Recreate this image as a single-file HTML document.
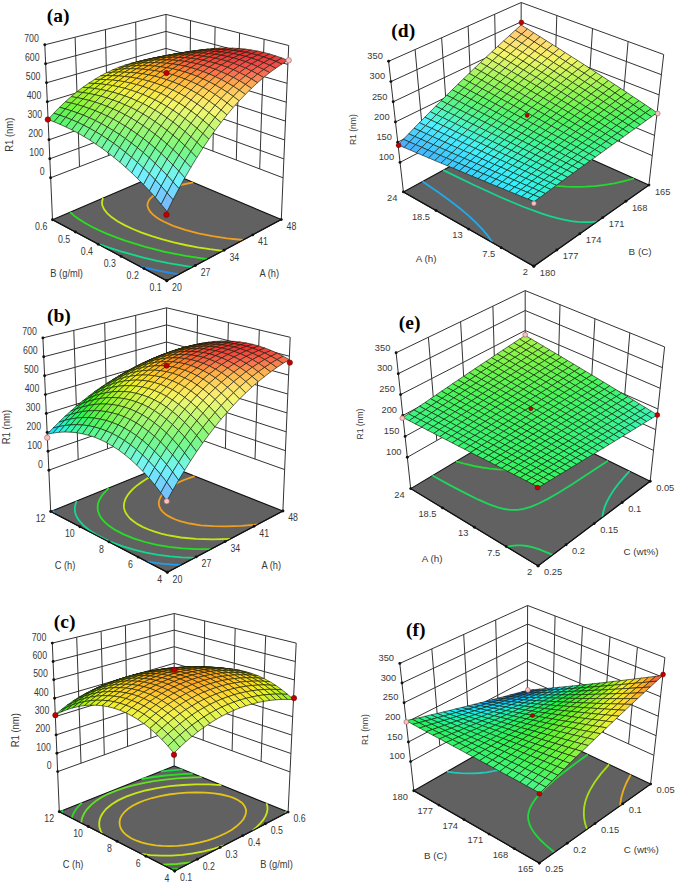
<!DOCTYPE html>
<html><head><meta charset="utf-8"><style>html,body{margin:0;padding:0;background:#fff;}svg{display:block;}</style></head><body>
<svg width="676" height="883" viewBox="0 0 676 883" font-family="&quot;Liberation Sans&quot;, sans-serif">
<rect width="676" height="883" fill="#fff"/>
<polygon points="52.5,219.8 166.2,171 166,14.4 44.8,44.8" fill="#fff"/>
<polygon points="166.2,171 281.3,219.6 288.7,45.5 166,14.4" fill="#fff"/>
<path d="M50.6,177.8L166.2,133.4L283.1,177.8M49.8,158.8L166.1,116.4L283.9,158.9M49,139.8L166.1,99.4L284.7,140M48.1,120.8L166.1,82.4L285.5,121.1M47.3,101.8L166.1,65.4L286.3,102.2M46.5,82.8L166,48.4L287.1,83.3M45.6,63.8L166,31.4L287.9,64.4M44.8,44.8L166,14.4L288.7,45.5M79.5,166.7L75.1,37.2M108.4,155.6L105.4,29.6M137.3,144.5L135.7,22M259.7,168.9L264.1,39.3M236.3,160L239.6,33M212.9,151.2L215.1,26.8M189.5,142.3L190.5,20.6M52.5,219.8L44.8,44.8M166.2,171L166,14.4M281.3,219.6L288.7,45.5" stroke="#333" stroke-width="1" fill="none"/>
<polygon points="166.8,280.8 52.5,219.8 166.2,171 281.3,219.6" fill="#616161" stroke="#111" stroke-width="1.1" stroke-linejoin="round"/>
<polyline points="140.2,266.6 159.4,270.8 178.9,274.4" fill="none" stroke="#2090f0" stroke-width="1.8"/>
<polyline points="97.3,243.7 109,247.7 120.7,251.4 144.2,257.8 156.1,260.6 168.4,263.2 192.3,267.2" fill="none" stroke="#10dc8c" stroke-width="1.8"/>
<polyline points="70.2,212.2 74.3,215.9 79,219.3 84.7,222.8 91.3,226.5 99,230.2 107.1,233.8 115.6,237.2 125.1,240.6 144.5,246.6 164.8,251.8 185.6,255.9 207.3,259.2" fill="none" stroke="#29e020" stroke-width="1.8"/>
<polyline points="103.1,198.1 102.4,199.9 102.1,201.8 102.1,203.8 102.4,205.6 104.1,209.3 107.3,213.3 111.8,217.3 117.5,221.2 124.5,225.1 132.8,229 141.6,232.6 151.8,236.2 162.5,239.4 173.7,242.4 185.4,245 197.7,247.3 209.8,249.2 223,250.8" fill="none" stroke="#cae717" stroke-width="1.8"/>
<polyline points="169.3,172.3 159.1,174" fill="none" stroke="#cae717" stroke-width="1.8"/>
<polyline points="193.2,182.4 180.5,185 169.9,187.9 160.7,191.5 157,193.4 154.1,195.2 151.7,197.1 149.6,199.3 148.4,201.3 147.6,203.6 147.5,205.8 148.1,208 149.1,210.1 150.8,212.4 153,214.7 156,217 159.4,219.2 163.6,221.5 173.1,225.8 185.2,229.9 198.3,233.3 212.5,236.2 227,238.3 243.1,240" fill="none" stroke="#f09f20" stroke-width="1.8"/>
<polyline points="52.5,219.8 166.8,280.8 281.3,219.6" fill="none" stroke="#111" stroke-width="1.1"/>
<circle cx="166.8" cy="280.8" r="1.45" fill="#111"/>
<circle cx="144" cy="268.6" r="1.45" fill="#111"/>
<circle cx="121.1" cy="256.4" r="1.45" fill="#111"/>
<circle cx="98.2" cy="244.2" r="1.45" fill="#111"/>
<circle cx="75.4" cy="232" r="1.45" fill="#111"/>
<circle cx="52.5" cy="219.8" r="1.45" fill="#111"/>
<circle cx="166.8" cy="280.8" r="1.45" fill="#111"/>
<circle cx="195.4" cy="265.5" r="1.45" fill="#111"/>
<circle cx="224.1" cy="250.2" r="1.45" fill="#111"/>
<circle cx="252.7" cy="234.9" r="1.45" fill="#111"/>
<circle cx="281.3" cy="219.6" r="1.45" fill="#111"/>
<circle cx="50.6" cy="177.8" r="1.45" fill="#111"/>
<circle cx="49.8" cy="158.8" r="1.45" fill="#111"/>
<circle cx="49" cy="139.8" r="1.45" fill="#111"/>
<circle cx="48.1" cy="120.8" r="1.45" fill="#111"/>
<circle cx="47.3" cy="101.8" r="1.45" fill="#111"/>
<circle cx="46.5" cy="82.8" r="1.45" fill="#111"/>
<circle cx="45.6" cy="63.8" r="1.45" fill="#111"/>
<circle cx="44.8" cy="44.8" r="1.45" fill="#111"/>
<g stroke="#141c0a" stroke-opacity=".88" stroke-width=".72" stroke-linejoin="round">
<path d="M166.1,56.9L160.1,58.7L166.1,58.6L172.1,56.7Z" fill="#dcf110"/>
<path d="M160.1,57.4L154.1,59.1L160.1,58.7L166.1,56.9Z" fill="#eaf10f"/>
<path d="M172.2,55.2L166.1,56.9L172.1,56.7L178.1,54.9Z" fill="#f1e70f"/>
<path d="M154.2,58.1L148.2,59.8L154.1,59.1L160.1,57.4Z" fill="#efec0e"/>
<path d="M166.2,55.8L160.1,57.4L166.1,56.9L172.2,55.2Z" fill="#f5e00e"/>
<path d="M178.2,53.7L172.2,55.2L178.1,54.9L184.2,53.3Z" fill="#f9d50e"/>
<path d="M148.2,59.2L142.2,60.7L148.2,59.8L154.2,58.1Z" fill="#f1e70d"/>
<path d="M160.2,56.7L154.2,58.1L160.1,57.4L166.2,55.8Z" fill="#f7da0d"/>
<path d="M172.2,54.5L166.2,55.8L172.2,55.2L178.2,53.7Z" fill="#fdd00d"/>
<path d="M184.3,52.5L178.2,53.7L184.2,53.3L190.3,51.9Z" fill="#ffc30d"/>
<path d="M142.2,60.6L136.2,62L142.2,60.7L148.2,59.2Z" fill="#f3e40d"/>
<path d="M154.2,57.9L148.2,59.2L154.2,58.1L160.2,56.7Z" fill="#f9d60d"/>
<path d="M166.3,55.5L160.2,56.7L166.2,55.8L172.2,54.5Z" fill="#ffca0d"/>
<path d="M178.3,53.3L172.2,54.5L178.2,53.7L184.3,52.5Z" fill="#ffbb0d"/>
<path d="M190.4,51.4L184.3,52.5L190.3,51.9L196.4,50.7Z" fill="#ffac0d"/>
<path d="M136.2,62.3L130.2,63.5L136.2,62L142.2,60.6Z" fill="#f3e30d"/>
<path d="M148.2,59.5L142.2,60.6L148.2,59.2L154.2,57.9Z" fill="#fad40d"/>
<path d="M160.3,56.9L154.2,57.9L160.2,56.7L166.3,55.5Z" fill="#ffc50d"/>
<path d="M172.3,54.5L166.3,55.5L172.2,54.5L178.3,53.3Z" fill="#ffb40d"/>
<path d="M184.4,52.4L178.3,53.3L184.3,52.5L190.4,51.4Z" fill="#ffa50d"/>
<path d="M196.5,50.6L190.4,51.4L196.4,50.7L202.5,49.7Z" fill="#ff980d"/>
<path d="M130.3,64.3L124.3,65.4L130.2,63.5L136.2,62.3Z" fill="#f3e30d"/>
<path d="M142.3,61.4L136.2,62.3L142.2,60.6L148.2,59.5Z" fill="#fad30d"/>
<path d="M154.3,58.6L148.2,59.5L154.2,57.9L160.3,56.9Z" fill="#ffc30d"/>
<path d="M166.3,56.1L160.3,56.9L166.3,55.5L172.3,54.5Z" fill="#ffb00d"/>
<path d="M178.4,53.8L172.3,54.5L178.3,53.3L184.4,52.4Z" fill="#ffa00d"/>
<path d="M190.5,51.8L184.4,52.4L190.4,51.4L196.5,50.6Z" fill="#ff920d"/>
<path d="M202.6,50L196.5,50.6L202.5,49.7L208.6,49Z" fill="#fd7c14"/>
<path d="M124.3,66.7L118.3,67.5L124.3,65.4L130.3,64.3Z" fill="#f2e50e"/>
<path d="M136.3,63.6L130.3,64.3L136.2,62.3L142.3,61.4Z" fill="#fad50e"/>
<path d="M148.3,60.6L142.3,61.4L148.2,59.5L154.3,58.6Z" fill="#ffc30e"/>
<path d="M160.3,57.9L154.3,58.6L160.3,56.9L166.3,56.1Z" fill="#ffb00e"/>
<path d="M172.4,55.5L166.3,56.1L172.3,54.5L178.4,53.8Z" fill="#ff9e0e"/>
<path d="M184.5,53.3L178.4,53.8L184.4,52.4L190.5,51.8Z" fill="#fe8a10"/>
<path d="M196.6,51.3L190.5,51.8L196.5,50.6L202.6,50Z" fill="#fc7219"/>
<path d="M118.3,69.4L112.4,70L118.3,67.5L124.3,66.7Z" fill="#f1e810"/>
<path d="M208.7,49.6L202.6,50L208.6,49L214.7,48.4Z" fill="#f95d20"/>
<path d="M130.3,66.1L124.3,66.7L130.3,64.3L136.3,63.6Z" fill="#f9d810"/>
<path d="M142.3,63L136.3,63.6L142.3,61.4L148.3,60.6Z" fill="#ffc70f"/>
<path d="M154.3,60.1L148.3,60.6L154.3,58.6L160.3,57.9Z" fill="#ffb10f"/>
<path d="M166.4,57.5L160.3,57.9L166.3,56.1L172.4,55.5Z" fill="#ff9e0f"/>
<path d="M178.5,55.1L172.4,55.5L178.4,53.8L184.5,53.3Z" fill="#fe8812"/>
<path d="M112.4,72.3L106.4,72.8L112.4,70L118.3,69.4Z" fill="#eeec12"/>
<path d="M190.6,53L184.5,53.3L190.5,51.8L196.6,51.3Z" fill="#fb6d1b"/>
<path d="M202.7,51.1L196.6,51.3L202.6,50L208.7,49.6Z" fill="#f85524"/>
<path d="M124.3,68.9L118.3,69.4L124.3,66.7L130.3,66.1Z" fill="#f8dc12"/>
<path d="M214.8,49.4L208.7,49.6L214.7,48.4L220.8,48.1Z" fill="#f64926"/>
<path d="M136.3,65.7L130.3,66.1L136.3,63.6L142.3,63Z" fill="#ffcc11"/>
<path d="M148.3,62.7L142.3,63L148.3,60.6L154.3,60.1Z" fill="#ffb511"/>
<path d="M160.4,59.9L154.3,60.1L160.3,57.9L166.4,57.5Z" fill="#ffa111"/>
<path d="M106.5,75.7L100.5,75.9L106.4,72.8L112.4,72.3Z" fill="#e9f115"/>
<path d="M172.5,57.3L166.4,57.5L172.4,55.5L178.5,55.1Z" fill="#fe8b13"/>
<path d="M184.6,55L178.5,55.1L184.5,53.3L190.6,53Z" fill="#fb6d1e"/>
<path d="M118.4,72.1L112.4,72.3L118.3,69.4L124.3,68.9Z" fill="#f5e214"/>
<path d="M196.7,52.9L190.6,53L196.6,51.3L202.7,51.1Z" fill="#f85227"/>
<path d="M208.8,51.1L202.7,51.1L208.7,49.6L214.8,49.4Z" fill="#f64728"/>
<path d="M220.9,49.5L214.8,49.4L220.8,48.1L226.9,48Z" fill="#f33e28"/>
<path d="M130.4,68.8L124.3,68.9L130.3,66.1L136.3,65.7Z" fill="#fdd114"/>
<path d="M142.4,65.6L136.3,65.7L142.3,63L148.3,62.7Z" fill="#ffbc13"/>
<path d="M154.4,62.6L148.3,62.7L154.3,60.1L160.4,59.9Z" fill="#ffa613"/>
<path d="M100.5,79.4L94.6,79.4L100.5,75.9L106.5,75.7Z" fill="#dcf118"/>
<path d="M166.5,59.9L160.4,59.9L166.4,57.5L172.5,57.3Z" fill="#ff9113"/>
<path d="M112.5,75.7L106.5,75.7L112.4,72.3L118.4,72.1Z" fill="#f1e817"/>
<path d="M178.5,57.4L172.5,57.3L178.5,55.1L184.6,55Z" fill="#fb721e"/>
<path d="M190.7,55.1L184.6,55L190.6,53L196.7,52.9Z" fill="#f85428"/>
<path d="M124.4,72.2L118.4,72.1L124.3,68.9L130.4,68.8Z" fill="#fad817"/>
<path d="M202.8,53.1L196.7,52.9L202.7,51.1L208.8,51.1Z" fill="#f54829"/>
<path d="M214.9,51.4L208.8,51.1L214.8,49.4L220.9,49.5Z" fill="#f23d2b"/>
<path d="M227,49.8L220.9,49.5L226.9,48L233.1,48.2Z" fill="#ef352b"/>
<path d="M136.4,68.8L130.4,68.8L136.3,65.7L142.4,65.6Z" fill="#ffc516"/>
<path d="M94.6,83.4L88.7,83.2L94.6,79.4L100.5,79.4Z" fill="#cbf21c"/>
<path d="M148.4,65.7L142.4,65.6L148.3,62.7L154.4,62.6Z" fill="#ffae16"/>
<path d="M160.5,62.8L154.4,62.6L160.4,59.9L166.5,59.9Z" fill="#ff9a15"/>
<path d="M106.5,79.6L100.5,79.4L106.5,75.7L112.5,75.7Z" fill="#edf21b"/>
<path d="M172.5,60.1L166.5,59.9L172.5,57.3L178.5,57.4Z" fill="#fc7b1e"/>
<path d="M118.5,75.9L112.5,75.7L118.4,72.1L124.4,72.2Z" fill="#f6e01a"/>
<path d="M184.6,57.7L178.5,57.4L184.6,55L190.7,55.1Z" fill="#f95c28"/>
<path d="M196.8,55.5L190.7,55.1L196.7,52.9L202.8,53.1Z" fill="#f64b2b"/>
<path d="M130.4,72.5L124.4,72.2L130.4,68.8L136.4,68.8Z" fill="#fecf1a"/>
<path d="M208.9,53.6L202.8,53.1L208.8,51.1L214.9,51.4Z" fill="#f2402d"/>
<path d="M221,51.9L214.9,51.4L220.9,49.5L227,49.8Z" fill="#ef362d"/>
<path d="M88.8,87.8L82.8,87.3L88.7,83.2L94.6,83.4Z" fill="#b9f220"/>
<path d="M233.2,50.4L227,49.8L233.1,48.2L239.2,48.5Z" fill="#ec2e2e"/>
<path d="M142.4,69.2L136.4,68.8L142.4,65.6L148.4,65.7Z" fill="#ffb919"/>
<path d="M100.6,83.9L94.6,83.4L100.5,79.4L106.5,79.6Z" fill="#dcf21f"/>
<path d="M154.5,66.1L148.4,65.7L154.4,62.6L160.5,62.8Z" fill="#ffa418"/>
<path d="M166.5,63.3L160.5,62.8L166.5,59.9L172.5,60.1Z" fill="#fe8a1c"/>
<path d="M112.5,80.1L106.5,79.6L112.5,75.7L118.5,75.9Z" fill="#f2e91f"/>
<path d="M178.6,60.6L172.5,60.1L178.5,57.4L184.6,57.7Z" fill="#fa6927"/>
<path d="M190.7,58.3L184.6,57.7L190.7,55.1L196.8,55.5Z" fill="#f7512e"/>
<path d="M124.5,76.5L118.5,75.9L124.4,72.2L130.4,72.5Z" fill="#fad81e"/>
<path d="M82.9,92.5L76.9,91.8L82.8,87.3L88.8,87.8Z" fill="#a6f225"/>
<path d="M202.9,56.2L196.8,55.5L202.8,53.1L208.9,53.6Z" fill="#f3442e"/>
<path d="M215,54.3L208.9,53.6L214.9,51.4L221,51.9Z" fill="#ef3a2f"/>
<path d="M136.5,73L130.4,72.5L136.4,68.8L142.4,69.2Z" fill="#ffc51d"/>
<path d="M227.1,52.6L221,51.9L227,49.8L233.2,50.4Z" fill="#ed3130"/>
<path d="M239.3,51.2L233.2,50.4L239.2,48.5L245.3,49.1Z" fill="#eb2d2e"/>
<path d="M94.7,88.5L88.8,87.8L94.6,83.4L100.6,83.9Z" fill="#c9f224"/>
<path d="M148.5,69.8L142.4,69.2L148.4,65.7L154.5,66.1Z" fill="#ffaf1c"/>
<path d="M106.6,84.6L100.6,83.9L106.5,79.6L112.5,80.1Z" fill="#eaf223"/>
<path d="M160.5,66.8L154.5,66.1L160.5,62.8L166.5,63.3Z" fill="#ff9a1b"/>
<path d="M172.6,64L166.5,63.3L172.5,60.1L178.6,60.6Z" fill="#fc7925"/>
<path d="M118.5,80.8L112.5,80.1L118.5,75.9L124.5,76.5Z" fill="#f5e222"/>
<path d="M77.1,97.6L71.1,96.6L76.9,91.8L82.9,92.5Z" fill="#92f32b"/>
<path d="M184.7,61.4L178.6,60.6L184.6,57.7L190.7,58.3Z" fill="#f95a2f"/>
<path d="M196.8,59.1L190.7,58.3L196.8,55.5L202.9,56.2Z" fill="#f54b31"/>
<path d="M130.5,77.2L124.5,76.5L130.4,72.5L136.5,73Z" fill="#fdd321"/>
<path d="M88.9,93.5L82.9,92.5L88.8,87.8L94.7,88.5Z" fill="#b4f22a"/>
<path d="M209,57.1L202.9,56.2L208.9,53.6L215,54.3Z" fill="#f14032"/>
<path d="M221.1,55.2L215,54.3L221,51.9L227.1,52.6Z" fill="#ee3633"/>
<path d="M142.5,73.8L136.5,73L142.4,69.2L148.5,69.8Z" fill="#ffbd21"/>
<path d="M233.3,53.6L227.1,52.6L233.2,50.4L239.3,51.2Z" fill="#ec3131"/>
<path d="M245.4,52.3L239.3,51.2L245.3,49.1L251.4,50Z" fill="#ea2f30"/>
<path d="M100.7,89.5L94.7,88.5L100.6,83.9L106.6,84.6Z" fill="#d5f229"/>
<path d="M154.5,70.6L148.5,69.8L154.5,66.1L160.5,66.8Z" fill="#ffa720"/>
<path d="M71.3,103.1L65.3,101.8L71.1,96.6L77.1,97.6Z" fill="#7ff331"/>
<path d="M112.6,85.6L106.6,84.6L112.5,80.1L118.5,80.8Z" fill="#f0ee28"/>
<path d="M166.6,67.7L160.5,66.8L166.5,63.3L172.6,64Z" fill="#fe8e22"/>
<path d="M178.7,64.9L172.6,64L178.6,60.6L184.7,61.4Z" fill="#fb6d2e"/>
<path d="M124.6,81.8L118.5,80.8L124.5,76.5L130.5,77.2Z" fill="#f8de27"/>
<path d="M83,98.9L77.1,97.6L82.9,92.5L88.9,93.5Z" fill="#9ef330"/>
<path d="M190.8,62.5L184.7,61.4L190.7,58.3L196.8,59.1Z" fill="#f75634"/>
<path d="M202.9,60.2L196.8,59.1L202.9,56.2L209,57.1Z" fill="#f34934"/>
<path d="M136.5,78.3L130.5,77.2L136.5,73L142.5,73.8Z" fill="#ffcd26"/>
<path d="M215.1,58.2L209,57.1L215,54.3L221.1,55.2Z" fill="#f03e35"/>
<path d="M94.9,94.7L88.9,93.5L94.7,88.5L100.7,89.5Z" fill="#bff32f"/>
<path d="M227.2,56.5L221.1,55.2L227.1,52.6L233.3,53.6Z" fill="#ed3535"/>
<path d="M239.4,54.9L233.3,53.6L239.3,51.2L245.4,52.3Z" fill="#ea3234"/>
<path d="M148.6,74.9L142.5,73.8L148.5,69.8L154.5,70.6Z" fill="#ffb725"/>
<path d="M251.5,53.6L245.4,52.3L251.4,50L257.6,51.1Z" fill="#e82f32"/>
<path d="M65.5,108.9L59.5,107.3L65.3,101.8L71.3,103.1Z" fill="#6bf33b"/>
<path d="M106.7,90.7L100.7,89.5L106.6,84.6L112.6,85.6Z" fill="#e0f32e"/>
<path d="M160.6,71.7L154.5,70.6L160.5,66.8L166.6,67.7Z" fill="#ffa224"/>
<path d="M77.2,104.6L71.3,103.1L77.1,97.6L83,98.9Z" fill="#8af337"/>
<path d="M172.7,68.8L166.6,67.7L172.6,64L178.7,64.9Z" fill="#fc852a"/>
<path d="M118.6,86.8L112.6,85.6L118.5,80.8L124.6,81.8Z" fill="#f3ea2d"/>
<path d="M184.8,66.2L178.7,64.9L184.7,61.4L190.8,62.5Z" fill="#fa6635"/>
<path d="M89,100.4L83,98.9L88.9,93.5L94.9,94.7Z" fill="#a7f336"/>
<path d="M130.6,83.1L124.6,81.8L130.5,77.2L136.5,78.3Z" fill="#fbda2b"/>
<path d="M196.9,63.8L190.8,62.5L196.8,59.1L202.9,60.2Z" fill="#f55437"/>
<path d="M59.7,115.2L53.8,113.2L59.5,107.3L65.5,108.9Z" fill="#5cf450"/>
<path d="M209,61.6L202.9,60.2L209,57.1L215.1,58.2Z" fill="#f24838"/>
<path d="M142.6,79.5L136.5,78.3L142.5,73.8L148.6,74.9Z" fill="#ffc82a"/>
<path d="M221.2,59.6L215.1,58.2L221.1,55.2L227.2,56.5Z" fill="#ef3d38"/>
<path d="M100.9,96.2L94.9,94.7L100.7,89.5L106.7,90.7Z" fill="#c8f334"/>
<path d="M233.3,57.9L227.2,56.5L233.3,53.6L239.4,54.9Z" fill="#ec3737"/>
<path d="M245.5,56.4L239.4,54.9L245.4,52.3L251.5,53.6Z" fill="#eb3536"/>
<path d="M257.6,55.1L251.5,53.6L257.6,51.1L263.7,52.4Z" fill="#e93234"/>
<path d="M154.6,76.2L148.6,74.9L154.5,70.6L160.6,71.7Z" fill="#ffb329"/>
<path d="M71.4,110.8L65.5,108.9L71.3,103.1L77.2,104.6Z" fill="#74f43f"/>
<path d="M112.7,92.2L106.7,90.7L112.6,85.6L118.6,86.8Z" fill="#e7f333"/>
<path d="M166.7,73.1L160.6,71.7L166.6,67.7L172.7,68.8Z" fill="#ffa028"/>
<path d="M83.2,106.4L77.2,104.6L83,98.9L89,100.4Z" fill="#92f43d"/>
<path d="M178.8,70.3L172.7,68.8L178.7,64.9L184.8,66.2Z" fill="#fc8032"/>
<path d="M124.7,88.3L118.6,86.8L124.6,81.8L130.6,83.1Z" fill="#f5e732"/>
<path d="M54,121.8L48.1,119.5L53.8,113.2L59.7,115.2Z" fill="#50f467"/>
<path d="M190.9,67.7L184.8,66.2L190.8,62.5L196.9,63.8Z" fill="#f9623b"/>
<path d="M95,102.1L89,100.4L94.9,94.7L100.9,96.2Z" fill="#aff43c"/>
<path d="M136.6,84.6L130.6,83.1L136.5,78.3L142.6,79.5Z" fill="#fdd830"/>
<path d="M203,65.3L196.9,63.8L202.9,60.2L209,61.6Z" fill="#f5553c"/>
<path d="M215.1,63.2L209,61.6L215.1,58.2L221.2,59.6Z" fill="#f1493c"/>
<path d="M65.7,117.3L59.7,115.2L65.5,108.9L71.4,110.8Z" fill="#64f454"/>
<path d="M227.3,61.3L221.2,59.6L227.2,56.5L233.3,57.9Z" fill="#ef3f3c"/>
<path d="M148.6,81.1L142.6,79.5L148.6,74.9L154.6,76.2Z" fill="#ffc52f"/>
<path d="M239.4,59.7L233.3,57.9L239.4,54.9L245.5,56.4Z" fill="#ec3a3b"/>
<path d="M106.9,98L100.9,96.2L106.7,90.7L112.7,92.2Z" fill="#cef33a"/>
<path d="M251.6,58.2L245.5,56.4L251.5,53.6L257.6,55.1Z" fill="#ea3739"/>
<path d="M263.7,57L257.6,55.1L263.7,52.4L269.8,54Z" fill="#e93537"/>
<path d="M160.7,77.8L154.6,76.2L160.6,71.7L166.7,73.1Z" fill="#ffb12e"/>
<path d="M77.4,112.9L71.4,110.8L77.2,104.6L83.2,106.4Z" fill="#7df446"/>
<path d="M118.8,93.9L112.7,92.2L118.6,86.8L124.7,88.3Z" fill="#edf339"/>
<path d="M172.7,74.8L166.7,73.1L172.7,68.8L178.8,70.3Z" fill="#ff9d2d"/>
<path d="M89.2,108.5L83.2,106.4L89,100.4L95,102.1Z" fill="#99f444"/>
<path d="M184.8,72L178.8,70.3L184.8,66.2L190.9,67.7Z" fill="#fc7e38"/>
<path d="M130.7,90.1L124.7,88.3L130.6,83.1L136.6,84.6Z" fill="#f6e537"/>
<path d="M60,124.3L54,121.8L59.7,115.2L65.7,117.3Z" fill="#57f56c"/>
<path d="M196.9,69.5L190.9,67.7L196.9,63.8L203,65.3Z" fill="#f8633f"/>
<path d="M209.1,67.2L203,65.3L209,61.6L215.1,63.2Z" fill="#f55740"/>
<path d="M101,104.1L95,102.1L100.9,96.2L106.9,98Z" fill="#b6f442"/>
<path d="M142.7,86.4L136.6,84.6L142.6,79.5L148.6,81.1Z" fill="#fdd736"/>
<path d="M221.2,65.1L215.1,63.2L221.2,59.6L227.3,61.3Z" fill="#f14c3f"/>
<path d="M71.7,119.7L65.7,117.3L71.4,110.8L77.4,112.9Z" fill="#6cf55a"/>
<path d="M233.3,63.3L227.3,61.3L233.3,57.9L239.4,59.7Z" fill="#ef4340"/>
<path d="M154.7,82.9L148.6,81.1L154.6,76.2L160.7,77.8Z" fill="#ffc434"/>
<path d="M245.5,61.7L239.4,59.7L245.5,56.4L251.6,58.2Z" fill="#ec3e3e"/>
<path d="M257.7,60.3L251.6,58.2L257.6,55.1L263.7,57Z" fill="#eb3c3d"/>
<path d="M112.9,100L106.9,98L112.7,92.2L118.8,93.9Z" fill="#d4f441"/>
<path d="M269.8,59.1L263.7,57L269.8,54L275.9,55.9Z" fill="#e9393c"/>
<path d="M166.7,79.7L160.7,77.8L166.7,73.1L172.7,74.8Z" fill="#ffb133"/>
<path d="M83.4,115.2L77.4,112.9L83.2,106.4L89.2,108.5Z" fill="#84f54d"/>
<path d="M124.8,95.9L118.8,93.9L124.7,88.3L130.7,90.1Z" fill="#f0f43f"/>
<path d="M178.8,76.8L172.7,74.8L178.8,70.3L184.8,72Z" fill="#fe9d34"/>
<path d="M95.2,110.7L89.2,108.5L95,102.1L101,104.1Z" fill="#9ff44b"/>
<path d="M190.9,74L184.8,72L190.9,67.7L196.9,69.5Z" fill="#fc7f3c"/>
<path d="M136.7,92.1L130.7,90.1L136.6,84.6L142.7,86.4Z" fill="#f7e53d"/>
<path d="M65.9,127L60,124.3L65.7,117.3L71.7,119.7Z" fill="#5ff572"/>
<path d="M203,71.6L196.9,69.5L203,65.3L209.1,67.2Z" fill="#f86643"/>
<path d="M215.1,69.3L209.1,67.2L215.1,63.2L221.2,65.1Z" fill="#f55b44"/>
<path d="M107,106.4L101,104.1L106.9,98L112.9,100Z" fill="#baf449"/>
<path d="M148.7,88.5L142.7,86.4L148.6,81.1L154.7,82.9Z" fill="#fed73c"/>
<path d="M227.3,67.3L221.2,65.1L227.3,61.3L233.3,63.3Z" fill="#f35144"/>
<path d="M77.6,122.3L71.7,119.7L77.4,112.9L83.4,115.2Z" fill="#73f561"/>
<path d="M239.4,65.6L233.3,63.3L239.4,59.7L245.5,61.7Z" fill="#f04843"/>
<path d="M251.6,64L245.5,61.7L251.6,58.2L257.7,60.3Z" fill="#ed4243"/>
<path d="M160.8,85.1L154.7,82.9L160.7,77.8L166.7,79.7Z" fill="#ffc53a"/>
<path d="M263.7,62.7L257.7,60.3L263.7,57L269.8,59.1Z" fill="#ec4042"/>
<path d="M275.9,61.4L269.8,59.1L275.9,55.9L282,58Z" fill="#eb3e40"/>
<path d="M118.9,102.2L112.9,100L118.8,93.9L124.8,95.9Z" fill="#d7f447"/>
<path d="M172.8,81.9L166.7,79.7L172.7,74.8L178.8,76.8Z" fill="#ffb339"/>
<path d="M89.4,117.8L83.4,115.2L89.2,108.5L95.2,110.7Z" fill="#89f554"/>
<path d="M130.8,98.2L124.8,95.9L130.7,90.1L136.7,92.1Z" fill="#f0f345"/>
<path d="M184.9,79L178.8,76.8L184.8,72L190.9,74Z" fill="#fea039"/>
<path d="M101.2,113.3L95.2,110.7L101,104.1L107,106.4Z" fill="#a3f552"/>
<path d="M197,76.3L190.9,74L196.9,69.5L203,71.6Z" fill="#fc8541"/>
<path d="M71.9,129.9L65.9,127L71.7,119.7L77.6,122.3Z" fill="#66f67a"/>
<path d="M142.8,94.4L136.7,92.1L142.7,86.4L148.7,88.5Z" fill="#f8e543"/>
<path d="M209.1,73.9L203,71.6L209.1,67.2L215.1,69.3Z" fill="#f96c48"/>
<path d="M221.2,71.8L215.1,69.3L221.2,65.1L227.3,67.3Z" fill="#f66149"/>
<path d="M113,108.9L107,106.4L112.9,100L118.9,102.2Z" fill="#bdf550"/>
<path d="M154.8,90.8L148.7,88.5L154.7,82.9L160.8,85.1Z" fill="#fed842"/>
<path d="M233.4,69.8L227.3,67.3L233.3,63.3L239.4,65.6Z" fill="#f45848"/>
<path d="M83.6,125.2L77.6,122.3L83.4,115.2L89.4,117.8Z" fill="#79f669"/>
<path d="M245.5,68.1L239.4,65.6L245.5,61.7L251.6,64Z" fill="#f14f48"/>
<path d="M257.6,66.6L251.6,64L257.7,60.3L263.7,62.7Z" fill="#ef4948"/>
<path d="M269.8,65.3L263.7,62.7L269.8,59.1L275.9,61.4Z" fill="#ee4646"/>
<path d="M281.9,64.1L275.9,61.4L282,58L288,60.4Z" fill="#ec4345"/>
<path d="M166.8,87.5L160.8,85.1L166.7,79.7L172.8,81.9Z" fill="#ffc740"/>
<path d="M124.9,104.8L118.9,102.2L124.8,95.9L130.8,98.2Z" fill="#d7f54e"/>
<path d="M178.9,84.4L172.8,81.9L178.8,76.8L184.9,79Z" fill="#ffb73f"/>
<path d="M95.4,120.6L89.4,117.8L95.2,110.7L101.2,113.3Z" fill="#8ef55c"/>
<path d="M136.9,100.8L130.8,98.2L136.7,92.1L142.8,94.4Z" fill="#f1f44c"/>
<path d="M190.9,81.5L184.9,79L190.9,74L197,76.3Z" fill="#ffa63e"/>
<path d="M203,78.9L197,76.3L203,71.6L209.1,73.9Z" fill="#fd8c45"/>
<path d="M107.2,116.1L101.2,113.3L107,106.4L113,108.9Z" fill="#a5f55a"/>
<path d="M77.9,133.1L71.9,129.9L77.6,122.3L83.6,125.2Z" fill="#6ef683"/>
<path d="M148.8,97L142.8,94.4L148.7,88.5L154.8,90.8Z" fill="#f7e74a"/>
<path d="M215.2,76.6L209.1,73.9L215.1,69.3L221.2,71.8Z" fill="#fa764c"/>
<path d="M227.3,74.5L221.2,71.8L227.3,67.3L233.4,69.8Z" fill="#f7694d"/>
<path d="M160.8,93.4L154.8,90.8L160.8,85.1L166.8,87.5Z" fill="#fedb48"/>
<path d="M119.1,111.7L113,108.9L118.9,102.2L124.9,104.8Z" fill="#bef557"/>
<path d="M239.4,72.6L233.4,69.8L239.4,65.6L245.5,68.1Z" fill="#f5604d"/>
<path d="M251.6,70.9L245.5,68.1L251.6,64L257.6,66.6Z" fill="#f2594c"/>
<path d="M89.6,128.3L83.6,125.2L89.4,117.8L95.4,120.6Z" fill="#7ef671"/>
<path d="M263.7,69.5L257.6,66.6L263.7,62.7L269.8,65.3Z" fill="#f1524c"/>
<path d="M275.8,68.2L269.8,65.3L275.9,61.4L281.9,64.1Z" fill="#f04d4c"/>
<path d="M172.9,90.1L166.8,87.5L172.8,81.9L178.9,84.4Z" fill="#ffcb47"/>
<path d="M131,107.6L124.9,104.8L130.8,98.2L136.9,100.8Z" fill="#d7f555"/>
<path d="M184.9,87.1L178.9,84.4L184.9,79L190.9,81.5Z" fill="#ffbb45"/>
<path d="M101.4,123.7L95.4,120.6L101.2,113.3L107.2,116.1Z" fill="#91f664"/>
<path d="M142.9,103.6L136.9,100.8L142.8,94.4L148.8,97Z" fill="#eff553"/>
<path d="M197,84.3L190.9,81.5L197,76.3L203,78.9Z" fill="#ffad43"/>
<path d="M209.1,81.8L203,78.9L209.1,73.9L215.2,76.6Z" fill="#fe9748"/>
<path d="M113.2,119.1L107.2,116.1L113,108.9L119.1,111.7Z" fill="#a7f661"/>
<path d="M83.9,136.5L77.9,133.1L83.6,125.2L89.6,128.3Z" fill="#75f78d"/>
<path d="M154.9,99.9L148.8,97L154.8,90.8L160.8,93.4Z" fill="#f7ea51"/>
<path d="M221.2,79.5L215.2,76.6L221.2,71.8L227.3,74.5Z" fill="#fb824e"/>
<path d="M233.3,77.5L227.3,74.5L233.4,69.8L239.4,72.6Z" fill="#f97252"/>
<path d="M245.5,75.7L239.4,72.6L245.5,68.1L251.6,70.9Z" fill="#f76951"/>
<path d="M166.9,96.4L160.8,93.4L166.8,87.5L172.9,90.1Z" fill="#fcde4f"/>
<path d="M125.1,114.8L119.1,111.7L124.9,104.8L131,107.6Z" fill="#bef65f"/>
<path d="M257.6,74.1L251.6,70.9L257.6,66.6L263.7,69.5Z" fill="#f56351"/>
<path d="M269.7,72.6L263.7,69.5L269.8,65.3L275.8,68.2Z" fill="#f35e50"/>
<path d="M95.6,131.7L89.6,128.3L95.4,120.6L101.4,123.7Z" fill="#82f77b"/>
<path d="M178.9,93.1L172.9,90.1L178.9,84.4L184.9,87.1Z" fill="#ffd04d"/>
<path d="M137,110.6L131,107.6L136.9,100.8L142.9,103.6Z" fill="#d6f55d"/>
<path d="M191,90.1L184.9,87.1L190.9,81.5L197,84.3Z" fill="#ffc24c"/>
<path d="M107.4,127L101.4,123.7L107.2,116.1L113.2,119.1Z" fill="#94f66d"/>
<path d="M203.1,87.4L197,84.3L203,78.9L209.1,81.8Z" fill="#ffb44a"/>
<path d="M148.9,106.7L142.9,103.6L148.8,97L154.9,99.9Z" fill="#ecf55a"/>
<path d="M215.2,85L209.1,81.8L215.2,76.6L221.2,79.5Z" fill="#fea54b"/>
<path d="M119.2,122.5L113.2,119.1L119.1,111.7L125.1,114.8Z" fill="#a8f669"/>
<path d="M89.9,140.1L83.9,136.5L89.6,128.3L95.6,131.7Z" fill="#76f793"/>
<path d="M227.3,82.8L221.2,79.5L227.3,74.5L233.3,77.5Z" fill="#fc9150"/>
<path d="M160.9,103L154.9,99.9L160.8,93.4L166.9,96.4Z" fill="#f6ed58"/>
<path d="M239.4,80.8L233.3,77.5L239.4,72.6L245.5,75.7Z" fill="#fb8055"/>
<path d="M251.5,79L245.5,75.7L251.6,70.9L257.6,74.1Z" fill="#f97556"/>
<path d="M263.6,77.5L257.6,74.1L263.7,69.5L269.7,72.6Z" fill="#f86f56"/>
<path d="M172.9,99.6L166.9,96.4L172.9,90.1L178.9,93.1Z" fill="#fbe256"/>
<path d="M131.1,118.1L125.1,114.8L131,107.6L137,110.6Z" fill="#bdf667"/>
<path d="M101.6,135.3L95.6,131.7L101.4,123.7L107.4,127Z" fill="#82f780"/>
<path d="M185,96.4L178.9,93.1L184.9,87.1L191,90.1Z" fill="#ffd754"/>
<path d="M143,114L137,110.6L142.9,103.6L148.9,106.7Z" fill="#d3f664"/>
<path d="M197,93.5L191,90.1L197,84.3L203.1,87.4Z" fill="#ffca53"/>
<path d="M113.4,130.6L107.4,127L113.2,119.1L119.2,122.5Z" fill="#95f776"/>
<path d="M209.1,90.8L203.1,87.4L209.1,81.8L215.2,85Z" fill="#ffbd51"/>
<path d="M154.9,110.1L148.9,106.7L154.9,99.9L160.9,103Z" fill="#e8f662"/>
<path d="M221.2,88.5L215.2,85L221.2,79.5L227.3,82.8Z" fill="#ffb24f"/>
<path d="M125.2,126.1L119.2,122.5L125.1,114.8L131.1,118.1Z" fill="#a9f772"/>
<path d="M95.8,144.1L89.9,140.1L95.6,131.7L101.6,135.3Z" fill="#75f798"/>
<path d="M233.3,86.3L227.3,82.8L233.3,77.5L239.4,80.8Z" fill="#fea352"/>
<path d="M166.9,106.5L160.9,103L166.9,96.4L172.9,99.6Z" fill="#f5f160"/>
<path d="M245.4,84.4L239.4,80.8L245.5,75.7L251.5,79Z" fill="#fc9356"/>
<path d="M257.5,82.7L251.5,79L257.6,74.1L263.6,77.5Z" fill="#fb8659"/>
<path d="M178.9,103.1L172.9,99.6L178.9,93.1L185,96.4Z" fill="#f9e75e"/>
<path d="M137.1,121.7L131.1,118.1L137,110.6L143,114Z" fill="#bbf76f"/>
<path d="M107.6,139.2L101.6,135.3L107.4,127L113.4,130.6Z" fill="#7df783"/>
<path d="M191,100L185,96.4L191,90.1L197,93.5Z" fill="#fede5c"/>
<path d="M149,117.6L143,114L148.9,106.7L154.9,110.1Z" fill="#cff66d"/>
<path d="M203,97.1L197,93.5L203.1,87.4L209.1,90.8Z" fill="#ffd25a"/>
<path d="M119.4,134.4L113.4,130.6L119.2,122.5L125.2,126.1Z" fill="#90f778"/>
<path d="M215.1,94.6L209.1,90.8L215.2,85L221.2,88.5Z" fill="#ffc758"/>
<path d="M161,113.8L154.9,110.1L160.9,103L166.9,106.5Z" fill="#e2f66a"/>
<path d="M227.2,92.2L221.2,88.5L227.3,82.8L233.3,86.3Z" fill="#ffbd57"/>
<path d="M239.3,90.2L233.3,86.3L239.4,80.8L245.4,84.4Z" fill="#ffb455"/>
<path d="M131.2,129.9L125.2,126.1L131.1,118.1L137.1,121.7Z" fill="#a3f773"/>
<path d="M101.8,148.2L95.8,144.1L101.6,135.3L107.6,139.2Z" fill="#74f89e"/>
<path d="M173,110.2L166.9,106.5L172.9,99.6L178.9,103.1Z" fill="#f4f668"/>
<path d="M251.4,88.3L245.4,84.4L251.5,79L257.5,82.7Z" fill="#fea857"/>
<path d="M185,106.9L178.9,103.1L185,96.4L191,100Z" fill="#f8ec66"/>
<path d="M143.1,125.6L137.1,121.7L143,114L149,117.6Z" fill="#b7f773"/>
<path d="M113.6,143.3L107.6,139.2L113.4,130.6L119.4,134.4Z" fill="#78f787"/>
<path d="M197,103.9L191,100L197,93.5L203,97.1Z" fill="#fce464"/>
<path d="M155,121.6L149,117.6L154.9,110.1L161,113.8Z" fill="#caf773"/>
<path d="M209.1,101.1L203,97.1L209.1,90.8L215.1,94.6Z" fill="#ffdc62"/>
<path d="M125.4,138.6L119.4,134.4L125.2,126.1L131.2,129.9Z" fill="#8af77c"/>
<path d="M221.1,98.6L215.1,94.6L221.2,88.5L227.2,92.2Z" fill="#ffd260"/>
<path d="M167,117.8L161,113.8L166.9,106.5L173,110.2Z" fill="#dcf772"/>
<path d="M233.2,96.4L227.2,92.2L233.3,86.3L239.3,90.2Z" fill="#ffc85e"/>
<path d="M245.3,94.4L239.3,90.2L245.4,84.4L251.4,88.3Z" fill="#ffc15d"/>
<path d="M137.2,134.1L131.2,129.9L137.1,121.7L143.1,125.6Z" fill="#9df773"/>
<path d="M107.8,152.6L101.8,148.2L107.6,139.2L113.6,143.3Z" fill="#73f8a6"/>
<path d="M179,114.3L173,110.2L178.9,103.1L185,106.9Z" fill="#edf770"/>
<path d="M191,111L185,106.9L191,100L197,103.9Z" fill="#f6f26e"/>
<path d="M149.1,129.8L143.1,125.6L149,117.6L155,121.6Z" fill="#b0f773"/>
<path d="M119.6,147.7L113.6,143.3L119.4,134.4L125.4,138.6Z" fill="#77f78e"/>
<path d="M203,108.1L197,103.9L203,97.1L209.1,101.1Z" fill="#f9ea6c"/>
<path d="M161,125.8L155,121.6L161,113.8L167,117.8Z" fill="#c2f773"/>
<path d="M215.1,105.4L209.1,101.1L215.1,94.6L221.1,98.6Z" fill="#fde46a"/>
<path d="M131.4,143L125.4,138.6L131.2,129.9L137.2,134.1Z" fill="#84f77f"/>
<path d="M227.1,102.9L221.1,98.6L227.2,92.2L233.2,96.4Z" fill="#ffdd68"/>
<path d="M173,122.1L167,117.8L173,110.2L179,114.3Z" fill="#d4f773"/>
<path d="M239.2,100.8L233.2,96.4L239.3,90.2L245.3,94.4Z" fill="#ffd567"/>
<path d="M113.8,157.3L107.8,152.6L113.6,143.3L119.6,147.7Z" fill="#73f8b3"/>
<path d="M143.2,138.5L137.2,134.1L143.1,125.6L149.1,129.8Z" fill="#95f775"/>
<path d="M185,118.6L179,114.3L185,106.9L191,111Z" fill="#e4f773"/>
<path d="M197,115.4L191,111L197,103.9L203,108.1Z" fill="#f2f773"/>
<path d="M155.1,134.3L149.1,129.8L155,121.6L161,125.8Z" fill="#a7f773"/>
<path d="M125.5,152.4L119.6,147.7L125.4,138.6L131.4,143Z" fill="#75f797"/>
<path d="M209,112.6L203,108.1L209.1,101.1L215.1,105.4Z" fill="#f7f173"/>
<path d="M167,130.3L161,125.8L167,117.8L173,122.1Z" fill="#b9f773"/>
<path d="M221.1,110L215.1,105.4L221.1,98.6L227.1,102.9Z" fill="#faeb73"/>
<path d="M137.4,147.7L131.4,143L137.2,134.1L143.2,138.5Z" fill="#7cf784"/>
<path d="M233.1,107.6L227.1,102.9L233.2,96.4L239.2,100.8Z" fill="#fde571"/>
<path d="M179,126.7L173,122.1L179,114.3L185,118.6Z" fill="#c9f773"/>
<path d="M119.8,162.2L113.8,157.3L119.6,147.7L125.5,152.4Z" fill="#73f8c2"/>
<path d="M149.2,143.2L143.2,138.5L149.1,129.8L155.1,134.3Z" fill="#8df77a"/>
<path d="M191,123.3L185,118.6L191,111L197,115.4Z" fill="#d9f773"/>
<path d="M203,120.2L197,115.4L203,108.1L209,112.6Z" fill="#e7f773"/>
<path d="M161.1,139L155.1,134.3L161,125.8L167,130.3Z" fill="#9ef773"/>
<path d="M131.5,157.3L125.5,152.4L131.4,143L137.4,147.7Z" fill="#73f8a2"/>
<path d="M215,117.4L209,112.6L215.1,105.4L221.1,110Z" fill="#f3f773"/>
<path d="M227,114.9L221.1,110L227.1,102.9L233.1,107.6Z" fill="#f7f173"/>
<path d="M173,135.2L167,130.3L173,122.1L179,126.7Z" fill="#aff773"/>
<path d="M143.3,152.6L137.4,147.7L143.2,138.5L149.2,143.2Z" fill="#77f78c"/>
<path d="M185,131.6L179,126.7L185,118.6L191,123.3Z" fill="#bef773"/>
<path d="M125.7,167.4L119.8,162.2L125.5,152.4L131.5,157.3Z" fill="#73f8d2"/>
<path d="M155.2,148.2L149.2,143.2L155.1,134.3L161.1,139Z" fill="#84f77f"/>
<path d="M197,128.3L191,123.3L197,115.4L203,120.2Z" fill="#cdf773"/>
<path d="M209,125.3L203,120.2L209,112.6L215,117.4Z" fill="#daf773"/>
<path d="M167.1,144.1L161.1,139L167,130.3L173,135.2Z" fill="#94f776"/>
<path d="M137.5,162.5L131.5,157.3L137.4,147.7L143.3,152.6Z" fill="#73f8b0"/>
<path d="M221,122.5L215,117.4L221.1,110L227,114.9Z" fill="#e6f773"/>
<path d="M179,140.3L173,135.2L179,126.7L185,131.6Z" fill="#a3f773"/>
<path d="M149.3,157.9L143.3,152.6L149.2,143.2L155.2,148.2Z" fill="#75f798"/>
<path d="M190.9,136.8L185,131.6L191,123.3L197,128.3Z" fill="#b2f773"/>
<path d="M202.9,133.6L197,128.3L203,120.2L209,125.3Z" fill="#bff773"/>
<path d="M131.7,172.9L125.7,167.4L131.5,157.3L137.5,162.5Z" fill="#73f6e5"/>
<path d="M161.1,153.5L155.2,148.2L161.1,139L167.1,144.1Z" fill="#7af785"/>
<path d="M214.9,130.6L209,125.3L215,117.4L221,122.5Z" fill="#ccf773"/>
<path d="M173,149.5L167.1,144.1L173,135.2L179,140.3Z" fill="#89f77c"/>
<path d="M143.4,168L137.5,162.5L143.3,152.6L149.3,157.9Z" fill="#73f8c2"/>
<path d="M184.9,145.7L179,140.3L185,131.6L190.9,136.8Z" fill="#97f774"/>
<path d="M155.2,163.4L149.3,157.9L155.2,148.2L161.1,153.5Z" fill="#73f8a4"/>
<path d="M196.9,142.3L190.9,136.8L197,128.3L202.9,133.6Z" fill="#a5f773"/>
<path d="M208.9,139.2L202.9,133.6L209,125.3L214.9,130.6Z" fill="#b1f773"/>
<path d="M167.1,159.1L161.1,153.5L167.1,144.1L173,149.5Z" fill="#76f791"/>
<path d="M137.6,178.6L131.7,172.9L137.5,162.5L143.4,168Z" fill="#73f5f9"/>
<path d="M179,155.2L173,149.5L179,140.3L184.9,145.7Z" fill="#7ef783"/>
<path d="M149.4,173.8L143.4,168L149.3,157.9L155.2,163.4Z" fill="#73f7d7"/>
<path d="M190.9,151.5L184.9,145.7L190.9,136.8L196.9,142.3Z" fill="#8bf77b"/>
<path d="M161.2,169.3L155.2,163.4L161.1,153.5L167.1,159.1Z" fill="#73f8b9"/>
<path d="M202.8,148.1L196.9,142.3L202.9,133.6L208.9,139.2Z" fill="#96f774"/>
<path d="M173,165L167.1,159.1L173,149.5L179,155.2Z" fill="#74f89f"/>
<path d="M143.5,184.6L137.6,178.6L143.4,168L149.4,173.8Z" fill="#73edff"/>
<path d="M184.9,161.1L179,155.2L184.9,145.7L190.9,151.5Z" fill="#77f78e"/>
<path d="M155.3,179.9L149.4,173.8L155.2,163.4L161.2,169.3Z" fill="#73f6ee"/>
<path d="M196.8,157.6L190.9,151.5L196.9,142.3L202.8,148.1Z" fill="#7ef783"/>
<path d="M167.1,175.4L161.2,169.3L167.1,159.1L173,165Z" fill="#73f8cf"/>
<path d="M178.9,171.2L173,165L179,155.2L184.9,161.1Z" fill="#73f8b5"/>
<path d="M149.5,190.9L143.5,184.6L149.4,173.8L155.3,179.9Z" fill="#73e2ff"/>
<path d="M190.8,167.4L184.9,161.1L190.9,151.5L196.8,157.6Z" fill="#74f89f"/>
<path d="M161.2,186.2L155.3,179.9L161.2,169.3L167.1,175.4Z" fill="#73f1ff"/>
<path d="M173,181.8L167.1,175.4L173,165L178.9,171.2Z" fill="#73f6e8"/>
<path d="M184.8,177.8L178.9,171.2L184.9,161.1L190.8,167.4Z" fill="#73f8ce"/>
<path d="M155.4,197.5L149.5,190.9L155.3,179.9L161.2,186.2Z" fill="#73d7ff"/>
<path d="M167.1,192.9L161.2,186.2L167.1,175.4L173,181.8Z" fill="#73e5ff"/>
<path d="M178.9,188.6L173,181.8L178.9,171.2L184.8,177.8Z" fill="#73f2ff"/>
<path d="M161.2,204.4L155.4,197.5L161.2,186.2L167.1,192.9Z" fill="#73cbff"/>
<path d="M173,199.8L167.1,192.9L173,181.8L178.9,188.6Z" fill="#73d8ff"/>
<path d="M167.1,211.6L161.2,204.4L167.1,192.9L173,199.8Z" fill="#78beff"/>
</g>
<circle cx="47.8" cy="119.5" r="2.7" fill="#c00000" stroke="#700" stroke-width="0.6"/>
<circle cx="288.7" cy="60.3" r="2.7" fill="#f4c4c4" stroke="#a55" stroke-width="0.6"/>
<circle cx="166.5" cy="73" r="2.7" fill="#c00000" stroke="#700" stroke-width="0.6"/>
<circle cx="166.5" cy="214.7" r="2.7" fill="#c00000" stroke="#700" stroke-width="0.6"/>
<text font-size="10.0" text-anchor="end" fill="#383838" transform="translate(161.6,291.4) scale(0.88,1)">0.1</text>
<text font-size="10.0" text-anchor="end" fill="#383838" transform="translate(138.8,279.2) scale(0.88,1)">0.2</text>
<text font-size="10.0" text-anchor="end" fill="#383838" transform="translate(115.9,267) scale(0.88,1)">0.3</text>
<text font-size="10.0" text-anchor="end" fill="#383838" transform="translate(93,254.8) scale(0.88,1)">0.4</text>
<text font-size="10.0" text-anchor="end" fill="#383838" transform="translate(70.2,242.6) scale(0.88,1)">0.5</text>
<text font-size="10.0" text-anchor="end" fill="#383838" transform="translate(47.3,230.4) scale(0.88,1)">0.6</text>
<text font-size="10.0" text-anchor="start" fill="#383838" transform="translate(172.1,291.1) scale(0.88,1)">20</text>
<text font-size="10.0" text-anchor="start" fill="#383838" transform="translate(200.7,275.8) scale(0.88,1)">27</text>
<text font-size="10.0" text-anchor="start" fill="#383838" transform="translate(229.4,260.5) scale(0.88,1)">34</text>
<text font-size="10.0" text-anchor="start" fill="#383838" transform="translate(258,245.2) scale(0.88,1)">41</text>
<text font-size="10.0" text-anchor="start" fill="#383838" transform="translate(286.6,229.9) scale(0.88,1)">48</text>
<text font-size="10.0" text-anchor="end" fill="#383838" transform="translate(44.6,175.2) scale(0.88,1)">0</text>
<text font-size="10.0" text-anchor="end" fill="#383838" transform="translate(43.8,156.2) scale(0.88,1)">100</text>
<text font-size="10.0" text-anchor="end" fill="#383838" transform="translate(43,137.2) scale(0.88,1)">200</text>
<text font-size="10.0" text-anchor="end" fill="#383838" transform="translate(42.1,118.2) scale(0.88,1)">300</text>
<text font-size="10.0" text-anchor="end" fill="#383838" transform="translate(41.3,99.2) scale(0.88,1)">400</text>
<text font-size="10.0" text-anchor="end" fill="#383838" transform="translate(40.5,80.2) scale(0.88,1)">500</text>
<text font-size="10.0" text-anchor="end" fill="#383838" transform="translate(39.6,61.2) scale(0.88,1)">600</text>
<text font-size="10.0" text-anchor="end" fill="#383838" transform="translate(38.8,42.2) scale(0.88,1)">700</text>
<text font-size="10.0" text-anchor="middle" fill="#383838" transform="translate(66.6,277.2) scale(0.93,1)">B (g/ml)</text>
<text font-size="10.0" text-anchor="middle" fill="#383838" transform="translate(269.3,277.3) scale(0.93,1)">A (h)</text>
<text font-size="10.0" text-anchor="middle" fill="#383838" transform="translate(12.7,134.7) rotate(-90) scale(0.95,1)">R1 (nm)</text>
<text x="46.7" y="22.2" font-family="Liberation Serif" font-weight="bold" font-size="19.5" fill="#000">(a)</text>
<polygon points="50.7,511.5 166,464.8 166.6,307.8 42.9,337.9" fill="#fff"/>
<polygon points="166,464.8 282.9,511 290.2,337.3 166.6,307.8" fill="#fff"/>
<path d="M48.9,470.2L166.1,427.4L284.7,469.6M48,451.3L166.2,410.3L285.5,450.7M47.1,432.4L166.3,393.2L286.2,431.8M46.3,413.5L166.3,376.2L287,412.9M45.4,394.6L166.4,359.1L287.8,394M44.6,375.7L166.5,342L288.6,375.1M43.7,356.8L166.5,324.9L289.4,356.2M42.9,337.9L166.6,307.8L290.2,337.3M78.2,459.5L73.8,330.4M107.5,448.8L104.7,322.8M136.8,438.1L135.7,315.3M255,459.1L259.3,329.9M225.4,448.5L228.4,322.5M195.8,438L197.5,315.2M50.7,511.5L42.9,337.9M166,464.8L166.6,307.8M282.9,511L290.2,337.3" stroke="#333" stroke-width="1" fill="none"/>
<polygon points="167.3,572.3 50.7,511.5 166,464.8 282.9,511" fill="#616161" stroke="#111" stroke-width="1.1" stroke-linejoin="round"/>
<polyline points="146.2,561.3 155.2,562.8 163.7,563.8 180.7,565.1" fill="none" stroke="#209fec" stroke-width="1.8"/>
<polyline points="53.5,510.4 53.9,513.1" fill="none" stroke="#209fec" stroke-width="1.8"/>
<polyline points="76.7,501 75.7,503.5 75.1,505.8 74.8,508.4 74.9,510.7 75.4,513.2 76.2,515.6 77.3,517.8 79,520.4 83.3,525.2 89,529.9 96.2,534.6 104.3,538.9 113.2,542.8 123.6,546.6 134.7,549.9 146,552.6 158,554.8 170,556.3 181.9,557.3 194.6,557.8" fill="none" stroke="#12d98f" stroke-width="1.8"/>
<polyline points="108.7,488 103.3,493.8 101.2,496.7 99.7,499.3 98.6,501.9 97.9,504.6 97.6,507.1 97.8,509.8 98.5,512.6 99.6,515.4 101.2,517.9 103.1,520.4 105.3,522.7 108.3,525.2 115.1,529.9 123.7,534.4 134.1,538.6 144.9,542 156.8,544.9 168.9,546.9 182.4,548.4 196.3,549.2 210.7,549.2" fill="none" stroke="#26de25" stroke-width="1.8"/>
<polyline points="170.8,466.7 157.7,472.7 151.6,475.9 146,479.2 141.1,482.5 136.5,485.9 132.8,489.2 129.8,492.4 127.4,495.5 125.6,498.6 124.5,501.7 123.9,504.8 124,507.9 124.8,510.8 126.1,513.5 128.1,516.3 130.6,519 134.1,521.8 138,524.4 143,527.1 148.6,529.5 154.6,531.7 161.1,533.6 167.3,535.1 180.9,537.5 196,538.9 212.8,539.4 230.3,538.8" fill="none" stroke="#c5e615" stroke-width="1.8"/>
<polyline points="194.6,476.1 183.9,480 178.8,482.3 174.7,484.5 170.9,486.9 167.5,489.4 164.4,492.1 162.2,494.6 160.5,497.1 159.4,499.7 158.8,502 158.9,504.6 159.5,507 160.8,509.6 162.8,511.9 165.2,514 168,515.9 171.8,517.9 175.4,519.5 180,521.1 189.7,523.5 200.8,525.3 213.3,526.2 226.2,526.4 241.2,525.8 257.7,524.4" fill="none" stroke="#f09f20" stroke-width="1.8"/>
<polyline points="50.7,511.5 167.3,572.3 282.9,511" fill="none" stroke="#111" stroke-width="1.1"/>
<circle cx="167.3" cy="572.3" r="1.45" fill="#111"/>
<circle cx="138.1" cy="557.1" r="1.45" fill="#111"/>
<circle cx="109" cy="541.9" r="1.45" fill="#111"/>
<circle cx="79.9" cy="526.7" r="1.45" fill="#111"/>
<circle cx="50.7" cy="511.5" r="1.45" fill="#111"/>
<circle cx="167.3" cy="572.3" r="1.45" fill="#111"/>
<circle cx="196.2" cy="556.9" r="1.45" fill="#111"/>
<circle cx="225.1" cy="541.6" r="1.45" fill="#111"/>
<circle cx="254" cy="526.3" r="1.45" fill="#111"/>
<circle cx="282.9" cy="511" r="1.45" fill="#111"/>
<circle cx="48.9" cy="470.2" r="1.45" fill="#111"/>
<circle cx="48" cy="451.3" r="1.45" fill="#111"/>
<circle cx="47.1" cy="432.4" r="1.45" fill="#111"/>
<circle cx="46.3" cy="413.5" r="1.45" fill="#111"/>
<circle cx="45.4" cy="394.6" r="1.45" fill="#111"/>
<circle cx="44.6" cy="375.7" r="1.45" fill="#111"/>
<circle cx="43.7" cy="356.8" r="1.45" fill="#111"/>
<circle cx="42.9" cy="337.9" r="1.45" fill="#111"/>
<g stroke="#141c0a" stroke-opacity=".88" stroke-width=".72" stroke-linejoin="round">
<path d="M166.5,354.1L160.4,357L166.4,355L172.5,352.3Z" fill="#bdf10e"/>
<path d="M160.4,356.1L154.3,359.1L160.4,357L166.5,354.1Z" fill="#baf10d"/>
<path d="M172.6,351.5L166.5,354.1L172.5,352.3L178.6,349.8Z" fill="#e6f10d"/>
<path d="M154.3,358.4L148.2,361.5L154.3,359.1L160.4,356.1Z" fill="#b6f10d"/>
<path d="M166.5,353.4L160.4,356.1L166.5,354.1L172.6,351.5Z" fill="#e5f10d"/>
<path d="M178.7,349.2L172.6,351.5L178.6,349.8L184.8,347.7Z" fill="#f5e00d"/>
<path d="M148.2,360.8L142.2,364.1L148.2,361.5L154.3,358.4Z" fill="#aff10d"/>
<path d="M160.4,355.6L154.3,358.4L160.4,356.1L166.5,353.4Z" fill="#e3f10d"/>
<path d="M172.6,351.1L166.5,353.4L172.6,351.5L178.7,349.2Z" fill="#f5e00d"/>
<path d="M142.2,363.5L136.2,366.8L142.2,364.1L148.2,360.8Z" fill="#a8f10d"/>
<path d="M184.8,347.3L178.7,349.2L184.8,347.7L190.9,345.9Z" fill="#fecd0d"/>
<path d="M154.3,357.9L148.2,360.8L154.3,358.4L160.4,355.6Z" fill="#ddf10d"/>
<path d="M166.5,353.1L160.4,355.6L166.5,353.4L172.6,351.1Z" fill="#f5e10d"/>
<path d="M136.1,366.4L130.1,369.8L136.2,366.8L142.2,363.5Z" fill="#9df10d"/>
<path d="M178.7,349L172.6,351.1L178.7,349.2L184.8,347.3Z" fill="#fecc0d"/>
<path d="M191,345.7L184.8,347.3L190.9,345.9L197.1,344.3Z" fill="#ffb40d"/>
<path d="M148.2,360.6L142.2,363.5L148.2,360.8L154.3,357.9Z" fill="#d6f10d"/>
<path d="M160.4,355.4L154.3,357.9L160.4,355.6L166.5,353.1Z" fill="#f3e30d"/>
<path d="M130.1,369.6L124.1,373L130.1,369.8L136.1,366.4Z" fill="#92f10d"/>
<path d="M172.6,351L166.5,353.1L172.6,351.1L178.7,349Z" fill="#fecd0d"/>
<path d="M142.2,363.5L136.1,366.4L142.2,363.5L148.2,360.6Z" fill="#cdf10d"/>
<path d="M184.9,347.3L178.7,349L184.8,347.3L191,345.7Z" fill="#ffb30d"/>
<path d="M197.1,344.4L191,345.7L197.1,344.3L203.3,343Z" fill="#ff9d0d"/>
<path d="M154.3,358L148.2,360.6L154.3,357.9L160.4,355.4Z" fill="#f2e60d"/>
<path d="M124,373L118.1,376.4L124.1,373L130.1,369.6Z" fill="#84f10d"/>
<path d="M166.5,353.3L160.4,355.4L166.5,353.1L172.6,351Z" fill="#fdcf0d"/>
<path d="M136.1,366.6L130.1,369.6L136.1,366.4L142.2,363.5Z" fill="#c1f10d"/>
<path d="M178.7,349.3L172.6,351L178.7,349L184.9,347.3Z" fill="#ffb30d"/>
<path d="M191,346L184.9,347.3L191,345.7L197.1,344.4Z" fill="#ff9b0d"/>
<path d="M148.2,360.9L142.2,363.5L148.2,360.6L154.3,358Z" fill="#efeb0d"/>
<path d="M118,376.6L112.1,380L118.1,376.4L124,373Z" fill="#76f10d"/>
<path d="M203.3,343.4L197.1,344.4L203.3,343L209.4,342.1Z" fill="#fd8213"/>
<path d="M160.4,355.9L154.3,358L160.4,355.4L166.5,353.3Z" fill="#fbd20d"/>
<path d="M130,370L124,373L130.1,369.6L136.1,366.6Z" fill="#b3f10d"/>
<path d="M172.6,351.6L166.5,353.3L172.6,351L178.7,349.3Z" fill="#ffb60d"/>
<path d="M112,380.5L106.1,383.8L112.1,380L118,376.6Z" fill="#66f10d"/>
<path d="M142.1,364L136.1,366.6L142.2,363.5L148.2,360.9Z" fill="#ecf10d"/>
<path d="M184.9,348L178.7,349.3L184.9,347.3L191,346Z" fill="#ff9b0d"/>
<path d="M197.2,345L191,346L197.1,344.4L203.3,343.4Z" fill="#fd7e15"/>
<path d="M154.3,358.8L148.2,360.9L154.3,358L160.4,355.9Z" fill="#f9d60d"/>
<path d="M209.5,342.8L203.3,343.4L209.4,342.1L215.6,341.4Z" fill="#fa611e"/>
<path d="M124,373.7L118,376.6L124,373L130,370Z" fill="#a3f10d"/>
<path d="M166.5,354.1L160.4,355.9L166.5,353.3L172.6,351.6Z" fill="#ffbb0d"/>
<path d="M106,384.6L100.1,387.8L106.1,383.8L112,380.5Z" fill="#54f10d"/>
<path d="M136.1,367.5L130,370L136.1,366.6L142.1,364Z" fill="#def10d"/>
<path d="M178.8,350.2L172.6,351.6L178.7,349.3L184.9,348Z" fill="#ff9e0e"/>
<path d="M191,347L184.9,348L191,346L197.2,345Z" fill="#fd7e15"/>
<path d="M148.2,361.9L142.1,364L148.2,360.9L154.3,358.8Z" fill="#f6dd0e"/>
<path d="M118,377.6L112,380.5L118,376.6L124,373.7Z" fill="#92f10e"/>
<path d="M203.3,344.4L197.2,345L203.3,343.4L209.5,342.8Z" fill="#f95d21"/>
<path d="M215.6,342.5L209.5,342.8L215.6,341.4L221.8,341.1Z" fill="#f64a26"/>
<path d="M160.4,357L154.3,358.8L160.4,355.9L166.5,354.1Z" fill="#ffc20e"/>
<path d="M100,388.9L94.1,392L100.1,387.8L106,384.6Z" fill="#43f115"/>
<path d="M130,371.2L124,373.7L130,370L136.1,367.5Z" fill="#cff10e"/>
<path d="M172.6,352.8L166.5,354.1L172.6,351.6L178.8,350.2Z" fill="#ffa30e"/>
<path d="M112,381.8L106,384.6L112,380.5L118,377.6Z" fill="#80f10e"/>
<path d="M142.1,365.4L136.1,367.5L142.1,364L148.2,361.9Z" fill="#f3e40e"/>
<path d="M184.9,349.3L178.8,350.2L184.9,348L191,347Z" fill="#fd8214"/>
<path d="M197.2,346.4L191,347L197.2,345L203.3,344.4Z" fill="#f95e21"/>
<path d="M94.1,393.5L88.2,396.5L94.1,392L100,388.9Z" fill="#31f121"/>
<path d="M154.3,360.2L148.2,361.9L154.3,358.8L160.4,357Z" fill="#ffca0f"/>
<path d="M209.5,344.2L203.3,344.4L209.5,342.8L215.6,342.5Z" fill="#f74927"/>
<path d="M124,375.2L118,377.6L124,373.7L130,371.2Z" fill="#bcf10f"/>
<path d="M221.8,342.5L215.6,342.5L221.8,341.1L228,341.1Z" fill="#f34128"/>
<path d="M166.5,355.7L160.4,357L166.5,354.1L172.6,352.8Z" fill="#ffaa0f"/>
<path d="M106,386.3L100,388.9L106,384.6L112,381.8Z" fill="#6bf10f"/>
<path d="M136.1,369.2L130,371.2L136.1,367.5L142.1,365.4Z" fill="#eeec0f"/>
<path d="M178.8,351.9L172.6,352.8L178.8,350.2L184.9,349.3Z" fill="#fe8b12"/>
<path d="M88.1,398.4L82.3,401.2L88.2,396.5L94.1,393.5Z" fill="#1ff12e"/>
<path d="M191,348.7L184.9,349.3L191,347L197.2,346.4Z" fill="#fa6221"/>
<path d="M148.2,363.7L142.1,365.4L148.2,361.9L154.3,360.2Z" fill="#fbd210"/>
<path d="M117.9,379.5L112,381.8L118,377.6L124,375.2Z" fill="#a8f110"/>
<path d="M203.3,346.2L197.2,346.4L203.3,344.4L209.5,344.2Z" fill="#f74b28"/>
<path d="M215.7,344.3L209.5,344.2L215.6,342.5L221.8,342.5Z" fill="#f34029"/>
<path d="M160.4,359L154.3,360.2L160.4,357L166.5,355.7Z" fill="#ffb310"/>
<path d="M100,391L94.1,393.5L100,388.9L106,386.3Z" fill="#57f110"/>
<path d="M228,342.9L221.8,342.5L228,341.1L234.1,341.4Z" fill="#f0382a"/>
<path d="M130,373.2L124,375.2L130,371.2L136.1,369.2Z" fill="#e2f111"/>
<path d="M172.6,354.9L166.5,355.7L172.6,352.8L178.8,351.9Z" fill="#ff9611"/>
<path d="M82.2,403.5L76.4,406.1L82.3,401.2L88.1,398.4Z" fill="#17f245"/>
<path d="M111.9,384.1L106,386.3L112,381.8L117.9,379.5Z" fill="#92f111"/>
<path d="M142.1,367.6L136.1,369.2L142.1,365.4L148.2,363.7Z" fill="#f8dc11"/>
<path d="M184.9,351.4L178.8,351.9L184.9,349.3L191,348.7Z" fill="#fb6d1f"/>
<path d="M197.2,348.6L191,348.7L197.2,346.4L203.3,346.2Z" fill="#f74e2a"/>
<path d="M94,396L88.1,398.4L94.1,393.5L100,391Z" fill="#42f11c"/>
<path d="M154.3,362.6L148.2,363.7L154.3,360.2L160.4,359Z" fill="#ffbf12"/>
<path d="M209.5,346.4L203.3,346.2L209.5,344.2L215.7,344.3Z" fill="#f3412b"/>
<path d="M124,377.6L117.9,379.5L124,375.2L130,373.2Z" fill="#cef112"/>
<path d="M221.8,344.8L215.7,344.3L221.8,342.5L228,342.9Z" fill="#f0392d"/>
<path d="M76.3,408.9L70.5,411.3L76.4,406.1L82.2,403.5Z" fill="#14f362"/>
<path d="M234.1,343.7L228,342.9L234.1,341.4L240.3,342Z" fill="#ee332d"/>
<path d="M166.5,358.2L160.4,359L166.5,355.7L172.6,354.9Z" fill="#ffa012"/>
<path d="M106,389L100,391L106,386.3L111.9,384.1Z" fill="#7cf113"/>
<path d="M136,371.8L130,373.2L136.1,369.2L142.1,367.6Z" fill="#f2e513"/>
<path d="M178.8,354.5L172.6,354.9L178.8,351.9L184.9,351.4Z" fill="#fc7b1c"/>
<path d="M88.1,401.4L82.2,403.5L88.1,398.4L94,396Z" fill="#2ef12a"/>
<path d="M191,351.4L184.9,351.4L191,348.7L197.2,348.6Z" fill="#f9542a"/>
<path d="M148.2,366.5L142.1,367.6L148.2,363.7L154.3,362.6Z" fill="#ffcc14"/>
<path d="M117.9,382.3L111.9,384.1L117.9,379.5L124,377.6Z" fill="#b6f114"/>
<path d="M70.5,414.5L64.6,416.6L70.5,411.3L76.3,408.9Z" fill="#15f38b"/>
<path d="M203.3,348.9L197.2,348.6L203.3,346.2L209.5,346.4Z" fill="#f4452d"/>
<path d="M215.7,347L209.5,346.4L215.7,344.3L221.8,344.8Z" fill="#f03b2e"/>
<path d="M160.4,361.8L154.3,362.6L160.4,359L166.5,358.2Z" fill="#ffac14"/>
<path d="M228,345.7L221.8,344.8L228,342.9L234.1,343.7Z" fill="#ee352f"/>
<path d="M100,394.2L94,396L100,391L106,389Z" fill="#65f115"/>
<path d="M240.3,344.8L234.1,343.7L240.3,342L246.5,343Z" fill="#ed3130"/>
<path d="M130,376.3L124,377.6L130,373.2L136,371.8Z" fill="#edf115"/>
<path d="M172.6,357.9L166.5,358.2L172.6,354.9L178.8,354.5Z" fill="#fe8d18"/>
<path d="M82.2,407L76.3,408.9L82.2,403.5L88.1,401.4Z" fill="#1ef13f"/>
<path d="M111.9,387.4L106,389L111.9,384.1L117.9,382.3Z" fill="#9ef116"/>
<path d="M142.1,370.8L136,371.8L142.1,367.6L148.2,366.5Z" fill="#fad716"/>
<path d="M184.9,354.5L178.8,354.5L184.9,351.4L191,351.4Z" fill="#fa6328"/>
<path d="M64.6,420.4L58.8,422.3L64.6,416.6L70.5,414.5Z" fill="#18f2ba"/>
<path d="M197.2,351.8L191,351.4L197.2,348.6L203.3,348.9Z" fill="#f64d2e"/>
<path d="M94,399.7L88.1,401.4L94,396L100,394.2Z" fill="#4df11d"/>
<path d="M154.3,365.9L148.2,366.5L154.3,362.6L160.4,361.8Z" fill="#ffbb17"/>
<path d="M209.5,349.7L203.3,348.9L209.5,346.4L215.7,347Z" fill="#f14030"/>
<path d="M123.9,381.1L117.9,382.3L124,377.6L130,376.3Z" fill="#d6f117"/>
<path d="M221.8,348.1L215.7,347L221.8,344.8L228,345.7Z" fill="#ef3831"/>
<path d="M76.3,412.9L70.5,414.5L76.3,408.9L82.2,407Z" fill="#1bf360"/>
<path d="M234.1,347L228,345.7L234.1,343.7L240.3,344.8Z" fill="#ee3432"/>
<path d="M246.5,346.3L240.3,344.8L246.5,343L252.6,344.3Z" fill="#ed3232"/>
<path d="M166.5,361.6L160.4,361.8L166.5,358.2L172.6,357.9Z" fill="#ff9e17"/>
<path d="M58.8,426.6L53,428.1L58.8,422.3L64.6,420.4Z" fill="#1befec"/>
<path d="M105.9,392.8L100,394.2L106,389L111.9,387.4Z" fill="#85f119"/>
<path d="M136,375.4L130,376.3L136,371.8L142.1,370.8Z" fill="#f4e318"/>
<path d="M178.7,358L172.6,357.9L178.8,354.5L184.9,354.5Z" fill="#fb7724"/>
<path d="M88.1,405.5L82.2,407L88.1,401.4L94,399.7Z" fill="#37f22e"/>
<path d="M191,355L184.9,354.5L191,351.4L197.2,351.8Z" fill="#f8552f"/>
<path d="M148.2,370.3L142.1,370.8L148.2,366.5L154.3,365.9Z" fill="#ffcb19"/>
<path d="M117.9,386.3L111.9,387.4L117.9,382.3L123.9,381.1Z" fill="#bdf21a"/>
<path d="M70.5,419L64.6,420.4L70.5,414.5L76.3,412.9Z" fill="#1df38b"/>
<path d="M203.3,352.6L197.2,351.8L203.3,348.9L209.5,349.7Z" fill="#f34832"/>
<path d="M215.6,350.8L209.5,349.7L215.7,347L221.8,348.1Z" fill="#f13f34"/>
<path d="M53,433.1L47.2,434.2L53,428.1L58.8,426.6Z" fill="#1fdfff"/>
<path d="M160.4,365.7L154.3,365.9L160.4,361.8L166.5,361.6Z" fill="#ffac1a"/>
<path d="M228,349.5L221.8,348.1L228,345.7L234.1,347Z" fill="#ee3934"/>
<path d="M100,398.5L94,399.7L100,394.2L105.9,392.8Z" fill="#6bf21c"/>
<path d="M240.3,348.7L234.1,347L240.3,344.8L246.5,346.3Z" fill="#ed3535"/>
<path d="M130,380.4L123.9,381.1L130,376.3L136,375.4Z" fill="#eef01b"/>
<path d="M252.6,348.2L246.5,346.3L252.6,344.3L258.8,346Z" fill="#ed3535"/>
<path d="M172.6,361.9L166.5,361.6L172.6,357.9L178.7,358Z" fill="#fe8e1f"/>
<path d="M82.2,411.6L76.3,412.9L82.2,407L88.1,405.5Z" fill="#25f244"/>
<path d="M111.9,391.9L105.9,392.8L111.9,387.4L117.9,386.3Z" fill="#a1f21d"/>
<path d="M142.1,375L136,375.4L142.1,370.8L148.2,370.3Z" fill="#fad81c"/>
<path d="M64.7,425.5L58.8,426.6L64.6,420.4L70.5,419Z" fill="#21f3be"/>
<path d="M184.9,358.6L178.7,358L184.9,354.5L191,355Z" fill="#fa682e"/>
<path d="M197.2,356L191,355L197.2,351.8L203.3,352.6Z" fill="#f65234"/>
<path d="M94.1,404.5L88.1,405.5L94,399.7L100,398.5Z" fill="#52f226"/>
<path d="M154.3,370.2L148.2,370.3L154.3,365.9L160.4,365.7Z" fill="#ffbe1d"/>
<path d="M209.5,353.9L203.3,352.6L209.5,349.7L215.6,350.8Z" fill="#f34836"/>
<path d="M124,385.7L117.9,386.3L123.9,381.1L130,380.4Z" fill="#d6f21f"/>
<path d="M221.8,352.4L215.6,350.8L221.8,348.1L228,349.5Z" fill="#f04037"/>
<path d="M76.4,418.1L70.5,419L76.3,412.9L82.2,411.6Z" fill="#24f468"/>
<path d="M234.1,351.4L228,349.5L234.1,347L240.3,348.7Z" fill="#ee3c39"/>
<path d="M246.4,350.8L240.3,348.7L246.5,346.3L252.6,348.2Z" fill="#ee3b39"/>
<path d="M166.5,366.1L160.4,365.7L166.5,361.6L172.6,361.9Z" fill="#ffa31e"/>
<path d="M258.7,350.5L252.6,348.2L258.8,346L264.9,348Z" fill="#ee3b39"/>
<path d="M58.9,432.3L53,433.1L58.8,426.6L64.7,425.5Z" fill="#26eff4"/>
<path d="M106,397.8L100,398.5L105.9,392.8L111.9,391.9Z" fill="#87f221"/>
<path d="M136,380.1L130,380.4L136,375.4L142.1,375Z" fill="#f4e620"/>
<path d="M178.7,362.6L172.6,361.9L178.7,358L184.9,358.6Z" fill="#fc8128"/>
<path d="M88.2,410.9L82.2,411.6L88.1,405.5L94.1,404.5Z" fill="#3cf239"/>
<path d="M191,359.7L184.9,358.6L191,355L197.2,356Z" fill="#f95f35"/>
<path d="M148.2,375.1L142.1,375L148.2,370.3L154.3,370.2Z" fill="#ffd021"/>
<path d="M117.9,391.4L111.9,391.9L117.9,386.3L124,385.7Z" fill="#baf222"/>
<path d="M70.6,424.9L64.7,425.5L70.5,419L76.4,418.1Z" fill="#27f499"/>
<path d="M203.3,357.4L197.2,356L203.3,352.6L209.5,353.9Z" fill="#f55339"/>
<path d="M215.6,355.7L209.5,353.9L215.6,350.8L221.8,352.4Z" fill="#f24a3a"/>
<path d="M160.4,370.7L154.3,370.2L160.4,365.7L166.5,366.1Z" fill="#ffb522"/>
<path d="M227.9,354.5L221.8,352.4L228,349.5L234.1,351.4Z" fill="#f0453c"/>
<path d="M100,404L94.1,404.5L100,398.5L106,397.8Z" fill="#6bf225"/>
<path d="M240.2,353.7L234.1,351.4L240.3,348.7L246.4,350.8Z" fill="#ef423c"/>
<path d="M130,385.6L124,385.7L130,380.4L136,380.1Z" fill="#eaf224"/>
<path d="M252.5,353.3L246.4,350.8L252.6,348.2L258.7,350.5Z" fill="#ef423c"/>
<path d="M264.8,353.1L258.7,350.5L264.9,348L271,350.4Z" fill="#f0443d"/>
<path d="M172.6,367L166.5,366.1L172.6,361.9L178.7,362.6Z" fill="#ff9d23"/>
<path d="M82.3,417.6L76.4,418.1L82.2,411.6L88.2,410.9Z" fill="#2ff355"/>
<path d="M64.8,432L58.9,432.3L64.7,425.5L70.6,424.9Z" fill="#2df3d1"/>
<path d="M112,397.5L106,397.8L111.9,391.9L117.9,391.4Z" fill="#9ef227"/>
<path d="M142.1,380.4L136,380.1L142.1,375L148.2,375.1Z" fill="#f8de25"/>
<path d="M184.8,363.8L178.7,362.6L184.9,358.6L191,359.7Z" fill="#fc7931"/>
<path d="M197.1,361.3L191,359.7L197.2,356L203.3,357.4Z" fill="#f85f3b"/>
<path d="M94.1,410.6L88.2,410.9L94.1,404.5L100,404Z" fill="#53f234"/>
<path d="M154.3,375.8L148.2,375.1L154.3,370.2L160.4,370.7Z" fill="#ffc827"/>
<path d="M209.4,359.4L203.3,357.4L209.5,353.9L215.6,355.7Z" fill="#f5563d"/>
<path d="M124,391.5L117.9,391.4L124,385.7L130,385.6Z" fill="#cef228"/>
<path d="M221.7,357.9L215.6,355.7L221.8,352.4L227.9,354.5Z" fill="#f3503f"/>
<path d="M76.5,424.7L70.6,424.9L76.4,418.1L82.3,417.6Z" fill="#2ef47e"/>
<path d="M234,357L227.9,354.5L234.1,351.4L240.2,353.7Z" fill="#f24c40"/>
<path d="M246.3,356.4L240.2,353.7L246.4,350.8L252.5,353.3Z" fill="#f24c41"/>
<path d="M258.6,356.2L252.5,353.3L258.7,350.5L264.8,353.1Z" fill="#f24c41"/>
<path d="M166.5,371.8L160.4,370.7L166.5,366.1L172.6,367Z" fill="#ffaf28"/>
<path d="M270.9,356.2L264.8,353.1L271,350.4L277.1,353.1Z" fill="#f24e41"/>
<path d="M106,404L100,404L106,397.8L112,397.5Z" fill="#82f32c"/>
<path d="M136,386.1L130,385.6L136,380.1L142.1,380.4Z" fill="#f2ed2a"/>
<path d="M178.7,368.4L172.6,367L178.7,362.6L184.8,363.8Z" fill="#fe972c"/>
<path d="M88.2,417.6L82.3,417.6L88.2,410.9L94.1,410.6Z" fill="#3cf34a"/>
<path d="M191,365.6L184.8,363.8L191,359.7L197.1,361.3Z" fill="#fb7938"/>
<path d="M148.2,381.2L142.1,380.4L148.2,375.1L154.3,375.8Z" fill="#fcd92b"/>
<path d="M118,397.8L112,397.5L117.9,391.4L124,391.5Z" fill="#b0f32d"/>
<path d="M70.7,432.2L64.8,432L70.6,424.9L76.5,424.7Z" fill="#35f5b6"/>
<path d="M203.2,363.4L197.1,361.3L203.3,357.4L209.4,359.4Z" fill="#f86440"/>
<path d="M215.5,361.8L209.4,359.4L215.6,355.7L221.7,357.9Z" fill="#f65d42"/>
<path d="M160.4,376.9L154.3,375.8L160.4,370.7L166.5,371.8Z" fill="#ffc32d"/>
<path d="M227.8,360.7L221.7,357.9L227.9,354.5L234,357Z" fill="#f45944"/>
<path d="M100.1,410.9L94.1,410.6L100,404L106,404Z" fill="#67f333"/>
<path d="M240.1,360L234,357L240.2,353.7L246.3,356.4Z" fill="#f45745"/>
<path d="M252.4,359.6L246.3,356.4L252.5,353.3L258.6,356.2Z" fill="#f45746"/>
<path d="M130,392.1L124,391.5L130,385.6L136,386.1Z" fill="#ddf32f"/>
<path d="M264.7,359.5L258.6,356.2L264.8,353.1L270.9,356.2Z" fill="#f45946"/>
<path d="M277,359.6L270.9,356.2L277.1,353.1L283.2,356.2Z" fill="#f55c47"/>
<path d="M82.4,425L76.5,424.7L82.3,417.6L88.2,417.6Z" fill="#38f470"/>
<path d="M172.6,373.3L166.5,371.8L172.6,367L178.7,368.4Z" fill="#ffad2e"/>
<path d="M112,404.5L106,404L112,397.5L118,397.8Z" fill="#94f333"/>
<path d="M142.1,387L136,386.1L142.1,380.4L148.2,381.2Z" fill="#f4e831"/>
<path d="M184.8,370.3L178.7,368.4L184.8,363.8L191,365.6Z" fill="#fe9833"/>
<path d="M197.1,367.9L191,365.6L197.1,361.3L203.2,363.4Z" fill="#fc7f3e"/>
<path d="M94.2,418.1L88.2,417.6L94.1,410.6L100.1,410.9Z" fill="#4ff34a"/>
<path d="M154.3,382.5L148.2,381.2L154.3,375.8L160.4,376.9Z" fill="#fdd632"/>
<path d="M209.4,366L203.2,363.4L209.4,359.4L215.5,361.8Z" fill="#f96d46"/>
<path d="M124,398.6L118,397.8L124,391.5L130,392.1Z" fill="#c0f335"/>
<path d="M221.6,364.7L215.5,361.8L221.7,357.9L227.8,360.7Z" fill="#f86748"/>
<path d="M76.6,432.7L70.7,432.2L76.5,424.7L82.4,425Z" fill="#3df5a3"/>
<path d="M233.9,363.9L227.8,360.7L234,357L240.1,360Z" fill="#f76449"/>
<path d="M246.2,363.4L240.1,360L246.3,356.4L252.4,359.6Z" fill="#f6644a"/>
<path d="M258.5,363.3L252.4,359.6L258.6,356.2L264.7,359.5Z" fill="#f7664b"/>
<path d="M270.8,363.3L264.7,359.5L270.9,356.2L277,359.6Z" fill="#f8694c"/>
<path d="M283,363.4L277,359.6L283.2,356.2L289.3,359.7Z" fill="#f96c4c"/>
<path d="M166.4,378.6L160.4,376.9L166.5,371.8L172.6,373.3Z" fill="#ffc234"/>
<path d="M106.1,411.6L100.1,410.9L106,404L112,404.5Z" fill="#78f339"/>
<path d="M136.1,393.3L130,392.1L136,386.1L142.1,387Z" fill="#e7f336"/>
<path d="M178.7,375.4L172.6,373.3L178.7,368.4L184.8,370.3Z" fill="#ffaf35"/>
<path d="M88.4,425.7L82.4,425L88.2,417.6L94.2,418.1Z" fill="#43f469"/>
<path d="M190.9,372.7L184.8,370.3L191,365.6L197.1,367.9Z" fill="#fe9e39"/>
<path d="M148.2,388.5L142.1,387L148.2,381.2L154.3,382.5Z" fill="#f6e538"/>
<path d="M118.1,405.5L112,404.5L118,397.8L124,398.6Z" fill="#a1f33b"/>
<path d="M203.2,370.7L197.1,367.9L203.2,363.4L209.4,366Z" fill="#fd8a42"/>
<path d="M215.5,369.2L209.4,366L215.5,361.8L221.6,364.7Z" fill="#fb7d49"/>
<path d="M227.7,368.1L221.6,364.7L227.8,360.7L233.9,363.9Z" fill="#fa764d"/>
<path d="M160.4,384.4L154.3,382.5L160.4,376.9L166.4,378.6Z" fill="#fed63a"/>
<path d="M100.2,419.1L94.2,418.1L100.1,410.9L106.1,411.6Z" fill="#60f44c"/>
<path d="M240,367.6L233.9,363.9L240.1,360L246.2,363.4Z" fill="#fa7350"/>
<path d="M252.3,367.3L246.2,363.4L252.4,359.6L258.5,363.3Z" fill="#fa7550"/>
<path d="M264.6,367.4L258.5,363.3L264.7,359.5L270.8,363.3Z" fill="#fa7951"/>
<path d="M276.8,367.5L270.8,363.3L277,359.6L283,363.4Z" fill="#fb8050"/>
<path d="M130.1,399.9L124,398.6L130,392.1L136.1,393.3Z" fill="#caf43d"/>
<path d="M82.5,433.8L76.6,432.7L82.4,425L88.4,425.7Z" fill="#46f697"/>
<path d="M172.5,380.9L166.4,378.6L172.6,373.3L178.7,375.4Z" fill="#ffc43b"/>
<path d="M112.1,412.8L106.1,411.6L112,404.5L118.1,405.5Z" fill="#86f442"/>
<path d="M142.1,394.9L136.1,393.3L142.1,387L148.2,388.5Z" fill="#edf43e"/>
<path d="M184.8,378L178.7,375.4L184.8,370.3L190.9,372.7Z" fill="#ffb53d"/>
<path d="M197,375.7L190.9,372.7L197.1,367.9L203.2,370.7Z" fill="#ffa93f"/>
<path d="M94.3,427L88.4,425.7L94.2,418.1L100.2,419.1Z" fill="#4ef467"/>
<path d="M209.3,374L203.2,370.7L209.4,366L215.5,369.2Z" fill="#fe9b46"/>
<path d="M154.3,390.5L148.2,388.5L154.3,382.5L160.4,384.4Z" fill="#f8e640"/>
<path d="M124.1,407L118.1,405.5L124,398.6L130.1,399.9Z" fill="#acf444"/>
<path d="M221.6,372.8L215.5,369.2L221.6,364.7L227.7,368.1Z" fill="#fd924b"/>
<path d="M233.8,372.1L227.7,368.1L233.9,363.9L240,367.6Z" fill="#fc8e4f"/>
<path d="M246.1,371.8L240,367.6L246.2,363.4L252.3,367.3Z" fill="#fc8f50"/>
<path d="M258.3,371.8L252.3,367.3L258.5,363.3L264.6,367.4Z" fill="#fc9251"/>
<path d="M270.6,371.9L264.6,367.4L270.8,363.3L276.8,367.5Z" fill="#fd9851"/>
<path d="M166.4,386.8L160.4,384.4L166.4,378.6L172.5,380.9Z" fill="#fed842"/>
<path d="M106.2,420.5L100.2,419.1L106.1,411.6L112.1,412.8Z" fill="#6ef451"/>
<path d="M136.1,401.8L130.1,399.9L136.1,393.3L142.1,394.9Z" fill="#d0f445"/>
<path d="M178.6,383.7L172.5,380.9L178.7,375.4L184.8,378Z" fill="#ffc944"/>
<path d="M88.5,435.3L82.5,433.8L88.4,425.7L94.3,427Z" fill="#50f692"/>
<path d="M190.9,381.1L184.8,378L190.9,372.7L197,375.7Z" fill="#ffbd46"/>
<path d="M148.2,397.1L142.1,394.9L148.2,388.5L154.3,390.5Z" fill="#eff447"/>
<path d="M118.1,414.5L112.1,412.8L118.1,405.5L124.1,407Z" fill="#91f44b"/>
<path d="M203.1,379.2L197,375.7L203.2,370.7L209.3,374Z" fill="#ffb448"/>
<path d="M215.4,377.9L209.3,374L215.5,369.2L221.6,372.8Z" fill="#ffaf4a"/>
<path d="M100.3,428.7L94.3,427L100.2,419.1L106.2,420.5Z" fill="#58f569"/>
<path d="M227.6,377L221.6,372.8L227.7,368.1L233.8,372.1Z" fill="#feab4d"/>
<path d="M160.4,393.1L154.3,390.5L160.4,384.4L166.4,386.8Z" fill="#f7e749"/>
<path d="M239.9,376.6L233.8,372.1L240,367.6L246.1,371.8Z" fill="#feaa50"/>
<path d="M252.1,376.5L246.1,371.8L252.3,367.3L258.3,371.8Z" fill="#fead52"/>
<path d="M264.4,376.7L258.3,371.8L264.6,367.4L270.6,371.9Z" fill="#ffb252"/>
<path d="M130.1,409.1L124.1,407L130.1,399.9L136.1,401.8Z" fill="#b3f54d"/>
<path d="M172.5,389.7L166.4,386.8L172.5,380.9L178.6,383.7Z" fill="#fddc4b"/>
<path d="M112.2,422.5L106.2,420.5L112.1,412.8L118.1,414.5Z" fill="#79f558"/>
<path d="M142.2,404.2L136.1,401.8L142.1,394.9L148.2,397.1Z" fill="#d3f54f"/>
<path d="M184.7,387L178.6,383.7L184.8,378L190.9,381.1Z" fill="#ffd14d"/>
<path d="M197,384.9L190.9,381.1L197,375.7L203.1,379.2Z" fill="#ffc750"/>
<path d="M94.5,437.2L88.5,435.3L94.3,427L100.3,428.7Z" fill="#5bf792"/>
<path d="M209.2,383.3L203.1,379.2L209.3,374L215.4,377.9Z" fill="#ffc152"/>
<path d="M154.3,399.9L148.2,397.1L154.3,390.5L160.4,393.1Z" fill="#eef551"/>
<path d="M124.2,416.8L118.1,414.5L124.1,407L130.1,409.1Z" fill="#99f555"/>
<path d="M221.4,382.3L215.4,377.9L221.6,372.8L227.6,377Z" fill="#ffbe54"/>
<path d="M233.7,381.7L227.6,377L233.8,372.1L239.9,376.6Z" fill="#ffbd57"/>
<path d="M245.9,381.6L239.9,376.6L246.1,371.8L252.1,376.5Z" fill="#ffbf59"/>
<path d="M258.1,381.7L252.1,376.5L258.3,371.8L264.4,376.7Z" fill="#ffc15c"/>
<path d="M166.4,396.3L160.4,393.1L166.4,386.8L172.5,389.7Z" fill="#f6eb53"/>
<path d="M106.3,430.9L100.3,428.7L106.2,420.5L112.2,422.5Z" fill="#64f571"/>
<path d="M136.2,411.7L130.1,409.1L136.1,401.8L142.2,404.2Z" fill="#b6f557"/>
<path d="M178.6,393.3L172.5,389.7L178.6,383.7L184.7,387Z" fill="#fbe255"/>
<path d="M190.8,390.9L184.7,387L190.9,381.1L197,384.9Z" fill="#ffdb58"/>
<path d="M118.3,424.9L112.2,422.5L118.1,414.5L124.2,416.8Z" fill="#81f562"/>
<path d="M148.3,407.1L142.2,404.2L148.2,397.1L154.3,399.9Z" fill="#d3f559"/>
<path d="M203,389.2L197,384.9L203.1,379.2L209.2,383.3Z" fill="#ffd45a"/>
<path d="M215.3,388L209.2,383.3L215.4,377.9L221.4,382.3Z" fill="#ffd05d"/>
<path d="M100.5,439.7L94.5,437.2L100.3,428.7L106.3,430.9Z" fill="#65f797"/>
<path d="M227.5,387.3L221.4,382.3L227.6,377L233.7,381.7Z" fill="#ffce5f"/>
<path d="M160.4,403.2L154.3,399.9L160.4,393.1L166.4,396.3Z" fill="#eaf55b"/>
<path d="M239.7,387L233.7,381.7L239.9,376.6L245.9,381.6Z" fill="#ffcf62"/>
<path d="M251.9,387.1L245.9,381.6L252.1,376.5L258.1,381.7Z" fill="#ffd265"/>
<path d="M130.2,419.6L124.2,416.8L130.1,409.1L136.2,411.7Z" fill="#9ef65f"/>
<path d="M172.5,400L166.4,396.3L172.5,389.7L178.6,393.3Z" fill="#f5f05d"/>
<path d="M112.4,433.6L106.3,430.9L112.2,422.5L118.3,424.9Z" fill="#6ff67a"/>
<path d="M142.3,414.8L136.2,411.7L142.2,404.2L148.3,407.1Z" fill="#b8f661"/>
<path d="M184.7,397.4L178.6,393.3L184.7,387L190.8,390.9Z" fill="#f9e960"/>
<path d="M196.9,395.4L190.8,390.9L197,384.9L203,389.2Z" fill="#fce463"/>
<path d="M209.1,394L203,389.2L209.2,383.3L215.3,388Z" fill="#fee065"/>
<path d="M154.3,410.6L148.3,407.1L154.3,399.9L160.4,403.2Z" fill="#d0f663"/>
<path d="M124.3,428L118.3,424.9L124.2,416.8L130.2,419.6Z" fill="#88f66d"/>
<path d="M221.3,393.2L215.3,388L221.4,382.3L227.5,387.3Z" fill="#fedf68"/>
<path d="M233.5,392.8L227.5,387.3L233.7,381.7L239.7,387Z" fill="#ffdf6c"/>
<path d="M245.7,392.9L239.7,387L245.9,381.6L251.9,387.1Z" fill="#fee16f"/>
<path d="M166.5,407.1L160.4,403.2L166.4,396.3L172.5,400Z" fill="#e3f666"/>
<path d="M106.5,442.6L100.5,439.7L106.3,430.9L112.4,433.6Z" fill="#70f8a0"/>
<path d="M136.3,422.9L130.2,419.6L136.2,411.7L142.3,414.8Z" fill="#a1f66a"/>
<path d="M178.6,404.3L172.5,400L178.6,393.3L184.7,397.4Z" fill="#f3f668"/>
<path d="M190.8,402.1L184.7,397.4L190.8,390.9L196.9,395.4Z" fill="#f6f16b"/>
<path d="M118.4,436.8L112.4,433.6L118.3,424.9L124.3,428Z" fill="#77f785"/>
<path d="M148.3,418.5L142.3,414.8L148.3,407.1L154.3,410.6Z" fill="#b8f66c"/>
<path d="M203,400.5L196.9,395.4L203,389.2L209.1,394Z" fill="#f8ed6e"/>
<path d="M215.1,399.5L209.1,394L215.3,388L221.3,393.2Z" fill="#f9eb72"/>
<path d="M227.3,399L221.3,393.2L227.5,387.3L233.5,392.8Z" fill="#faeb73"/>
<path d="M239.5,398.9L233.5,392.8L239.7,387L245.7,392.9Z" fill="#faeb73"/>
<path d="M160.4,414.7L154.3,410.6L160.4,403.2L166.5,407.1Z" fill="#ccf76f"/>
<path d="M130.3,431.5L124.3,428L130.2,419.6L136.3,422.9Z" fill="#8df77a"/>
<path d="M172.5,411.6L166.5,407.1L172.5,400L178.6,404.3Z" fill="#dbf771"/>
<path d="M112.5,446.1L106.5,442.6L112.4,433.6L118.4,436.8Z" fill="#73f8a5"/>
<path d="M184.7,409.2L178.6,404.3L184.7,397.4L190.8,402.1Z" fill="#e8f773"/>
<path d="M142.3,426.8L136.3,422.9L142.3,414.8L148.3,418.5Z" fill="#a0f773"/>
<path d="M196.8,407.4L190.8,402.1L196.9,395.4L203,400.5Z" fill="#f0f773"/>
<path d="M209,406.2L203,400.5L209.1,394L215.1,399.5Z" fill="#f5f673"/>
<path d="M154.4,422.8L148.3,418.5L154.3,410.6L160.4,414.7Z" fill="#b3f773"/>
<path d="M221.2,405.5L215.1,399.5L221.3,393.2L227.3,399Z" fill="#f5f573"/>
<path d="M124.4,440.5L118.4,436.8L124.3,428L130.3,431.5Z" fill="#78f78a"/>
<path d="M233.3,405.4L227.3,399L233.5,392.8L239.5,398.9Z" fill="#f5f573"/>
<path d="M166.5,419.4L160.4,414.7L166.5,407.1L172.5,411.6Z" fill="#c2f773"/>
<path d="M136.4,435.6L130.3,431.5L136.3,422.9L142.3,426.8Z" fill="#88f77d"/>
<path d="M178.6,416.7L172.5,411.6L178.6,404.3L184.7,409.2Z" fill="#cff773"/>
<path d="M190.7,414.7L184.7,409.2L190.8,402.1L196.8,407.4Z" fill="#d9f773"/>
<path d="M118.6,450L112.5,446.1L118.4,436.8L124.4,440.5Z" fill="#73f8ad"/>
<path d="M148.4,431.3L142.3,426.8L148.3,418.5L154.4,422.8Z" fill="#99f773"/>
<path d="M202.9,413.3L196.8,407.4L203,400.5L209,406.2Z" fill="#e0f773"/>
<path d="M215,412.5L209,406.2L215.1,399.5L221.2,405.5Z" fill="#e3f773"/>
<path d="M227.2,412.2L221.2,405.5L227.3,399L233.3,405.4Z" fill="#e4f773"/>
<path d="M160.4,427.6L154.4,422.8L160.4,414.7L166.5,419.4Z" fill="#a9f773"/>
<path d="M130.5,444.8L124.4,440.5L130.3,431.5L136.4,435.6Z" fill="#76f792"/>
<path d="M172.5,424.6L166.5,419.4L172.5,411.6L178.6,416.7Z" fill="#b6f773"/>
<path d="M184.6,422.4L178.6,416.7L184.7,409.2L190.7,414.7Z" fill="#c0f773"/>
<path d="M142.4,440.2L136.4,435.6L142.3,426.8L148.4,431.3Z" fill="#80f781"/>
<path d="M196.8,420.7L190.7,414.7L196.8,407.4L202.9,413.3Z" fill="#c7f773"/>
<path d="M208.9,419.8L202.9,413.3L209,406.2L215,412.5Z" fill="#ccf773"/>
<path d="M221,419.3L215,412.5L221.2,405.5L227.2,412.2Z" fill="#cef773"/>
<path d="M154.5,436.3L148.4,431.3L154.4,422.8L160.4,427.6Z" fill="#90f778"/>
<path d="M124.6,454.5L118.6,450L124.4,440.5L130.5,444.8Z" fill="#73f8b9"/>
<path d="M166.5,433L160.4,427.6L166.5,419.4L172.5,424.6Z" fill="#9df773"/>
<path d="M136.5,449.6L130.5,444.8L136.4,435.6L142.4,440.2Z" fill="#74f79b"/>
<path d="M178.6,430.5L172.5,424.6L178.6,416.7L184.6,422.4Z" fill="#a8f773"/>
<path d="M190.7,428.6L184.6,422.4L190.7,414.7L196.8,420.7Z" fill="#b0f773"/>
<path d="M148.5,445.4L142.4,440.2L148.4,431.3L154.5,436.3Z" fill="#78f787"/>
<path d="M202.8,427.5L196.8,420.7L202.9,413.3L208.9,419.8Z" fill="#b5f773"/>
<path d="M214.9,426.9L208.9,419.8L215,412.5L221,419.3Z" fill="#b6f773"/>
<path d="M160.5,441.9L154.5,436.3L160.4,427.6L166.5,433Z" fill="#84f77f"/>
<path d="M130.7,459.5L124.6,454.5L130.5,444.8L136.5,449.6Z" fill="#73f8c7"/>
<path d="M172.5,439.1L166.5,433L172.5,424.6L178.6,430.5Z" fill="#8ff779"/>
<path d="M184.6,437L178.6,430.5L184.6,422.4L190.7,428.6Z" fill="#97f774"/>
<path d="M142.6,455L136.5,449.6L142.4,440.2L148.5,445.4Z" fill="#73f8a8"/>
<path d="M196.7,435.5L190.7,428.6L196.8,420.7L202.8,427.5Z" fill="#9df773"/>
<path d="M208.8,434.8L202.8,427.5L208.9,419.8L214.9,426.9Z" fill="#a0f773"/>
<path d="M154.5,451.2L148.5,445.4L154.5,436.3L160.5,441.9Z" fill="#76f795"/>
<path d="M166.5,448.1L160.5,441.9L166.5,433L172.5,439.1Z" fill="#78f787"/>
<path d="M136.7,465.1L130.7,459.5L136.5,449.6L142.6,455Z" fill="#73f7da"/>
<path d="M178.6,445.7L172.5,439.1L178.6,430.5L184.6,437Z" fill="#80f781"/>
<path d="M190.6,444L184.6,437L190.7,428.6L196.7,435.5Z" fill="#87f77e"/>
<path d="M148.6,460.9L142.6,455L148.5,445.4L154.5,451.2Z" fill="#73f8bd"/>
<path d="M202.7,443.1L196.7,435.5L202.8,427.5L208.8,434.8Z" fill="#8af77c"/>
<path d="M160.6,457.5L154.5,451.2L160.5,441.9L166.5,448.1Z" fill="#73f8a6"/>
<path d="M172.6,454.9L166.5,448.1L172.5,439.1L178.6,445.7Z" fill="#75f799"/>
<path d="M184.6,452.9L178.6,445.7L184.6,437L190.6,444Z" fill="#76f791"/>
<path d="M142.7,471.1L136.7,465.1L142.6,455L148.6,460.9Z" fill="#73f5f0"/>
<path d="M196.6,451.7L190.6,444L196.7,435.5L202.7,443.1Z" fill="#77f78c"/>
<path d="M154.6,467.4L148.6,460.9L154.5,451.2L160.6,457.5Z" fill="#73f7d6"/>
<path d="M166.6,464.5L160.6,457.5L166.5,448.1L172.6,454.9Z" fill="#73f8c1"/>
<path d="M178.6,462.3L172.6,454.9L178.6,445.7L184.6,452.9Z" fill="#73f8b3"/>
<path d="M190.6,460.8L184.6,452.9L190.6,444L196.6,451.7Z" fill="#73f8aa"/>
<path d="M148.8,477.8L142.7,471.1L148.6,460.9L154.6,467.4Z" fill="#73efff"/>
<path d="M160.7,474.5L154.6,467.4L160.6,457.5L166.6,464.5Z" fill="#73f5f3"/>
<path d="M172.6,472L166.6,464.5L172.6,454.9L178.6,462.3Z" fill="#73f6e1"/>
<path d="M184.6,470.3L178.6,462.3L184.6,452.9L190.6,460.8Z" fill="#73f7d6"/>
<path d="M154.8,485L148.8,477.8L154.6,467.4L160.7,474.5Z" fill="#73e2ff"/>
<path d="M166.7,482.1L160.7,474.5L166.6,464.5L172.6,472Z" fill="#73ebff"/>
<path d="M178.6,480.1L172.6,472L178.6,462.3L184.6,470.3Z" fill="#73f1ff"/>
<path d="M160.8,492.7L154.8,485L160.7,474.5L166.7,482.1Z" fill="#73d3ff"/>
<path d="M172.7,490.4L166.7,482.1L172.6,472L178.6,480.1Z" fill="#73daff"/>
<path d="M166.8,501.1L160.8,492.7L166.7,482.1L172.7,490.4Z" fill="#76c2ff"/>
</g>
<circle cx="47.2" cy="437.7" r="2.7" fill="#f4c4c4" stroke="#a55" stroke-width="0.6"/>
<circle cx="289.8" cy="362.6" r="2.7" fill="#c00000" stroke="#700" stroke-width="0.6"/>
<circle cx="166.6" cy="365.6" r="2.7" fill="#c00000" stroke="#700" stroke-width="0.6"/>
<circle cx="166.7" cy="501.3" r="2.7" fill="#f4c4c4" stroke="#a55" stroke-width="0.6"/>
<text font-size="10.0" text-anchor="end" fill="#383838" transform="translate(162.1,582.9) scale(0.88,1)">4</text>
<text font-size="10.0" text-anchor="end" fill="#383838" transform="translate(132.9,567.7) scale(0.88,1)">6</text>
<text font-size="10.0" text-anchor="end" fill="#383838" transform="translate(103.8,552.5) scale(0.88,1)">8</text>
<text font-size="10.0" text-anchor="end" fill="#383838" transform="translate(74.7,537.3) scale(0.88,1)">10</text>
<text font-size="10.0" text-anchor="end" fill="#383838" transform="translate(45.5,522.1) scale(0.88,1)">12</text>
<text font-size="10.0" text-anchor="start" fill="#383838" transform="translate(172.6,582.6) scale(0.88,1)">20</text>
<text font-size="10.0" text-anchor="start" fill="#383838" transform="translate(201.5,567.2) scale(0.88,1)">27</text>
<text font-size="10.0" text-anchor="start" fill="#383838" transform="translate(230.4,551.9) scale(0.88,1)">34</text>
<text font-size="10.0" text-anchor="start" fill="#383838" transform="translate(259.3,536.6) scale(0.88,1)">41</text>
<text font-size="10.0" text-anchor="start" fill="#383838" transform="translate(288.2,521.2) scale(0.88,1)">48</text>
<text font-size="10.0" text-anchor="end" fill="#383838" transform="translate(42.9,467.5) scale(0.88,1)">0</text>
<text font-size="10.0" text-anchor="end" fill="#383838" transform="translate(42,448.7) scale(0.88,1)">100</text>
<text font-size="10.0" text-anchor="end" fill="#383838" transform="translate(41.1,429.8) scale(0.88,1)">200</text>
<text font-size="10.0" text-anchor="end" fill="#383838" transform="translate(40.3,410.9) scale(0.88,1)">300</text>
<text font-size="10.0" text-anchor="end" fill="#383838" transform="translate(39.4,392) scale(0.88,1)">400</text>
<text font-size="10.0" text-anchor="end" fill="#383838" transform="translate(38.6,373.1) scale(0.88,1)">500</text>
<text font-size="10.0" text-anchor="end" fill="#383838" transform="translate(37.7,354.2) scale(0.88,1)">600</text>
<text font-size="10.0" text-anchor="end" fill="#383838" transform="translate(36.9,335.3) scale(0.88,1)">700</text>
<text font-size="10.0" text-anchor="middle" fill="#383838" transform="translate(65,569.4) scale(0.93,1)">C (h)</text>
<text font-size="10.0" text-anchor="middle" fill="#383838" transform="translate(271.3,569.4) scale(0.93,1)">A (h)</text>
<text font-size="10.0" text-anchor="middle" fill="#383838" transform="translate(9.5,427.1) rotate(-90) scale(0.95,1)">R1 (nm)</text>
<text x="47" y="321.7" font-family="Liberation Serif" font-weight="bold" font-size="19.5" fill="#000">(b)</text>
<polygon points="59.3,811.7 174.2,766 174.2,613.5 52.3,643.1" fill="#fff"/>
<polygon points="174.2,766 288.1,812.1 296.2,643.1 174.2,613.5" fill="#fff"/>
<path d="M57.7,771.6L174.2,729.7L290,771.9M56.9,753.3L174.2,713.1L290.9,753.5M56.1,734.9L174.2,696.5L291.8,735.1M55.4,716.6L174.2,679.9L292.7,716.7M54.6,698.2L174.2,663.3L293.6,698.3M53.8,679.8L174.2,646.7L294.4,679.9M53.1,661.5L174.2,630.1L295.3,661.5M52.3,643.1L174.2,613.5L296.2,643.1M81,763.2L76.7,637.2M104.3,754.9L101.1,631.3M127.6,746.5L125.4,625.4M150.9,738.1L149.8,619.4M261.1,761.3L265.7,635.7M232.1,750.8L235.2,628.3M203.2,740.3L204.7,620.9M59.3,811.7L52.3,643.1M174.2,766L174.2,613.5M288.1,812.1L296.2,643.1" stroke="#333" stroke-width="1" fill="none"/>
<polygon points="174.7,871 59.3,811.7 174.2,766 288.1,812.1" fill="#616161" stroke="#111" stroke-width="1.1" stroke-linejoin="round"/>
<polyline points="182.7,769.4 160.7,771.4" fill="none" stroke="#1fd845" stroke-width="1.8"/>
<polyline points="62.8,810.3 61.5,812.8" fill="none" stroke="#1fd845" stroke-width="1.8"/>
<polyline points="171.9,869.5 178.5,869" fill="none" stroke="#26df23" stroke-width="1.8"/>
<polyline points="192.7,773.5 178.9,774.3 165.6,775.5 153.5,777 141.5,779" fill="none" stroke="#26df23" stroke-width="1.8"/>
<polyline points="82,802.7 78.4,806.3 75.5,810 73.2,814 71.7,818.1" fill="none" stroke="#26df23" stroke-width="1.8"/>
<polyline points="162.4,864.7 176.7,864 191.2,862.4" fill="none" stroke="#64e020" stroke-width="1.8"/>
<polyline points="285.2,813.6 286.1,811.2" fill="none" stroke="#64e020" stroke-width="1.8"/>
<polyline points="201.8,777.2 189,777.6 177.1,778.4 165.2,779.6 153.9,781.2 143.1,783.1 132.9,785.4 124.2,787.8 115.6,790.8 108.3,793.8 101.7,797.2 95.8,801 91.1,804.8 87.1,809.1 84.2,813.3 82.1,818.1 81.1,822.9" fill="none" stroke="#64e020" stroke-width="1.8"/>
<polyline points="141.4,853.9 150.4,855.1 160.9,855.7 171.5,855.6 182.2,854.8 192.9,853.4 203.7,851.3 214.2,848.6 224.1,845.3" fill="none" stroke="#c9e716" stroke-width="1.8"/>
<polyline points="252.3,830.7 256.3,827.4 260.1,823.7 263.1,820.2 265.4,816.4 266.8,813 267.5,809.5 267.4,806.4 266.5,803.3" fill="none" stroke="#c9e716" stroke-width="1.8"/>
<polyline points="221.4,785.1 208.9,784.4 195.9,784.4 183,785 169.7,786.2 157.1,788.1 145.4,790.5 135.2,793.3 126.1,796.6 118,800.4 111.5,804.5 106.4,808.7 104.2,811.2 102.5,813.5 101.1,816 100,818.6 99.4,821.2 99.2,823.6 99.3,826.1 99.8,828.6 100.9,831.4 102.1,833.7" fill="none" stroke="#c9e716" stroke-width="1.8"/>
<polyline points="144.2,800.5 137.8,803.1 132.6,805.8 128.1,808.8 124.7,811.8 121.9,815.2 120.2,818.6 119.5,822.1 119.9,825.7 121.1,829 123.5,832.3 126.7,835.3 131.1,838.2 136.5,840.7 142.1,842.6 148.3,844.1 155.6,845.3 162.4,845.9 170,846.1 177.5,845.8 184.8,845.1 192.4,844 200,842.4 207,840.6 213.8,838.4 220.2,835.8 226.6,832.7 231.9,829.7 236.5,826.3 240.5,822.7 243.4,819.2 245.2,815.7 246,812.4 246.1,810.8 245.8,808.9 244.5,805.9 242.1,802.9 238.3,800.2 233.5,797.9 227.9,796 221.4,794.5 214.1,793.4 205.7,792.7 196.4,792.4 186.7,792.7 177.8,793.3 168.8,794.5 160.1,796.1 152.1,798 144.2,800.5" fill="none" stroke="#e6c318" stroke-width="1.8"/>
<polyline points="59.3,811.7 174.7,871 288.1,812.1" fill="none" stroke="#111" stroke-width="1.1"/>
<circle cx="174.7" cy="871" r="1.45" fill="#111"/>
<circle cx="145.9" cy="856.2" r="1.45" fill="#111"/>
<circle cx="117" cy="841.3" r="1.45" fill="#111"/>
<circle cx="88.2" cy="826.5" r="1.45" fill="#111"/>
<circle cx="59.3" cy="811.7" r="1.45" fill="#111"/>
<circle cx="174.7" cy="871" r="1.45" fill="#111"/>
<circle cx="197.4" cy="859.2" r="1.45" fill="#111"/>
<circle cx="220.1" cy="847.4" r="1.45" fill="#111"/>
<circle cx="242.8" cy="835.6" r="1.45" fill="#111"/>
<circle cx="265.4" cy="823.8" r="1.45" fill="#111"/>
<circle cx="288.1" cy="812.1" r="1.45" fill="#111"/>
<circle cx="57.7" cy="771.6" r="1.45" fill="#111"/>
<circle cx="56.9" cy="753.3" r="1.45" fill="#111"/>
<circle cx="56.1" cy="734.9" r="1.45" fill="#111"/>
<circle cx="55.4" cy="716.6" r="1.45" fill="#111"/>
<circle cx="54.6" cy="698.2" r="1.45" fill="#111"/>
<circle cx="53.8" cy="679.8" r="1.45" fill="#111"/>
<circle cx="53.1" cy="661.5" r="1.45" fill="#111"/>
<circle cx="52.3" cy="643.1" r="1.45" fill="#111"/>
<g stroke="#141c0a" stroke-opacity=".88" stroke-width=".72" stroke-linejoin="round">
<path d="M174.2,679.2L168.3,682.3L174.2,683.9L180.1,680.6Z" fill="#27f362"/>
<path d="M168.2,678L162.3,681.1L168.3,682.3L174.2,679.2Z" fill="#29f244"/>
<path d="M180.1,676.4L174.2,679.2L180.1,680.6L186.1,677.8Z" fill="#32f239"/>
<path d="M162.3,677.1L156.3,680.1L162.3,681.1L168.2,678Z" fill="#38f232"/>
<path d="M174.2,675.3L168.2,678L174.2,679.2L180.1,676.4Z" fill="#45f229"/>
<path d="M186.1,674L180.1,676.4L186.1,677.8L192.1,675.3Z" fill="#4ef223"/>
<path d="M156.3,676.5L150.4,679.5L156.3,680.1L162.3,677.1Z" fill="#48f224"/>
<path d="M168.2,674.4L162.3,677.1L168.2,678L174.2,675.3Z" fill="#57f21b"/>
<path d="M180.1,672.9L174.2,675.3L180.1,676.4L186.1,674Z" fill="#64f119"/>
<path d="M192.1,672L186.1,674L192.1,675.3L198,673.2Z" fill="#6cf118"/>
<path d="M150.3,676.2L144.4,679.1L150.4,679.5L156.3,676.5Z" fill="#56f119"/>
<path d="M162.2,673.9L156.3,676.5L162.3,677.1L168.2,674.4Z" fill="#6bf117"/>
<path d="M174.2,672.2L168.2,674.4L174.2,675.3L180.1,672.9Z" fill="#7af117"/>
<path d="M186.1,671L180.1,672.9L186.1,674L192.1,672Z" fill="#84f116"/>
<path d="M198.1,670.4L192.1,672L198,673.2L204,671.6Z" fill="#89f115"/>
<path d="M144.3,676.3L138.4,679.1L144.4,679.1L150.3,676.2Z" fill="#65f115"/>
<path d="M156.2,673.7L150.3,676.2L156.3,676.5L162.2,673.9Z" fill="#7cf115"/>
<path d="M168.2,671.7L162.2,673.9L168.2,674.4L174.2,672.2Z" fill="#8ef114"/>
<path d="M180.1,670.3L174.2,672.2L180.1,672.9L186.1,671Z" fill="#9af114"/>
<path d="M192.1,669.5L186.1,671L192.1,672L198.1,670.4Z" fill="#a3f113"/>
<path d="M204.1,669.2L198.1,670.4L204,671.6L210.1,670.3Z" fill="#a4f113"/>
<path d="M138.3,676.6L132.4,679.4L138.4,679.1L144.3,676.3Z" fill="#72f113"/>
<path d="M150.2,673.8L144.3,676.3L150.3,676.2L156.2,673.7Z" fill="#8bf113"/>
<path d="M162.2,671.5L156.2,673.7L162.2,673.9L168.2,671.7Z" fill="#a0f112"/>
<path d="M174.2,669.9L168.2,671.7L174.2,672.2L180.1,670.3Z" fill="#b0f112"/>
<path d="M186.1,668.8L180.1,670.3L186.1,671L192.1,669.5Z" fill="#bbf112"/>
<path d="M198.1,668.3L192.1,669.5L198.1,670.4L204.1,669.2Z" fill="#bff111"/>
<path d="M210.1,668.4L204.1,669.2L210.1,670.3L216.1,669.5Z" fill="#bef110"/>
<path d="M132.3,677.3L126.4,680L132.4,679.4L138.3,676.6Z" fill="#7cf111"/>
<path d="M144.2,674.1L138.3,676.6L144.3,676.3L150.2,673.8Z" fill="#98f111"/>
<path d="M156.2,671.7L150.2,673.8L156.2,673.7L162.2,671.5Z" fill="#b1f111"/>
<path d="M168.2,669.8L162.2,671.5L168.2,671.7L174.2,669.9Z" fill="#c4f110"/>
<path d="M180.2,668.5L174.2,669.9L180.1,670.3L186.1,668.8Z" fill="#d0f110"/>
<path d="M192.2,667.8L186.1,668.8L192.1,669.5L198.1,668.3Z" fill="#d8f110"/>
<path d="M216.2,668.1L210.1,668.4L216.1,669.5L222.1,669.1Z" fill="#d3f10f"/>
<path d="M204.2,667.6L198.1,668.3L204.1,669.2L210.1,668.4Z" fill="#d8f10f"/>
<path d="M126.3,678.2L120.4,681L126.4,680L132.3,677.3Z" fill="#83f110"/>
<path d="M138.2,674.8L132.3,677.3L138.3,676.6L144.2,674.1Z" fill="#a4f110"/>
<path d="M150.2,672.1L144.2,674.1L150.2,673.8L156.2,671.7Z" fill="#bff110"/>
<path d="M162.1,670L156.2,671.7L162.2,671.5L168.2,669.8Z" fill="#d5f10f"/>
<path d="M174.1,668.4L168.2,669.8L174.2,669.9L180.2,668.5Z" fill="#e4f10f"/>
<path d="M186.2,667.5L180.2,668.5L186.1,668.8L192.2,667.8Z" fill="#ecf10f"/>
<path d="M222.2,668.1L216.2,668.1L222.1,669.1L228.1,669.1Z" fill="#e4f10e"/>
<path d="M198.2,667.1L192.2,667.8L198.1,668.3L204.2,667.6Z" fill="#edef0e"/>
<path d="M210.2,667.3L204.2,667.6L210.1,668.4L216.2,668.1Z" fill="#ecf00e"/>
<path d="M120.3,679.6L114.4,682.3L120.4,681L126.3,678.2Z" fill="#88f10f"/>
<path d="M132.2,675.9L126.3,678.2L132.3,677.3L138.2,674.8Z" fill="#acf10f"/>
<path d="M144.1,672.8L138.2,674.8L144.2,674.1L150.2,672.1Z" fill="#caf10e"/>
<path d="M156.1,670.4L150.2,672.1L156.2,671.7L162.1,670Z" fill="#e2f10e"/>
<path d="M168.1,668.6L162.1,670L168.2,669.8L174.1,668.4Z" fill="#eeed0e"/>
<path d="M228.2,668.7L222.2,668.1L228.1,669.1L234.2,669.5Z" fill="#eeed0d"/>
<path d="M180.2,667.5L174.1,668.4L180.2,668.5L186.2,667.5Z" fill="#f1e60e"/>
<path d="M114.3,681.2L108.5,683.9L114.4,682.3L120.3,679.6Z" fill="#8af10e"/>
<path d="M216.2,667.5L210.2,667.3L216.2,668.1L222.2,668.1Z" fill="#f1e70d"/>
<path d="M192.2,666.9L186.2,667.5L192.2,667.8L198.2,667.1Z" fill="#f3e40e"/>
<path d="M204.2,666.9L198.2,667.1L204.2,667.6L210.2,667.3Z" fill="#f3e40d"/>
<path d="M126.2,677.2L120.3,679.6L126.3,678.2L132.2,675.9Z" fill="#b1f10e"/>
<path d="M138.1,673.9L132.2,675.9L138.2,674.8L144.1,672.8Z" fill="#d3f10e"/>
<path d="M150.1,671.2L144.1,672.8L150.2,672.1L156.1,670.4Z" fill="#ecf00d"/>
<path d="M162.1,669.2L156.1,670.4L162.1,670L168.1,668.6Z" fill="#f2e50d"/>
<path d="M108.3,683.2L102.5,685.9L108.5,683.9L114.3,681.2Z" fill="#89f10d"/>
<path d="M234.2,669.6L228.2,668.7L234.2,669.5L240.2,670.4Z" fill="#f0e80d"/>
<path d="M174.1,667.8L168.1,668.6L174.1,668.4L180.2,667.5Z" fill="#f6de0d"/>
<path d="M222.2,668.1L216.2,667.5L222.2,668.1L228.2,668.7Z" fill="#f5e00d"/>
<path d="M186.2,666.9L180.2,667.5L186.2,667.5L192.2,666.9Z" fill="#f7da0d"/>
<path d="M210.2,667.1L204.2,666.9L210.2,667.3L216.2,667.5Z" fill="#f7db0d"/>
<path d="M198.2,666.7L192.2,666.9L198.2,667.1L204.2,666.9Z" fill="#f8d90d"/>
<path d="M120.2,678.9L114.3,681.2L120.3,679.6L126.2,677.2Z" fill="#b3f10d"/>
<path d="M132.1,675.3L126.2,677.2L132.2,675.9L138.1,673.9Z" fill="#d7f10d"/>
<path d="M144.1,672.3L138.1,673.9L144.1,672.8L150.1,671.2Z" fill="#eeec0d"/>
<path d="M102.4,685.5L96.5,688.2L102.5,685.9L108.3,683.2Z" fill="#85f10d"/>
<path d="M156.1,670L150.1,671.2L156.1,670.4L162.1,669.2Z" fill="#f5e00d"/>
<path d="M240.2,671L234.2,669.6L240.2,670.4L246.2,671.8Z" fill="#f2e50d"/>
<path d="M168.1,668.3L162.1,669.2L168.1,668.6L174.1,667.8Z" fill="#f8d70d"/>
<path d="M228.3,669.1L222.2,668.1L228.2,668.7L234.2,669.6Z" fill="#f6dc0d"/>
<path d="M180.1,667.3L174.1,667.8L180.2,667.5L186.2,666.9Z" fill="#fbd10d"/>
<path d="M216.3,667.7L210.2,667.1L216.2,667.5L222.2,668.1Z" fill="#fad40d"/>
<path d="M114.2,680.9L108.3,683.2L114.3,681.2L120.2,678.9Z" fill="#b3f10d"/>
<path d="M192.2,666.8L186.2,666.9L192.2,666.9L198.2,666.7Z" fill="#fdd00d"/>
<path d="M204.2,667L198.2,666.7L204.2,666.9L210.2,667.1Z" fill="#fcd00d"/>
<path d="M126.1,677L120.2,678.9L126.2,677.2L132.1,675.3Z" fill="#daf10d"/>
<path d="M138.1,673.7L132.1,675.3L138.1,673.9L144.1,672.3Z" fill="#f0e90d"/>
<path d="M96.4,688.2L90.6,690.9L96.5,688.2L102.4,685.5Z" fill="#7ff10d"/>
<path d="M150.1,671.2L144.1,672.3L150.1,671.2L156.1,670Z" fill="#f6dc0d"/>
<path d="M246.2,672.9L240.2,671L246.2,671.8L252.2,673.6Z" fill="#f2e50e"/>
<path d="M162.1,669.2L156.1,670L162.1,669.2L168.1,668.3Z" fill="#fbd10d"/>
<path d="M234.3,670.6L228.3,669.1L234.2,669.6L240.2,671Z" fill="#f7d90e"/>
<path d="M108.2,683.3L102.4,685.5L108.3,683.2L114.2,680.9Z" fill="#aef10d"/>
<path d="M174.1,667.9L168.1,668.3L174.1,667.8L180.1,667.3Z" fill="#ffcb0d"/>
<path d="M222.3,668.8L216.3,667.7L222.2,668.1L228.3,669.1Z" fill="#fcd00d"/>
<path d="M186.2,667.2L180.1,667.3L186.2,666.9L192.2,666.8Z" fill="#ffc60d"/>
<path d="M210.3,667.7L204.2,667L210.2,667.1L216.3,667.7Z" fill="#ffca0d"/>
<path d="M198.2,667.2L192.2,666.8L198.2,666.7L204.2,667Z" fill="#ffc50d"/>
<path d="M120.1,679L114.2,680.9L120.2,678.9L126.1,677Z" fill="#d9f10d"/>
<path d="M90.5,691.3L84.6,693.9L90.6,690.9L96.4,688.2Z" fill="#76f10d"/>
<path d="M132.1,675.5L126.1,677L132.1,675.3L138.1,673.7Z" fill="#f0e80d"/>
<path d="M252.2,675.2L246.2,672.9L252.2,673.6L258.2,675.8Z" fill="#f1e70f"/>
<path d="M144,672.6L138.1,673.7L144.1,672.3L150.1,671.2Z" fill="#f7da0d"/>
<path d="M102.3,686L96.4,688.2L102.4,685.5L108.2,683.3Z" fill="#a8f10d"/>
<path d="M240.3,672.5L234.3,670.6L240.2,671L246.2,672.9Z" fill="#f8d90f"/>
<path d="M156,670.4L150.1,671.2L156.1,670L162.1,669.2Z" fill="#fdce0d"/>
<path d="M228.3,670.4L222.3,668.8L228.3,669.1L234.3,670.6Z" fill="#fdce0e"/>
<path d="M168.1,668.9L162.1,669.2L168.1,668.3L174.1,667.9Z" fill="#ffc30d"/>
<path d="M216.3,668.9L210.3,667.7L216.3,667.7L222.3,668.8Z" fill="#ffc30e"/>
<path d="M180.1,667.9L174.1,667.9L180.1,667.3L186.2,667.2Z" fill="#ffbd0d"/>
<path d="M204.2,667.9L198.2,667.2L204.2,667L210.3,667.7Z" fill="#ffbd0e"/>
<path d="M192.2,667.6L186.2,667.2L192.2,666.8L198.2,667.2Z" fill="#ffba0d"/>
<path d="M114.1,681.4L108.2,683.3L114.2,680.9L120.1,679Z" fill="#d4f10d"/>
<path d="M84.5,694.7L78.7,697.3L84.6,693.9L90.5,691.3Z" fill="#6af10d"/>
<path d="M126,677.6L120.1,679L126.1,677L132.1,675.5Z" fill="#f0e90d"/>
<path d="M258.2,678L252.2,675.2L258.2,675.8L264.1,678.6Z" fill="#efeb11"/>
<path d="M138,674.4L132.1,675.5L138.1,673.7L144,672.6Z" fill="#f8d90d"/>
<path d="M96.3,689L90.5,691.3L96.4,688.2L102.3,686Z" fill="#9df10d"/>
<path d="M246.3,674.9L240.3,672.5L246.2,672.9L252.2,675.2Z" fill="#f7db10"/>
<path d="M150,671.9L144,672.6L150.1,671.2L156,670.4Z" fill="#fecc0d"/>
<path d="M234.3,672.4L228.3,670.4L234.3,670.6L240.3,672.5Z" fill="#fdce10"/>
<path d="M162,670.1L156,670.4L162.1,669.2L168.1,668.9Z" fill="#ffbf0d"/>
<path d="M108.1,684.1L102.3,686L108.2,683.3L114.1,681.4Z" fill="#cef10d"/>
<path d="M222.3,670.5L216.3,668.9L222.3,668.8L228.3,670.4Z" fill="#ffc10f"/>
<path d="M174.1,668.9L168.1,668.9L174.1,667.9L180.1,667.9Z" fill="#ffb50e"/>
<path d="M78.6,698.4L72.8,701.1L78.7,697.3L84.5,694.7Z" fill="#5bf10e"/>
<path d="M210.3,669.1L204.2,667.9L210.3,667.7L216.3,668.9Z" fill="#ffb70f"/>
<path d="M186.2,668.4L180.1,667.9L186.2,667.2L192.2,667.6Z" fill="#ffb10e"/>
<path d="M198.2,668.4L192.2,667.6L198.2,667.2L204.2,667.9Z" fill="#ffb20e"/>
<path d="M120,680L114.1,681.4L120.1,679L126,677.6Z" fill="#efeb0d"/>
<path d="M264.1,681.3L258.2,678L264.1,678.6L270.1,681.8Z" fill="#ebf113"/>
<path d="M90.4,692.4L84.5,694.7L90.5,691.3L96.3,689Z" fill="#90f10e"/>
<path d="M132,676.5L126,677.6L132.1,675.5L138,674.4Z" fill="#f7d90e"/>
<path d="M252.3,677.8L246.3,674.9L252.2,675.2L258.2,678Z" fill="#f5e013"/>
<path d="M144,673.7L138,674.4L144,672.6L150,671.9Z" fill="#ffcb0e"/>
<path d="M240.3,674.8L234.3,672.4L240.3,672.5L246.3,674.9Z" fill="#fcd112"/>
<path d="M102.2,687.2L96.3,689L102.3,686L108.1,684.1Z" fill="#c3f10e"/>
<path d="M72.7,702.6L67,705.2L72.8,701.1L78.6,698.4Z" fill="#4af112"/>
<path d="M156,671.6L150,671.9L156,670.4L162,670.1Z" fill="#ffbb0e"/>
<path d="M228.3,672.5L222.3,670.5L228.3,670.4L234.3,672.4Z" fill="#ffc211"/>
<path d="M168.1,670.2L162,670.1L168.1,668.9L174.1,668.9Z" fill="#ffb10e"/>
<path d="M216.3,670.8L210.3,669.1L216.3,668.9L222.3,670.5Z" fill="#ffb510"/>
<path d="M180.1,669.4L174.1,668.9L180.1,667.9L186.2,668.4Z" fill="#ffaa0f"/>
<path d="M204.2,669.7L198.2,668.4L204.2,667.9L210.3,669.1Z" fill="#ffac10"/>
<path d="M192.2,669.2L186.2,668.4L192.2,667.6L198.2,668.4Z" fill="#ffa90f"/>
<path d="M114,682.7L108.1,684.1L114.1,681.4L120,680Z" fill="#edef0e"/>
<path d="M270.1,685.1L264.1,681.3L270.1,681.8L276,685.5Z" fill="#dbf116"/>
<path d="M84.4,696.2L78.6,698.4L84.5,694.7L90.4,692.4Z" fill="#83f10f"/>
<path d="M126,678.9L120,680L126,677.6L132,676.5Z" fill="#f7dc0e"/>
<path d="M258.2,681.1L252.3,677.8L258.2,678L264.1,681.3Z" fill="#f2e715"/>
<path d="M66.9,707.1L61.1,709.8L67,705.2L72.7,702.6Z" fill="#39f11d"/>
<path d="M138,675.9L132,676.5L138,674.4L144,673.7Z" fill="#fecc0f"/>
<path d="M96.2,690.6L90.4,692.4L96.3,689L102.2,687.2Z" fill="#b6f10f"/>
<path d="M246.3,677.8L240.3,674.8L246.3,674.9L252.3,677.8Z" fill="#fad614"/>
<path d="M150,673.5L144,673.7L150,671.9L156,671.6Z" fill="#ffba0f"/>
<path d="M234.3,675L228.3,672.5L234.3,672.4L240.3,674.8Z" fill="#ffc713"/>
<path d="M162,671.8L156,671.6L162,670.1L168.1,670.2Z" fill="#ffad0f"/>
<path d="M222.3,672.9L216.3,670.8L222.3,670.5L228.3,672.5Z" fill="#ffb712"/>
<path d="M108.1,685.8L102.2,687.2L108.1,684.1L114,682.7Z" fill="#e6f10f"/>
<path d="M174.1,670.7L168.1,670.2L174.1,668.9L180.1,669.4Z" fill="#ffa610"/>
<path d="M210.3,671.4L204.2,669.7L210.3,669.1L216.3,670.8Z" fill="#ffab12"/>
<path d="M276,689.4L270.1,685.1L276,685.5L281.8,689.7Z" fill="#c8f21a"/>
<path d="M78.5,700.3L72.7,702.6L78.6,698.4L84.4,696.2Z" fill="#71f110"/>
<path d="M186.1,670.3L180.1,669.4L186.2,668.4L192.2,669.2Z" fill="#ffa210"/>
<path d="M198.2,670.6L192.2,669.2L198.2,668.4L204.2,669.7Z" fill="#ffa411"/>
<path d="M120,681.7L114,682.7L120,680L126,678.9Z" fill="#f5e00f"/>
<path d="M264.1,684.9L258.2,681.1L264.1,681.3L270.1,685.1Z" fill="#eef018"/>
<path d="M61,712L55.3,714.7L61.1,709.8L66.9,707.1Z" fill="#25f12b"/>
<path d="M90.3,694.4L84.4,696.2L90.4,692.4L96.2,690.6Z" fill="#a7f110"/>
<path d="M131.9,678.3L126,678.9L132,676.5L138,675.9Z" fill="#fdcf10"/>
<path d="M252.2,681.2L246.3,677.8L252.3,677.8L258.2,681.1Z" fill="#f7dd17"/>
<path d="M143.9,675.7L138,675.9L144,673.7L150,673.5Z" fill="#ffbc10"/>
<path d="M240.3,678L234.3,675L240.3,674.8L246.3,677.8Z" fill="#ffce16"/>
<path d="M281.8,694.1L276,689.4L281.8,689.7L287.7,694.4Z" fill="#b2f21d"/>
<path d="M102.1,689.2L96.2,690.6L102.2,687.2L108.1,685.8Z" fill="#d9f110"/>
<path d="M72.6,704.8L66.9,707.1L72.7,702.6L78.5,700.3Z" fill="#5cf111"/>
<path d="M156,673.7L150,673.5L156,671.6L162,671.8Z" fill="#ffae10"/>
<path d="M228.3,675.5L222.3,672.9L228.3,672.5L234.3,675Z" fill="#ffbb15"/>
<path d="M168,672.4L162,671.8L168.1,670.2L174.1,670.7Z" fill="#ffa411"/>
<path d="M216.3,673.6L210.3,671.4L216.3,670.8L222.3,672.9Z" fill="#ffad14"/>
<path d="M180.1,671.7L174.1,670.7L180.1,669.4L186.1,670.3Z" fill="#ff9f12"/>
<path d="M204.2,672.4L198.2,670.6L204.2,669.7L210.3,671.4Z" fill="#ffa313"/>
<path d="M192.2,671.7L186.1,670.3L192.2,669.2L198.2,670.6Z" fill="#ff9e12"/>
<path d="M270,689.3L264.1,684.9L270.1,685.1L276,689.4Z" fill="#ddf21c"/>
<path d="M114,684.8L108.1,685.8L114,682.7L120,681.7Z" fill="#f2e610"/>
<path d="M84.4,698.5L78.5,700.3L84.4,696.2L90.3,694.4Z" fill="#95f111"/>
<path d="M258.2,685.1L252.2,681.2L258.2,681.1L264.1,684.9Z" fill="#f2e61a"/>
<path d="M125.9,681.1L120,681.7L126,678.9L131.9,678.3Z" fill="#fbd311"/>
<path d="M287.6,699.4L281.8,694.1L287.7,694.4L293.5,699.6Z" fill="#99f222"/>
<path d="M246.3,681.5L240.3,678L246.3,677.8L252.2,681.2Z" fill="#fbd519"/>
<path d="M66.8,709.7L61,712L66.9,707.1L72.6,704.8Z" fill="#48f119"/>
<path d="M137.9,678.2L131.9,678.3L138,675.9L143.9,675.7Z" fill="#ffc111"/>
<path d="M96.2,693L90.3,694.4L96.2,690.6L102.1,689.2Z" fill="#c9f111"/>
<path d="M234.3,678.6L228.3,675.5L234.3,675L240.3,678Z" fill="#ffc318"/>
<path d="M149.9,675.9L143.9,675.7L150,673.5L156,673.7Z" fill="#ffb012"/>
<path d="M222.3,676.3L216.3,673.6L222.3,672.9L228.3,675.5Z" fill="#ffb217"/>
<path d="M275.9,694.1L270,689.3L276,689.4L281.8,694.1Z" fill="#c7f220"/>
<path d="M162,674.3L156,673.7L162,671.8L168,672.4Z" fill="#ffa412"/>
<path d="M210.3,674.6L204.2,672.4L210.3,671.4L216.3,673.6Z" fill="#ffa616"/>
<path d="M108,688.2L102.1,689.2L108.1,685.8L114,684.8Z" fill="#efec12"/>
<path d="M174.1,673.4L168,672.4L174.1,670.7L180.1,671.7Z" fill="#ff9d13"/>
<path d="M198.2,673.6L192.2,671.7L198.2,670.6L204.2,672.4Z" fill="#ff9f15"/>
<path d="M186.1,673.2L180.1,671.7L186.1,670.3L192.2,671.7Z" fill="#ff9b14"/>
<path d="M78.5,703L72.6,704.8L78.5,700.3L84.4,698.5Z" fill="#81f112"/>
<path d="M264.1,689.5L258.2,685.1L264.1,684.9L270,689.3Z" fill="#eef11e"/>
<path d="M119.9,684.3L114,684.8L120,681.7L125.9,681.1Z" fill="#f9d912"/>
<path d="M252.2,685.5L246.3,681.5L252.2,681.2L258.2,685.1Z" fill="#f7de1d"/>
<path d="M90.2,697.1L84.4,698.5L90.3,694.4L96.2,693Z" fill="#b6f113"/>
<path d="M131.9,681L125.9,681.1L131.9,678.3L137.9,678.2Z" fill="#ffc613"/>
<path d="M240.3,682.1L234.3,678.6L240.3,678L246.3,681.5Z" fill="#ffce1b"/>
<path d="M281.7,699.4L275.9,694.1L281.8,694.1L287.6,699.4Z" fill="#aef224"/>
<path d="M143.9,678.5L137.9,678.2L143.9,675.7L149.9,675.9Z" fill="#ffb413"/>
<path d="M228.3,679.4L222.3,676.3L228.3,675.5L234.3,678.6Z" fill="#ffbb1a"/>
<path d="M102.1,692L96.2,693L102.1,689.2L108,688.2Z" fill="#e6f113"/>
<path d="M72.6,707.9L66.8,709.7L72.6,704.8L78.5,703Z" fill="#6bf114"/>
<path d="M155.9,676.6L149.9,675.9L156,673.7L162,674.3Z" fill="#ffa714"/>
<path d="M216.3,677.3L210.3,674.6L216.3,673.6L222.3,676.3Z" fill="#ffac19"/>
<path d="M168,675.4L162,674.3L168,672.4L174.1,673.4Z" fill="#ff9e15"/>
<path d="M270,694.4L264.1,689.5L270,689.3L275.9,694.1Z" fill="#d8f222"/>
<path d="M204.2,675.9L198.2,673.6L204.2,672.4L210.3,674.6Z" fill="#ffa218"/>
<path d="M180.1,674.9L174.1,673.4L180.1,671.7L186.1,673.2Z" fill="#ff9a16"/>
<path d="M192.1,675.1L186.1,673.2L192.2,671.7L198.2,673.6Z" fill="#ff9c17"/>
<path d="M113.9,687.7L108,688.2L114,684.8L119.9,684.3Z" fill="#f6e014"/>
<path d="M258.1,690L252.2,685.5L258.2,685.1L264.1,689.5Z" fill="#f2e921"/>
<path d="M84.3,701.6L78.5,703L84.4,698.5L90.2,697.1Z" fill="#a1f114"/>
<path d="M125.9,684.2L119.9,684.3L125.9,681.1L131.9,681Z" fill="#fece14"/>
<path d="M246.2,686.2L240.3,682.1L246.3,681.5L252.2,685.5Z" fill="#fbd71f"/>
<path d="M137.9,681.3L131.9,681L137.9,678.2L143.9,678.5Z" fill="#ffba15"/>
<path d="M96.1,696.2L90.2,697.1L96.2,693L102.1,692Z" fill="#d3f115"/>
<path d="M234.3,683L228.3,679.4L234.3,678.6L240.3,682.1Z" fill="#ffc61e"/>
<path d="M275.8,699.8L270,694.4L275.9,694.1L281.7,699.4Z" fill="#bff227"/>
<path d="M149.9,679.2L143.9,678.5L149.9,675.9L155.9,676.6Z" fill="#ffab16"/>
<path d="M222.3,680.5L216.3,677.3L222.3,676.3L228.3,679.4Z" fill="#ffb41c"/>
<path d="M162,677.8L155.9,676.6L162,674.3L168,675.4Z" fill="#ffa017"/>
<path d="M210.2,678.7L204.2,675.9L210.3,674.6L216.3,677.3Z" fill="#ffa71b"/>
<path d="M174,677L168,675.4L174.1,673.4L180.1,674.9Z" fill="#ff9b18"/>
<path d="M198.2,677.5L192.1,675.1L198.2,673.6L204.2,675.9Z" fill="#ff9f1a"/>
<path d="M108,691.6L102.1,692L108,688.2L113.9,687.7Z" fill="#f1e816"/>
<path d="M186.1,676.9L180.1,674.9L186.1,673.2L192.1,675.1Z" fill="#ff9b19"/>
<path d="M78.4,706.5L72.6,707.9L78.5,703L84.3,701.6Z" fill="#8af116"/>
<path d="M264,694.9L258.1,690L264.1,689.5L270,694.4Z" fill="#e7f225"/>
<path d="M119.9,687.7L113.9,687.7L119.9,684.3L125.9,684.2Z" fill="#fad516"/>
<path d="M252.1,690.7L246.2,686.2L252.2,685.5L258.1,690Z" fill="#f6e324"/>
<path d="M90.2,700.7L84.3,701.6L90.2,697.1L96.1,696.2Z" fill="#bef117"/>
<path d="M131.9,684.5L125.9,684.2L131.9,681L137.9,681.3Z" fill="#ffc317"/>
<path d="M240.2,687.2L234.3,683L240.3,682.1L246.2,686.2Z" fill="#fdd322"/>
<path d="M143.9,682.1L137.9,681.3L143.9,678.5L149.9,679.2Z" fill="#ffb118"/>
<path d="M228.2,684.2L222.3,680.5L228.3,679.4L234.3,683Z" fill="#ffc020"/>
<path d="M102,695.7L96.1,696.2L102.1,692L108,691.6Z" fill="#ecf118"/>
<path d="M155.9,680.4L149.9,679.2L155.9,676.6L162,677.8Z" fill="#ffa619"/>
<path d="M216.2,682L210.2,678.7L216.3,677.3L222.3,680.5Z" fill="#ffb11f"/>
<path d="M269.9,700.4L264,694.9L270,694.4L275.8,699.8Z" fill="#cdf22a"/>
<path d="M168,679.4L162,677.8L168,675.4L174,677Z" fill="#ff9e1a"/>
<path d="M204.2,680.3L198.2,677.5L204.2,675.9L210.2,678.7Z" fill="#ffa51d"/>
<path d="M180,679L174,677L180.1,674.9L186.1,676.9Z" fill="#ff9c1b"/>
<path d="M192.1,679.4L186.1,676.9L192.1,675.1L198.2,677.5Z" fill="#ff9e1c"/>
<path d="M113.9,691.5L108,691.6L113.9,687.7L119.9,687.7Z" fill="#f7de18"/>
<path d="M258,695.7L252.1,690.7L258.1,690L264,694.9Z" fill="#f0f028"/>
<path d="M84.3,705.6L78.4,706.5L84.3,701.6L90.2,700.7Z" fill="#a7f119"/>
<path d="M246.1,691.8L240.2,687.2L246.2,686.2L252.1,690.7Z" fill="#f8de27"/>
<path d="M125.9,688.1L119.9,687.7L125.9,684.2L131.9,684.5Z" fill="#ffcd19"/>
<path d="M234.2,688.4L228.2,684.2L234.3,683L240.2,687.2Z" fill="#ffcf25"/>
<path d="M137.9,685.4L131.9,684.5L137.9,681.3L143.9,682.1Z" fill="#ffba1a"/>
<path d="M96.1,700.2L90.2,700.7L96.1,696.2L102,695.7Z" fill="#d7f21a"/>
<path d="M222.2,685.7L216.2,682L222.3,680.5L228.2,684.2Z" fill="#ffbd23"/>
<path d="M149.9,683.4L143.9,682.1L149.9,679.2L155.9,680.4Z" fill="#ffac1b"/>
<path d="M210.2,683.7L204.2,680.3L210.2,678.7L216.2,682Z" fill="#ffae22"/>
<path d="M161.9,682.1L155.9,680.4L162,677.8L168,679.4Z" fill="#ffa31c"/>
<path d="M263.9,701.3L258,695.7L264,694.9L269.9,700.4Z" fill="#d9f32e"/>
<path d="M198.1,682.3L192.1,679.4L198.2,677.5L204.2,680.3Z" fill="#ffa520"/>
<path d="M174,681.5L168,679.4L174,677L180,679Z" fill="#ff9f1d"/>
<path d="M186.1,681.5L180,679L186.1,676.9L192.1,679.4Z" fill="#ffa01f"/>
<path d="M108,695.7L102,695.7L108,691.6L113.9,691.5Z" fill="#f2e81a"/>
<path d="M252.1,696.9L246.1,691.8L252.1,690.7L258,695.7Z" fill="#f3eb2c"/>
<path d="M119.9,691.9L113.9,691.5L119.9,687.7L125.9,688.1Z" fill="#fbd61b"/>
<path d="M240.1,693.1L234.2,688.4L240.2,687.2L246.1,691.8Z" fill="#fadb2a"/>
<path d="M90.2,705.1L84.3,705.6L90.2,700.7L96.1,700.2Z" fill="#c0f21c"/>
<path d="M131.8,688.9L125.9,688.1L131.9,684.5L137.9,685.4Z" fill="#ffc51c"/>
<path d="M228.2,690L222.2,685.7L228.2,684.2L234.2,688.4Z" fill="#ffcc28"/>
<path d="M143.9,686.7L137.9,685.4L143.9,682.1L149.9,683.4Z" fill="#ffb51e"/>
<path d="M216.2,687.5L210.2,683.7L216.2,682L222.2,685.7Z" fill="#ffbb26"/>
<path d="M155.9,685.1L149.9,683.4L155.9,680.4L161.9,682.1Z" fill="#ffab1f"/>
<path d="M102,700.3L96.1,700.2L102,695.7L108,695.7Z" fill="#ebf21d"/>
<path d="M204.1,685.7L198.1,682.3L204.2,680.3L210.2,683.7Z" fill="#ffae24"/>
<path d="M167.9,684.2L161.9,682.1L168,679.4L174,681.5Z" fill="#ffa420"/>
<path d="M192.1,684.5L186.1,681.5L192.1,679.4L198.1,682.3Z" fill="#ffa723"/>
<path d="M180,684L174,681.5L180,679L186.1,681.5Z" fill="#ffa421"/>
<path d="M257.9,702.5L252.1,696.9L258,695.7L263.9,701.3Z" fill="#e3f331"/>
<path d="M113.9,696.2L108,695.7L113.9,691.5L119.9,691.9Z" fill="#f6e01e"/>
<path d="M246.1,698.3L240.1,693.1L246.1,691.8L252.1,696.9Z" fill="#f4e72f"/>
<path d="M125.9,692.9L119.9,691.9L125.9,688.1L131.8,688.9Z" fill="#fed01f"/>
<path d="M234.1,694.7L228.2,690L234.2,688.4L240.1,693.1Z" fill="#fcd82d"/>
<path d="M137.8,690.3L131.8,688.9L137.9,685.4L143.9,686.7Z" fill="#ffc020"/>
<path d="M96.1,705.2L90.2,705.1L96.1,700.2L102,700.3Z" fill="#d5f21f"/>
<path d="M222.1,691.8L216.2,687.5L222.2,685.7L228.2,690Z" fill="#ffca2b"/>
<path d="M149.9,688.4L143.9,686.7L149.9,683.4L155.9,685.1Z" fill="#ffb322"/>
<path d="M210.1,689.6L204.1,685.7L210.2,683.7L216.2,687.5Z" fill="#ffbb29"/>
<path d="M161.9,687.3L155.9,685.1L161.9,682.1L167.9,684.2Z" fill="#ffac23"/>
<path d="M198.1,688L192.1,684.5L198.1,682.3L204.1,685.7Z" fill="#ffb028"/>
<path d="M174,686.9L167.9,684.2L174,681.5L180,684Z" fill="#ffa924"/>
<path d="M186,687.1L180,684L186.1,681.5L192.1,684.5Z" fill="#ffab26"/>
<path d="M108,700.7L102,700.3L108,695.7L113.9,696.2Z" fill="#f1eb20"/>
<path d="M251.9,704L246.1,698.3L252.1,696.9L257.9,702.5Z" fill="#eaf335"/>
<path d="M119.9,697.1L113.9,696.2L119.9,691.9L125.9,692.9Z" fill="#fadb22"/>
<path d="M240,700L234.1,694.7L240.1,693.1L246.1,698.3Z" fill="#f5e633"/>
<path d="M131.8,694.2L125.9,692.9L131.8,688.9L137.8,690.3Z" fill="#ffcc23"/>
<path d="M228.1,696.7L222.1,691.8L228.2,690L234.1,694.7Z" fill="#fdd831"/>
<path d="M143.8,692.1L137.8,690.3L143.9,686.7L149.9,688.4Z" fill="#ffbe24"/>
<path d="M216.1,694L210.1,689.6L216.2,687.5L222.1,691.8Z" fill="#ffca2f"/>
<path d="M155.9,690.7L149.9,688.4L155.9,685.1L161.9,687.3Z" fill="#ffb526"/>
<path d="M204.1,692L198.1,688L204.1,685.7L210.1,689.6Z" fill="#ffbd2d"/>
<path d="M102,705.7L96.1,705.2L102,700.3L108,700.7Z" fill="#e4f223"/>
<path d="M167.9,690L161.9,687.3L167.9,684.2L174,686.9Z" fill="#ffb028"/>
<path d="M192,690.7L186,687.1L192.1,684.5L198.1,688Z" fill="#ffb52b"/>
<path d="M180,690L174,686.9L180,684L186,687.1Z" fill="#ffb029"/>
<path d="M113.9,701.7L108,700.7L113.9,696.2L119.9,697.1Z" fill="#f5e525"/>
<path d="M245.9,705.8L240,700L246.1,698.3L251.9,704Z" fill="#eef339"/>
<path d="M125.9,698.5L119.9,697.1L125.9,692.9L131.8,694.2Z" fill="#fcd726"/>
<path d="M234,702L228.1,696.7L234.1,694.7L240,700Z" fill="#f6e537"/>
<path d="M222.1,698.9L216.1,694L222.1,691.8L228.1,696.7Z" fill="#fdd935"/>
<path d="M137.8,696.1L131.8,694.2L137.8,690.3L143.8,692.1Z" fill="#ffcb28"/>
<path d="M210.1,696.5L204.1,692L210.1,689.6L216.1,694Z" fill="#ffcc32"/>
<path d="M149.9,694.4L143.8,692.1L149.9,688.4L155.9,690.7Z" fill="#ffc029"/>
<path d="M198,694.7L192,690.7L198.1,688L204.1,692Z" fill="#ffc130"/>
<path d="M161.9,693.5L155.9,690.7L161.9,687.3L167.9,690Z" fill="#ffba2b"/>
<path d="M186,693.6L180,690L186,687.1L192,690.7Z" fill="#ffba2e"/>
<path d="M173.9,693.2L167.9,690L174,686.9L180,690Z" fill="#ffb82d"/>
<path d="M108,706.7L102,705.7L108,700.7L113.9,701.7Z" fill="#eff128"/>
<path d="M239.9,707.9L234,702L240,700L245.9,705.8Z" fill="#f0f43d"/>
<path d="M119.9,703.2L113.9,701.7L119.9,697.1L125.9,698.5Z" fill="#f7e229"/>
<path d="M228,704.4L222.1,698.9L228.1,696.7L234,702Z" fill="#f7e63b"/>
<path d="M131.8,700.5L125.9,698.5L131.8,694.2L137.8,696.1Z" fill="#fdd62b"/>
<path d="M216,701.5L210.1,696.5L216.1,694L222.1,698.9Z" fill="#fcda39"/>
<path d="M143.8,698.5L137.8,696.1L143.8,692.1L149.9,694.4Z" fill="#ffcd2c"/>
<path d="M204,699.3L198,694.7L204.1,692L210.1,696.5Z" fill="#ffd136"/>
<path d="M155.9,697.3L149.9,694.4L155.9,690.7L161.9,693.5Z" fill="#ffc42e"/>
<path d="M192,697.8L186,693.6L192,690.7L198,694.7Z" fill="#ffc734"/>
<path d="M167.9,696.7L161.9,693.5L167.9,690L173.9,693.2Z" fill="#ffc130"/>
<path d="M179.9,696.9L173.9,693.2L180,690L186,693.6Z" fill="#ffc232"/>
<path d="M113.9,708.2L108,706.7L113.9,701.7L119.9,703.2Z" fill="#f1ee2c"/>
<path d="M233.9,710.3L228,704.4L234,702L239.9,707.9Z" fill="#f0f442"/>
<path d="M125.9,705.2L119.9,703.2L125.9,698.5L131.8,700.5Z" fill="#f8e12e"/>
<path d="M222,707L216,701.5L222.1,698.9L228,704.4Z" fill="#f6e83f"/>
<path d="M137.8,702.9L131.8,700.5L137.8,696.1L143.8,698.5Z" fill="#fdd830"/>
<path d="M210,704.4L204,699.3L210.1,696.5L216,701.5Z" fill="#fbde3d"/>
<path d="M149.9,701.4L143.8,698.5L149.9,694.4L155.9,697.3Z" fill="#ffd032"/>
<path d="M198,702.4L192,697.8L198,694.7L204,699.3Z" fill="#fed53b"/>
<path d="M161.9,700.6L155.9,697.3L161.9,693.5L167.9,696.7Z" fill="#ffcc34"/>
<path d="M185.9,701.1L179.9,696.9L186,693.6L192,697.8Z" fill="#ffcf38"/>
<path d="M173.9,700.5L167.9,696.7L173.9,693.2L179.9,696.9Z" fill="#ffcb36"/>
<path d="M119.9,710.2L113.9,708.2L119.9,703.2L125.9,705.2Z" fill="#f2ec32"/>
<path d="M227.9,713.1L222,707L228,704.4L233.9,710.3Z" fill="#eef446"/>
<path d="M131.9,707.7L125.9,705.2L131.8,700.5L137.8,702.9Z" fill="#f8e234"/>
<path d="M215.9,710L210,704.4L216,701.5L222,707Z" fill="#f5ea44"/>
<path d="M143.9,705.9L137.8,702.9L143.8,698.5L149.9,701.4Z" fill="#fbdb36"/>
<path d="M204,707.6L198,702.4L204,699.3L210,704.4Z" fill="#fae141"/>
<path d="M155.9,704.8L149.9,701.4L155.9,697.3L161.9,700.6Z" fill="#fdd638"/>
<path d="M191.9,705.9L185.9,701.1L192,697.8L198,702.4Z" fill="#fddb3f"/>
<path d="M167.9,704.4L161.9,700.6L167.9,696.7L173.9,700.5Z" fill="#ffd53a"/>
<path d="M179.9,704.8L173.9,700.5L179.9,696.9L185.9,701.1Z" fill="#fed73d"/>
<path d="M125.9,712.8L119.9,710.2L125.9,705.2L131.9,707.7Z" fill="#f2ee38"/>
<path d="M221.9,716.1L215.9,710L222,707L227.9,713.1Z" fill="#ebf44b"/>
<path d="M209.9,713.3L204,707.6L210,704.4L215.9,710Z" fill="#f4ee49"/>
<path d="M137.9,710.7L131.9,707.7L137.8,702.9L143.9,705.9Z" fill="#f6e53a"/>
<path d="M197.9,711.1L191.9,705.9L198,702.4L204,707.6Z" fill="#f8e646"/>
<path d="M149.9,709.3L143.9,705.9L149.9,701.4L155.9,704.8Z" fill="#fae03c"/>
<path d="M185.9,709.6L179.9,704.8L185.9,701.1L191.9,705.9Z" fill="#fae143"/>
<path d="M161.9,708.7L155.9,704.8L161.9,700.6L167.9,704.4Z" fill="#fbde3f"/>
<path d="M173.9,708.8L167.9,704.4L173.9,700.5L179.9,704.8Z" fill="#fbdd41"/>
<path d="M215.9,719.5L209.9,713.3L215.9,710L221.9,716.1Z" fill="#e5f551"/>
<path d="M131.9,715.9L125.9,712.8L131.9,707.7L137.9,710.7Z" fill="#f1f03e"/>
<path d="M203.9,716.9L197.9,711.1L204,707.6L209.9,713.3Z" fill="#f2f24e"/>
<path d="M143.9,714.2L137.9,710.7L143.9,705.9L149.9,709.3Z" fill="#f5ea41"/>
<path d="M191.9,715L185.9,709.6L191.9,705.9L197.9,711.1Z" fill="#f5ec4b"/>
<path d="M155.9,713.4L149.9,709.3L155.9,704.8L161.9,708.7Z" fill="#f7e743"/>
<path d="M179.9,713.7L173.9,708.8L179.9,704.8L185.9,709.6Z" fill="#f7e748"/>
<path d="M167.9,713.2L161.9,708.7L167.9,704.4L173.9,708.8Z" fill="#f8e646"/>
<path d="M209.8,723.3L203.9,716.9L209.9,713.3L215.9,719.5Z" fill="#dff556"/>
<path d="M137.9,719.5L131.9,715.9L137.9,710.7L143.9,714.2Z" fill="#f0f445"/>
<path d="M197.9,720.9L191.9,715L197.9,711.1L203.9,716.9Z" fill="#ecf553"/>
<path d="M149.9,718.3L143.9,714.2L149.9,709.3L155.9,713.4Z" fill="#f3f048"/>
<path d="M185.9,719.2L179.9,713.7L185.9,709.6L191.9,715Z" fill="#f3f350"/>
<path d="M161.9,717.9L155.9,713.4L161.9,708.7L167.9,713.2Z" fill="#f4ef4a"/>
<path d="M173.9,718.2L167.9,713.2L173.9,708.8L179.9,713.7Z" fill="#f4ef4d"/>
<path d="M203.8,727.4L197.9,720.9L203.9,716.9L209.8,723.3Z" fill="#d6f55c"/>
<path d="M143.9,723.7L137.9,719.5L143.9,714.2L149.9,718.3Z" fill="#e6f54d"/>
<path d="M191.9,725.2L185.9,719.2L191.9,715L197.9,720.9Z" fill="#e2f558"/>
<path d="M155.9,723L149.9,718.3L155.9,713.4L161.9,717.9Z" fill="#ecf54f"/>
<path d="M179.9,723.8L173.9,718.2L179.9,713.7L185.9,719.2Z" fill="#e9f555"/>
<path d="M167.9,723L161.9,717.9L167.9,713.2L173.9,718.2Z" fill="#edf552"/>
<path d="M197.8,731.8L191.9,725.2L197.9,720.9L203.8,727.4Z" fill="#cdf661"/>
<path d="M185.9,729.9L179.9,723.8L185.9,719.2L191.9,725.2Z" fill="#d6f65e"/>
<path d="M149.9,728.4L143.9,723.7L149.9,718.3L155.9,723Z" fill="#daf555"/>
<path d="M173.9,728.7L167.9,723L173.9,718.2L179.9,723.8Z" fill="#dcf55b"/>
<path d="M161.9,728.2L155.9,723L161.9,717.9L167.9,723Z" fill="#ddf558"/>
<path d="M191.8,736.6L185.9,729.9L191.9,725.2L197.8,731.8Z" fill="#c3f668"/>
<path d="M179.9,734.9L173.9,728.7L179.9,723.8L185.9,729.9Z" fill="#caf664"/>
<path d="M155.9,733.7L149.9,728.4L155.9,723L161.9,728.2Z" fill="#cdf55d"/>
<path d="M167.9,733.9L161.9,728.2L167.9,723L173.9,728.7Z" fill="#cdf661"/>
<path d="M185.8,741.7L179.9,734.9L185.9,729.9L191.8,736.6Z" fill="#b9f66e"/>
<path d="M173.9,740.3L167.9,733.9L173.9,728.7L179.9,734.9Z" fill="#bdf66a"/>
<path d="M161.9,739.6L155.9,733.7L161.9,728.2L167.9,733.9Z" fill="#bff667"/>
<path d="M179.9,747.2L173.9,740.3L179.9,734.9L185.8,741.7Z" fill="#aef773"/>
<path d="M167.9,746L161.9,739.6L167.9,733.9L173.9,740.3Z" fill="#b1f771"/>
<path d="M173.9,753.1L167.9,746L173.9,740.3L179.9,747.2Z" fill="#a0f773"/>
</g>
<circle cx="55.4" cy="715.2" r="2.7" fill="#c00000" stroke="#700" stroke-width="0.6"/>
<circle cx="294" cy="698.1" r="2.7" fill="#c00000" stroke="#700" stroke-width="0.6"/>
<circle cx="174.2" cy="669.8" r="2.7" fill="#c00000" stroke="#700" stroke-width="0.6"/>
<circle cx="174" cy="754.8" r="2.7" fill="#c00000" stroke="#700" stroke-width="0.6"/>
<text font-size="10.0" text-anchor="end" fill="#383838" transform="translate(169.5,881.6) scale(0.88,1)">4</text>
<text font-size="10.0" text-anchor="end" fill="#383838" transform="translate(140.7,866.7) scale(0.88,1)">6</text>
<text font-size="10.0" text-anchor="end" fill="#383838" transform="translate(111.8,851.9) scale(0.88,1)">8</text>
<text font-size="10.0" text-anchor="end" fill="#383838" transform="translate(83,837.1) scale(0.88,1)">10</text>
<text font-size="10.0" text-anchor="end" fill="#383838" transform="translate(54.1,822.3) scale(0.88,1)">12</text>
<text font-size="10.0" text-anchor="start" fill="#383838" transform="translate(180,881.3) scale(0.88,1)">0.1</text>
<text font-size="10.0" text-anchor="start" fill="#383838" transform="translate(202.7,869.5) scale(0.88,1)">0.2</text>
<text font-size="10.0" text-anchor="start" fill="#383838" transform="translate(225.4,857.7) scale(0.88,1)">0.3</text>
<text font-size="10.0" text-anchor="start" fill="#383838" transform="translate(248.1,845.9) scale(0.88,1)">0.4</text>
<text font-size="10.0" text-anchor="start" fill="#383838" transform="translate(270.7,834.1) scale(0.88,1)">0.5</text>
<text font-size="10.0" text-anchor="start" fill="#383838" transform="translate(293.4,822.3) scale(0.88,1)">0.6</text>
<text font-size="10.0" text-anchor="end" fill="#383838" transform="translate(51.7,769) scale(0.88,1)">0</text>
<text font-size="10.0" text-anchor="end" fill="#383838" transform="translate(50.9,750.6) scale(0.88,1)">100</text>
<text font-size="10.0" text-anchor="end" fill="#383838" transform="translate(50.1,732.3) scale(0.88,1)">200</text>
<text font-size="10.0" text-anchor="end" fill="#383838" transform="translate(49.4,713.9) scale(0.88,1)">300</text>
<text font-size="10.0" text-anchor="end" fill="#383838" transform="translate(48.6,695.6) scale(0.88,1)">400</text>
<text font-size="10.0" text-anchor="end" fill="#383838" transform="translate(47.8,677.2) scale(0.88,1)">500</text>
<text font-size="10.0" text-anchor="end" fill="#383838" transform="translate(47.1,658.9) scale(0.88,1)">600</text>
<text font-size="10.0" text-anchor="end" fill="#383838" transform="translate(46.3,640.5) scale(0.88,1)">700</text>
<text font-size="10.0" text-anchor="middle" fill="#383838" transform="translate(73.1,868.4) scale(0.93,1)">C (h)</text>
<text font-size="10.0" text-anchor="middle" fill="#383838" transform="translate(276.5,868.4) scale(0.93,1)">B (g/ml)</text>
<text font-size="10.0" text-anchor="middle" fill="#383838" transform="translate(19.3,730.2) rotate(-90) scale(0.95,1)">R1 (nm)</text>
<text x="53.8" y="627.6" font-family="Liberation Serif" font-weight="bold" font-size="19.5" fill="#000">(c)</text>
<polygon points="403.4,191.9 520.7,127.7 521.2,2.5 388.6,61.3" fill="#fff"/>
<polygon points="520.7,127.7 648.9,185.1 663.7,54.5 521.2,2.5" fill="#fff"/>
<path d="M400,162.4L520.8,99.4L652.2,155.6M397.7,142.2L520.9,80.1L654.5,135.4M395.4,122L521,60.7L656.8,115.2M393.2,101.8L521,41.3L659.1,94.9M390.9,81.6L521.1,21.9L661.4,74.7M388.6,61.3L521.2,2.5L663.7,54.5M424.2,149.8L415.1,49.6M448.4,137.2L441.6,37.8M472.5,124.6L468.1,26M496.7,112L494.7,14.3M619.4,141.6L628.1,41.5M586.5,127.5L592.5,28.5M553.7,113.5L556.8,15.5M403.4,191.9L388.6,61.3M520.7,127.7L521.2,2.5M648.9,185.1L663.7,54.5" stroke="#333" stroke-width="1" fill="none"/>
<polygon points="533.8,266.3 403.4,191.9 520.7,127.7 648.9,185.1" fill="#616161" stroke="#111" stroke-width="1.1" stroke-linejoin="round"/>
<polyline points="422.5,181.4 436.5,190.9 448.4,199.5 458.8,207.5 468.3,215.4 476.2,222.8 482.7,229.6 488.2,236.3 492.4,242.6" fill="none" stroke="#20aae9" stroke-width="1.8"/>
<polyline points="443.2,170.1 474.9,185.5 501.2,197.5 522.5,206.5 541.2,213.4 549.8,216.1 557.1,218.1 564.8,219.9 571.4,221.1 577.8,221.8 584.5,222.2 590.8,222.2 597,221.7" fill="none" stroke="#13d990" stroke-width="1.8"/>
<polyline points="460.7,160.5 474.9,165.7 487.9,170.2 500.5,174.1 512.6,177.5 524.2,180.4 535.4,182.7 545.7,184.5 556.1,185.8 566.3,186.6 575.9,186.9 585.2,186.7 594.9,186.1 605,184.9 614.3,183.3 624,181.1 634,178.5" fill="none" stroke="#22db2e" stroke-width="1.8"/>
<polyline points="482.9,148.4 498.1,152 512.1,154.9 526.7,157.3 540.1,159 553.2,160 566.3,160.5 579.6,160.4 592,159.6" fill="none" stroke="#b4e211" stroke-width="1.8"/>
<polyline points="501.1,138.4 515.9,140.7 530.3,142.5 544.2,143.6 557.6,144.2" fill="none" stroke="#e5c418" stroke-width="1.8"/>
<polyline points="403.4,191.9 533.8,266.3 648.9,185.1" fill="none" stroke="#111" stroke-width="1.1"/>
<circle cx="533.8" cy="266.3" r="1.45" fill="#111"/>
<circle cx="501.2" cy="247.7" r="1.45" fill="#111"/>
<circle cx="468.6" cy="229.1" r="1.45" fill="#111"/>
<circle cx="436" cy="210.5" r="1.45" fill="#111"/>
<circle cx="403.4" cy="191.9" r="1.45" fill="#111"/>
<circle cx="533.8" cy="266.3" r="1.45" fill="#111"/>
<circle cx="556.8" cy="250" r="1.45" fill="#111"/>
<circle cx="579.8" cy="233.8" r="1.45" fill="#111"/>
<circle cx="602.8" cy="217.6" r="1.45" fill="#111"/>
<circle cx="625.9" cy="201.3" r="1.45" fill="#111"/>
<circle cx="648.9" cy="185.1" r="1.45" fill="#111"/>
<circle cx="400" cy="162.4" r="1.45" fill="#111"/>
<circle cx="397.7" cy="142.2" r="1.45" fill="#111"/>
<circle cx="395.4" cy="122" r="1.45" fill="#111"/>
<circle cx="393.2" cy="101.8" r="1.45" fill="#111"/>
<circle cx="390.9" cy="81.6" r="1.45" fill="#111"/>
<circle cx="388.6" cy="61.3" r="1.45" fill="#111"/>
<g stroke="#141c0a" stroke-opacity=".88" stroke-width=".72" stroke-linejoin="round">
<path d="M521.6,34.2L515.2,30.3L521.1,25L527.5,28.9Z" fill="#ffc273"/>
<path d="M515.7,39.5L509.3,35.7L515.2,30.3L521.6,34.2Z" fill="#ffd173"/>
<path d="M527.9,38.1L521.6,34.2L527.5,28.9L533.8,32.8Z" fill="#ffcb73"/>
<path d="M509.8,44.8L503.5,41L509.3,35.7L515.7,39.5Z" fill="#ffe073"/>
<path d="M522,43.3L515.7,39.5L521.6,34.2L527.9,38.1Z" fill="#ffd873"/>
<path d="M534.2,41.9L527.9,38.1L533.8,32.8L540.1,36.8Z" fill="#ffd373"/>
<path d="M504,50.1L497.7,46.4L503.5,41L509.8,44.8Z" fill="#fbe971"/>
<path d="M516.2,48.6L509.8,44.8L515.7,39.5L522,43.3Z" fill="#fde471"/>
<path d="M528.3,47.1L522,43.3L527.9,38.1L534.2,41.9Z" fill="#ffe070"/>
<path d="M540.5,45.8L534.2,41.9L540.1,36.8L546.4,40.7Z" fill="#ffdb70"/>
<path d="M498.2,55.4L491.9,51.8L497.7,46.4L504,50.1Z" fill="#f5f36e"/>
<path d="M510.4,53.8L504,50.1L509.8,44.8L516.2,48.6Z" fill="#f8ed6e"/>
<path d="M522.5,52.3L516.2,48.6L522,43.3L528.3,47.1Z" fill="#fae96e"/>
<path d="M534.7,51L528.3,47.1L534.2,41.9L540.5,45.8Z" fill="#fde56e"/>
<path d="M546.8,49.7L540.5,45.8L546.4,40.7L552.7,44.7Z" fill="#fee16e"/>
<path d="M492.5,60.8L486.1,57.2L491.9,51.8L498.2,55.4Z" fill="#e7f66b"/>
<path d="M504.6,59.1L498.2,55.4L504,50.1L510.4,53.8Z" fill="#f2f66b"/>
<path d="M516.7,57.5L510.4,53.8L516.2,48.6L522.5,52.3Z" fill="#f6f26b"/>
<path d="M528.8,56.1L522.5,52.3L528.3,47.1L534.7,51Z" fill="#f8ee6b"/>
<path d="M540.9,54.8L534.7,51L540.5,45.8L546.8,49.7Z" fill="#faea6b"/>
<path d="M486.8,66.1L480.4,62.6L486.1,57.2L492.5,60.8Z" fill="#d3f669"/>
<path d="M553.1,53.6L546.8,49.7L552.7,44.7L559,48.6Z" fill="#fbe76b"/>
<path d="M498.8,64.3L492.5,60.8L498.2,55.4L504.6,59.1Z" fill="#dff669"/>
<path d="M510.9,62.7L504.6,59.1L510.4,53.8L516.7,57.5Z" fill="#eaf669"/>
<path d="M523,61.2L516.7,57.5L522.5,52.3L528.8,56.1Z" fill="#f3f669"/>
<path d="M481.1,71.5L474.7,68L480.4,62.6L486.8,66.1Z" fill="#bef666"/>
<path d="M535.1,59.9L528.8,56.1L534.7,51L540.9,54.8Z" fill="#f5f269"/>
<path d="M547.2,58.6L540.9,54.8L546.8,49.7L553.1,53.6Z" fill="#f7ef69"/>
<path d="M559.3,57.5L553.1,53.6L559,48.6L565.2,52.6Z" fill="#f8ec68"/>
<path d="M493.1,69.6L486.8,66.1L492.5,60.8L498.8,64.3Z" fill="#ccf666"/>
<path d="M505.1,67.9L498.8,64.3L504.6,59.1L510.9,62.7Z" fill="#d7f667"/>
<path d="M475.4,76.8L469.1,73.4L474.7,68L481.1,71.5Z" fill="#aaf664"/>
<path d="M517.2,66.4L510.9,62.7L516.7,57.5L523,61.2Z" fill="#e1f666"/>
<path d="M529.3,64.9L523,61.2L528.8,56.1L535.1,59.9Z" fill="#e9f666"/>
<path d="M541.4,63.6L535.1,59.9L540.9,54.8L547.2,58.6Z" fill="#f1f666"/>
<path d="M487.4,74.9L481.1,71.5L486.8,66.1L493.1,69.6Z" fill="#b7f664"/>
<path d="M553.5,62.5L547.2,58.6L553.1,53.6L559.3,57.5Z" fill="#f4f466"/>
<path d="M565.6,61.4L559.3,57.5L565.2,52.6L571.4,56.6Z" fill="#f5f266"/>
<path d="M499.4,73.2L493.1,69.6L498.8,64.3L505.1,67.9Z" fill="#c3f664"/>
<path d="M469.7,82.2L463.4,78.9L469.1,73.4L475.4,76.8Z" fill="#95f662"/>
<path d="M511.5,71.5L505.1,67.9L510.9,62.7L517.2,66.4Z" fill="#cef664"/>
<path d="M523.5,70L517.2,66.4L523,61.2L529.3,64.9Z" fill="#d8f664"/>
<path d="M481.7,80.2L475.4,76.8L481.1,71.5L487.4,74.9Z" fill="#a4f662"/>
<path d="M535.6,68.7L529.3,64.9L535.1,59.9L541.4,63.6Z" fill="#e0f664"/>
<path d="M547.7,67.4L541.4,63.6L547.2,58.6L553.5,62.5Z" fill="#e7f664"/>
<path d="M571.8,65.3L565.6,61.4L571.4,56.6L577.7,60.5Z" fill="#eff663"/>
<path d="M559.7,66.3L553.5,62.5L559.3,57.5L565.6,61.4Z" fill="#ebf664"/>
<path d="M493.7,78.4L487.4,74.9L493.1,69.6L499.4,73.2Z" fill="#b0f662"/>
<path d="M464.1,87.6L457.8,84.3L463.4,78.9L469.7,82.2Z" fill="#82f664"/>
<path d="M505.7,76.7L499.4,73.2L505.1,67.9L511.5,71.5Z" fill="#bcf662"/>
<path d="M517.8,75.1L511.5,71.5L517.2,66.4L523.5,70Z" fill="#c6f662"/>
<path d="M476,85.5L469.7,82.2L475.4,76.8L481.7,80.2Z" fill="#90f65f"/>
<path d="M529.8,73.7L523.5,70L529.3,64.9L535.6,68.7Z" fill="#cff662"/>
<path d="M541.9,72.4L535.6,68.7L541.4,63.6L547.7,67.4Z" fill="#d6f662"/>
<path d="M578,69.3L571.8,65.3L577.7,60.5L583.9,64.5Z" fill="#e2f661"/>
<path d="M553.9,71.2L547.7,67.4L553.5,62.5L559.7,66.3Z" fill="#dcf661"/>
<path d="M488,83.6L481.7,80.2L487.4,74.9L493.7,78.4Z" fill="#9df660"/>
<path d="M566,70.2L559.7,66.3L565.6,61.4L571.8,65.3Z" fill="#e0f661"/>
<path d="M458.5,93L452.2,89.8L457.8,84.3L464.1,87.6Z" fill="#70f56c"/>
<path d="M500,81.9L493.7,78.4L499.4,73.2L505.7,76.7Z" fill="#a9f660"/>
<path d="M470.4,90.9L464.1,87.6L469.7,82.2L476,85.5Z" fill="#7ef564"/>
<path d="M512,80.2L505.7,76.7L511.5,71.5L517.8,75.1Z" fill="#b4f660"/>
<path d="M524,78.7L517.8,75.1L523.5,70L529.8,73.7Z" fill="#bdf660"/>
<path d="M482.3,88.9L476,85.5L481.7,80.2L488,83.6Z" fill="#8af55d"/>
<path d="M453,98.4L446.7,95.2L452.2,89.8L458.5,93Z" fill="#60f576"/>
<path d="M536.1,77.3L529.8,73.7L535.6,68.7L541.9,72.4Z" fill="#c5f65f"/>
<path d="M584.2,73.2L578,69.3L583.9,64.5L590.1,68.5Z" fill="#d6f65e"/>
<path d="M548.1,76.1L541.9,72.4L547.7,67.4L553.9,71.2Z" fill="#ccf65f"/>
<path d="M572.2,74L566,70.2L571.8,65.3L578,69.3Z" fill="#d4f65f"/>
<path d="M560.2,75L553.9,71.2L559.7,66.3L566,70.2Z" fill="#d1f65f"/>
<path d="M494.3,87.1L488,83.6L493.7,78.4L500,81.9Z" fill="#97f55d"/>
<path d="M464.8,96.2L458.5,93L464.1,87.6L470.4,90.9Z" fill="#6bf56c"/>
<path d="M506.3,85.3L500,81.9L505.7,76.7L512,80.2Z" fill="#a2f55d"/>
<path d="M447.4,103.8L441.2,100.7L446.7,95.2L453,98.4Z" fill="#5af68a"/>
<path d="M518.3,83.8L512,80.2L517.8,75.1L524,78.7Z" fill="#acf55d"/>
<path d="M476.7,94.2L470.4,90.9L476,85.5L482.3,88.9Z" fill="#79f564"/>
<path d="M530.3,82.3L524,78.7L529.8,73.7L536.1,77.3Z" fill="#b4f55d"/>
<path d="M590.4,77.1L584.2,73.2L590.1,68.5L596.2,72.5Z" fill="#c9f55c"/>
<path d="M542.4,81L536.1,77.3L541.9,72.4L548.1,76.1Z" fill="#bcf55d"/>
<path d="M578.4,77.9L572.2,74L578,69.3L584.2,73.2Z" fill="#c8f55c"/>
<path d="M554.4,79.8L548.1,76.1L553.9,71.2L560.2,75Z" fill="#c1f55d"/>
<path d="M566.4,78.8L560.2,75L566,70.2L572.2,74Z" fill="#c6f55d"/>
<path d="M488.6,92.2L482.3,88.9L488,83.6L494.3,87.1Z" fill="#84f55d"/>
<path d="M459.2,101.5L453,98.4L458.5,93L464.8,96.2Z" fill="#5ef577"/>
<path d="M500.6,90.5L494.3,87.1L500,81.9L506.3,85.3Z" fill="#90f55b"/>
<path d="M441.9,109.2L435.7,106.2L441.2,100.7L447.4,103.8Z" fill="#56f6a3"/>
<path d="M471.1,99.4L464.8,96.2L470.4,90.9L476.7,94.2Z" fill="#67f56b"/>
<path d="M512.6,88.8L506.3,85.3L512,80.2L518.3,83.8Z" fill="#9bf55b"/>
<path d="M524.6,87.3L518.3,83.8L524,78.7L530.3,82.3Z" fill="#a4f55b"/>
<path d="M596.6,81.1L590.4,77.1L596.2,72.5L602.4,76.5Z" fill="#bcf55a"/>
<path d="M483,97.4L476.7,94.2L482.3,88.9L488.6,92.2Z" fill="#74f564"/>
<path d="M536.6,85.9L530.3,82.3L536.1,77.3L542.4,81Z" fill="#abf55b"/>
<path d="M453.7,106.9L447.4,103.8L453,98.4L459.2,101.5Z" fill="#58f68a"/>
<path d="M584.6,81.8L578.4,77.9L584.2,73.2L590.4,77.1Z" fill="#bcf55a"/>
<path d="M548.6,84.7L542.4,81L548.1,76.1L554.4,79.8Z" fill="#b2f55b"/>
<path d="M572.6,82.6L566.4,78.8L572.2,74L578.4,77.9Z" fill="#baf55a"/>
<path d="M560.6,83.6L554.4,79.8L560.2,75L566.4,78.8Z" fill="#b7f55b"/>
<path d="M494.9,95.6L488.6,92.2L494.3,87.1L500.6,90.5Z" fill="#7ff55e"/>
<path d="M436.4,114.7L430.2,111.7L435.7,106.2L441.9,109.2Z" fill="#54f6c1"/>
<path d="M465.5,104.7L459.2,101.5L464.8,96.2L471.1,99.4Z" fill="#5bf678"/>
<path d="M506.9,93.9L500.6,90.5L506.3,85.3L512.6,88.8Z" fill="#89f559"/>
<path d="M518.9,92.3L512.6,88.8L518.3,83.8L524.6,87.3Z" fill="#94f559"/>
<path d="M448.2,112.3L441.9,109.2L447.4,103.8L453.7,106.9Z" fill="#55f6a3"/>
<path d="M477.4,102.7L471.1,99.4L476.7,94.2L483,97.4Z" fill="#62f56b"/>
<path d="M602.7,85L596.6,81.1L602.4,76.5L608.5,80.5Z" fill="#aff557"/>
<path d="M530.9,90.9L524.6,87.3L530.3,82.3L536.6,85.9Z" fill="#9cf559"/>
<path d="M590.8,85.6L584.6,81.8L590.4,77.1L596.6,81.1Z" fill="#b0f558"/>
<path d="M542.9,89.5L536.6,85.9L542.4,81L548.6,84.7Z" fill="#a3f559"/>
<path d="M431,120.1L424.8,117.2L430.2,111.7L436.4,114.7Z" fill="#52f3e3"/>
<path d="M578.8,86.4L572.6,82.6L578.4,77.9L584.6,81.8Z" fill="#aff558"/>
<path d="M554.9,88.4L548.6,84.7L554.4,79.8L560.6,83.6Z" fill="#a8f559"/>
<path d="M566.9,87.3L560.6,83.6L566.4,78.8L572.6,82.6Z" fill="#acf559"/>
<path d="M489.3,100.7L483,97.4L488.6,92.2L494.9,95.6Z" fill="#6ff564"/>
<path d="M460,110L453.7,106.9L459.2,101.5L465.5,104.7Z" fill="#56f68b"/>
<path d="M501.2,99L494.9,95.6L500.6,90.5L506.9,93.9Z" fill="#79f55e"/>
<path d="M442.7,117.6L436.4,114.7L441.9,109.2L448.2,112.3Z" fill="#53f6c1"/>
<path d="M471.8,107.9L465.5,104.7L471.1,99.4L477.4,102.7Z" fill="#59f67a"/>
<path d="M513.2,97.3L506.9,93.9L512.6,88.8L518.9,92.3Z" fill="#83f559"/>
<path d="M608.9,88.9L602.7,85L608.5,80.5L614.7,84.5Z" fill="#a2f555"/>
<path d="M425.6,125.6L419.4,122.7L424.8,117.2L431,120.1Z" fill="#50efff"/>
<path d="M525.1,95.8L518.9,92.3L524.6,87.3L530.9,90.9Z" fill="#8cf557"/>
<path d="M597,89.5L590.8,85.6L596.6,81.1L602.7,85Z" fill="#a3f556"/>
<path d="M537.1,94.4L530.9,90.9L536.6,85.9L542.9,89.5Z" fill="#94f557"/>
<path d="M483.7,105.9L477.4,102.7L483,97.4L489.3,100.7Z" fill="#5ef56b"/>
<path d="M585,90.2L578.8,86.4L584.6,81.8L590.8,85.6Z" fill="#a4f556"/>
<path d="M454.4,115.3L448.2,112.3L453.7,106.9L460,110Z" fill="#53f6a4"/>
<path d="M549.1,93.2L542.9,89.5L548.6,84.7L554.9,88.4Z" fill="#9af557"/>
<path d="M573.1,91.1L566.9,87.3L572.6,82.6L578.8,86.4Z" fill="#a2f556"/>
<path d="M561.1,92L554.9,88.4L560.6,83.6L566.9,87.3Z" fill="#9ff557"/>
<path d="M495.6,104L489.3,100.7L494.9,95.6L501.2,99Z" fill="#6af565"/>
<path d="M437.2,123L431,120.1L436.4,114.7L442.7,117.6Z" fill="#50f4e1"/>
<path d="M466.2,113.1L460,110L465.5,104.7L471.8,107.9Z" fill="#54f68b"/>
<path d="M507.5,102.3L501.2,99L506.9,93.9L513.2,97.3Z" fill="#74f55f"/>
<path d="M420.2,131L414,128.2L419.4,122.7L425.6,125.6Z" fill="#4ee0ff"/>
<path d="M615,92.9L608.9,88.9L614.7,84.5L620.8,88.5Z" fill="#95f553"/>
<path d="M519.4,100.7L513.2,97.3L518.9,92.3L525.1,95.8Z" fill="#7df559"/>
<path d="M478.1,111.1L471.8,107.9L477.4,102.7L483.7,105.9Z" fill="#57f67a"/>
<path d="M448.9,120.6L442.7,117.6L448.2,112.3L454.4,115.3Z" fill="#51f6c1"/>
<path d="M603.1,93.4L597,89.5L602.7,85L608.9,88.9Z" fill="#97f554"/>
<path d="M531.4,99.3L525.1,95.8L530.9,90.9L537.1,94.4Z" fill="#84f555"/>
<path d="M591.2,94L585,90.2L590.8,85.6L597,89.5Z" fill="#98f554"/>
<path d="M543.4,98L537.1,94.4L542.9,89.5L549.1,93.2Z" fill="#8cf555"/>
<path d="M579.3,94.8L573.1,91.1L578.8,86.4L585,90.2Z" fill="#97f554"/>
<path d="M555.4,96.8L549.1,93.2L554.9,88.4L561.1,92Z" fill="#91f555"/>
<path d="M567.3,95.7L561.1,92L566.9,87.3L573.1,91.1Z" fill="#95f555"/>
<path d="M431.8,128.4L425.6,125.6L431,120.1L437.2,123Z" fill="#4ff0ff"/>
<path d="M489.9,109.1L483.7,105.9L489.3,100.7L495.6,104Z" fill="#5af56c"/>
<path d="M460.7,118.4L454.4,115.3L460,110L466.2,113.1Z" fill="#51f6a4"/>
<path d="M414.8,136.5L408.7,133.8L414,128.2L420.2,131Z" fill="#4cd0ff"/>
<path d="M501.8,107.3L495.6,104L501.2,99L507.5,102.3Z" fill="#65f565"/>
<path d="M621.1,96.9L615,92.9L620.8,88.5L626.9,92.5Z" fill="#88f551"/>
<path d="M443.4,125.9L437.2,123L442.7,117.6L448.9,120.6Z" fill="#4ff4df"/>
<path d="M513.8,105.7L507.5,102.3L513.2,97.3L519.4,100.7Z" fill="#6ef55f"/>
<path d="M472.5,116.2L466.2,113.1L471.8,107.9L478.1,111.1Z" fill="#52f68c"/>
<path d="M609.3,97.3L603.1,93.4L608.9,88.9L615,92.9Z" fill="#8bf551"/>
<path d="M525.7,104.2L519.4,100.7L525.1,95.8L531.4,99.3Z" fill="#76f55a"/>
<path d="M426.4,133.8L420.2,131L425.6,125.6L431.8,128.4Z" fill="#4de1ff"/>
<path d="M597.4,97.9L591.2,94L597,89.5L603.1,93.4Z" fill="#8df552"/>
<path d="M537.7,102.8L531.4,99.3L537.1,94.4L543.4,98Z" fill="#7ef556"/>
<path d="M484.3,114.2L478.1,111.1L483.7,105.9L489.9,109.1Z" fill="#55f57c"/>
<path d="M585.5,98.6L579.3,94.8L585,90.2L591.2,94Z" fill="#8cf552"/>
<path d="M409.5,142L403.3,139.3L408.7,133.8L414.8,136.5Z" fill="#4ac0ff"/>
<path d="M549.6,101.5L543.4,98L549.1,93.2L555.4,96.8Z" fill="#83f553"/>
<path d="M573.5,99.4L567.3,95.7L573.1,91.1L579.3,94.8Z" fill="#8bf553"/>
<path d="M455.2,123.6L448.9,120.6L454.4,115.3L460.7,118.4Z" fill="#4ff6c0"/>
<path d="M561.6,100.4L555.4,96.8L561.1,92L567.3,95.7Z" fill="#87f553"/>
<path d="M496.2,112.4L489.9,109.1L495.6,104L501.8,107.3Z" fill="#58f56d"/>
<path d="M438,131.3L431.8,128.4L437.2,123L443.4,125.9Z" fill="#4df1ff"/>
<path d="M627.2,100.8L621.1,96.9L626.9,92.5L632.9,96.6Z" fill="#7bf552"/>
<path d="M466.9,121.4L460.7,118.4L466.2,113.1L472.5,116.2Z" fill="#4ff6a5"/>
<path d="M508.1,110.6L501.8,107.3L507.5,102.3L513.8,105.7Z" fill="#5ff565"/>
<path d="M421,139.2L414.8,136.5L420.2,131L426.4,133.8Z" fill="#4bd2ff"/>
<path d="M615.4,101.2L609.3,97.3L615,92.9L621.1,96.9Z" fill="#7ef550"/>
<path d="M520,109L513.8,105.7L519.4,100.7L525.7,104.2Z" fill="#69f560"/>
<path d="M404.2,147.5L398,144.9L403.3,139.3L409.5,142Z" fill="#4daeff"/>
<path d="M603.5,101.7L597.4,97.9L603.1,93.4L609.3,97.3Z" fill="#81f550"/>
<path d="M478.7,119.3L472.5,116.2L478.1,111.1L484.3,114.2Z" fill="#4ff68c"/>
<path d="M449.7,128.9L443.4,125.9L448.9,120.6L455.2,123.6Z" fill="#4df4de"/>
<path d="M532,107.6L525.7,104.2L531.4,99.3L537.7,102.8Z" fill="#70f55c"/>
<path d="M591.6,102.3L585.5,98.6L591.2,94L597.4,97.9Z" fill="#82f550"/>
<path d="M543.9,106.3L537.7,102.8L543.4,98L549.6,101.5Z" fill="#76f557"/>
<path d="M579.7,103.1L573.5,99.4L579.3,94.8L585.5,98.6Z" fill="#81f551"/>
<path d="M555.9,105.1L549.6,101.5L555.4,96.8L561.6,100.4Z" fill="#7bf554"/>
<path d="M567.8,104L561.6,100.4L567.3,95.7L573.5,99.4Z" fill="#7ff552"/>
<path d="M490.6,117.4L484.3,114.2L489.9,109.1L496.2,112.4Z" fill="#52f57d"/>
<path d="M432.6,136.6L426.4,133.8L431.8,128.4L438,131.3Z" fill="#4be2ff"/>
<path d="M461.4,126.6L455.2,123.6L460.7,118.4L466.9,121.4Z" fill="#4df6c0"/>
<path d="M633.3,104.8L627.2,100.8L632.9,96.6L639,100.6Z" fill="#6ff555"/>
<path d="M415.6,144.6L409.5,142L414.8,136.5L421,139.2Z" fill="#49c2ff"/>
<path d="M502.5,115.6L496.2,112.4L501.8,107.3L508.1,110.6Z" fill="#55f56f"/>
<path d="M621.5,105.1L615.4,101.2L621.1,96.9L627.2,100.8Z" fill="#73f554"/>
<path d="M514.4,113.9L508.1,110.6L513.8,105.7L520,109Z" fill="#5af566"/>
<path d="M444.2,134.1L438,131.3L443.4,125.9L449.7,128.9Z" fill="#4bf1fd"/>
<path d="M473.2,124.4L466.9,121.4L472.5,116.2L478.7,119.3Z" fill="#4ef6a5"/>
<path d="M609.7,105.5L603.5,101.7L609.3,97.3L615.4,101.2Z" fill="#76f553"/>
<path d="M526.3,112.4L520,109L525.7,104.2L532,107.6Z" fill="#63f561"/>
<path d="M597.8,106.1L591.6,102.3L597.4,97.9L603.5,101.7Z" fill="#78f552"/>
<path d="M427.1,142L421,139.2L426.4,133.8L432.6,136.6Z" fill="#49d4ff"/>
<path d="M538.2,111L532,107.6L537.7,102.8L543.9,106.3Z" fill="#6af55d"/>
<path d="M585.9,106.8L579.7,103.1L585.5,98.6L591.6,102.3Z" fill="#77f553"/>
<path d="M485,122.4L478.7,119.3L484.3,114.2L490.6,117.4Z" fill="#4ef68d"/>
<path d="M550.2,109.8L543.9,106.3L549.6,101.5L555.9,105.1Z" fill="#6ff559"/>
<path d="M574,107.7L567.8,104L573.5,99.4L579.7,103.1Z" fill="#76f554"/>
<path d="M562.1,108.6L555.9,105.1L561.6,100.4L567.8,104Z" fill="#74f556"/>
<path d="M410.3,150.1L404.2,147.5L409.5,142L415.6,144.6Z" fill="#4bb2ff"/>
<path d="M455.9,131.8L449.7,128.9L455.2,123.6L461.4,126.6Z" fill="#4cf4dd"/>
<path d="M639.4,108.8L633.3,104.8L639,100.6L645,104.6Z" fill="#63f45a"/>
<path d="M496.8,120.6L490.6,117.4L496.2,112.4L502.5,115.6Z" fill="#51f57e"/>
<path d="M438.7,139.4L432.6,136.6L438,131.3L444.2,134.1Z" fill="#4ae4ff"/>
<path d="M627.6,109L621.5,105.1L627.2,100.8L633.3,104.8Z" fill="#68f457"/>
<path d="M467.6,129.6L461.4,126.6L466.9,121.4L473.2,124.4Z" fill="#4cf6bf"/>
<path d="M508.7,118.8L502.5,115.6L508.1,110.6L514.4,113.9Z" fill="#53f571"/>
<path d="M615.8,109.4L609.7,105.5L615.4,101.2L621.5,105.1Z" fill="#6bf456"/>
<path d="M421.8,147.3L415.6,144.6L421,139.2L427.1,142Z" fill="#47c5ff"/>
<path d="M520.6,117.2L514.4,113.9L520,109L526.3,112.4Z" fill="#55f566"/>
<path d="M604,109.9L597.8,106.1L603.5,101.7L609.7,105.5Z" fill="#6ef455"/>
<path d="M479.4,127.5L473.2,124.4L478.7,119.3L485,122.4Z" fill="#4cf6a6"/>
<path d="M532.5,115.8L526.3,112.4L532,107.6L538.2,111Z" fill="#5df561"/>
<path d="M450.4,137L444.2,134.1L449.7,128.9L455.9,131.8Z" fill="#4af1fa"/>
<path d="M592.1,110.5L585.9,106.8L591.6,102.3L597.8,106.1Z" fill="#6ef556"/>
<path d="M544.5,114.4L538.2,111L543.9,106.3L550.2,109.8Z" fill="#63f55e"/>
<path d="M580.2,111.3L574,107.7L579.7,103.1L585.9,106.8Z" fill="#6ef556"/>
<path d="M556.4,113.3L550.2,109.8L555.9,105.1L562.1,108.6Z" fill="#68f55a"/>
<path d="M645.4,112.8L639.4,108.8L645,104.6L651.1,108.7Z" fill="#56f45e"/>
<path d="M568.3,112.2L562.1,108.6L567.8,104L574,107.7Z" fill="#6cf558"/>
<path d="M491.2,125.5L485,122.4L490.6,117.4L496.8,120.6Z" fill="#4cf68f"/>
<path d="M433.3,144.7L427.1,142L432.6,136.6L438.7,139.4Z" fill="#48d5ff"/>
<path d="M462.1,134.7L455.9,131.8L461.4,126.6L467.6,129.6Z" fill="#4af4db"/>
<path d="M633.7,112.9L627.6,109L633.3,104.8L639.4,108.8Z" fill="#5cf45c"/>
<path d="M503.1,123.7L496.8,120.6L502.5,115.6L508.7,118.8Z" fill="#4ef57f"/>
<path d="M416.4,152.7L410.3,150.1L415.6,144.6L421.8,147.3Z" fill="#48b5ff"/>
<path d="M621.9,113.2L615.8,109.4L621.5,105.1L627.6,109Z" fill="#61f45a"/>
<path d="M515,122.1L508.7,118.8L514.4,113.9L520.6,117.2Z" fill="#50f573"/>
<path d="M473.9,132.5L467.6,129.6L473.2,124.4L479.4,127.5Z" fill="#4af6be"/>
<path d="M444.9,142.2L438.7,139.4L444.2,134.1L450.4,137Z" fill="#48e5ff"/>
<path d="M610.1,113.7L604,109.9L609.7,105.5L615.8,109.4Z" fill="#64f459"/>
<path d="M526.9,120.5L520.6,117.2L526.3,112.4L532.5,115.8Z" fill="#52f469"/>
<path d="M598.3,114.2L592.1,110.5L597.8,106.1L604,109.9Z" fill="#65f458"/>
<path d="M651.5,116.7L645.4,112.8L651.1,108.7L657.1,112.7Z" fill="#4ef466"/>
<path d="M538.8,119.1L532.5,115.8L538.2,111L544.5,114.4Z" fill="#57f462"/>
<path d="M427.9,150L421.8,147.3L427.1,142L433.3,144.7Z" fill="#46c7ff"/>
<path d="M586.4,114.9L580.2,111.3L585.9,106.8L592.1,110.5Z" fill="#65f458"/>
<path d="M550.7,117.9L544.5,114.4L550.2,109.8L556.4,113.3Z" fill="#5df45f"/>
<path d="M485.7,130.5L479.4,127.5L485,122.4L491.2,125.5Z" fill="#4af6a6"/>
<path d="M574.5,115.8L568.3,112.2L574,107.7L580.2,111.3Z" fill="#64f45a"/>
<path d="M562.6,116.8L556.4,113.3L562.1,108.6L568.3,112.2Z" fill="#61f45c"/>
<path d="M456.6,139.8L450.4,137L455.9,131.8L462.1,134.7Z" fill="#48f1f7"/>
<path d="M639.8,116.8L633.7,112.9L639.4,108.8L645.4,112.8Z" fill="#50f460"/>
<path d="M497.5,128.7L491.2,125.5L496.8,120.6L503.1,123.7Z" fill="#4af691"/>
<path d="M628,117.1L621.9,113.2L627.6,109L633.7,112.9Z" fill="#56f45e"/>
<path d="M439.5,147.4L433.3,144.7L438.7,139.4L444.9,142.2Z" fill="#46d8ff"/>
<path d="M468.3,137.6L462.1,134.7L467.6,129.6L473.9,132.5Z" fill="#48f4d9"/>
<path d="M509.4,126.9L503.1,123.7L508.7,118.8L515,122.1Z" fill="#4cf681"/>
<path d="M616.3,117.4L610.1,113.7L615.8,109.4L621.9,113.2Z" fill="#59f45c"/>
<path d="M521.2,125.3L515,122.1L520.6,117.2L526.9,120.5Z" fill="#4ef576"/>
<path d="M422.5,155.3L416.4,152.7L421.8,147.3L427.9,150Z" fill="#45b8ff"/>
<path d="M604.4,117.9L598.3,114.2L604,109.9L610.1,113.7Z" fill="#5bf45b"/>
<path d="M480.1,135.5L473.9,132.5L479.4,127.5L485.7,130.5Z" fill="#49f6be"/>
<path d="M533.1,123.8L526.9,120.5L532.5,115.8L538.8,119.1Z" fill="#50f46c"/>
<path d="M451.1,145L444.9,142.2L450.4,137L456.6,139.8Z" fill="#47e7ff"/>
<path d="M592.6,118.6L586.4,114.9L592.1,110.5L598.3,114.2Z" fill="#5cf45b"/>
<path d="M545,122.5L538.8,119.1L544.5,114.4L550.7,117.9Z" fill="#51f464"/>
<path d="M580.7,119.4L574.5,115.8L580.2,111.3L586.4,114.9Z" fill="#5bf45c"/>
<path d="M556.9,121.3L550.7,117.9L556.4,113.3L562.6,116.8Z" fill="#56f460"/>
<path d="M568.8,120.3L562.6,116.8L568.3,112.2L574.5,115.8Z" fill="#59f45e"/>
<path d="M645.8,120.8L639.8,116.8L645.4,112.8L651.5,116.7Z" fill="#4bf56a"/>
<path d="M491.9,133.6L485.7,130.5L491.2,125.5L497.5,128.7Z" fill="#49f6a6"/>
<path d="M434.1,152.6L427.9,150L433.3,144.7L439.5,147.4Z" fill="#45caff"/>
<path d="M634.1,120.9L628,117.1L633.7,112.9L639.8,116.8Z" fill="#4df463"/>
<path d="M462.8,142.7L456.6,139.8L462.1,134.7L468.3,137.6Z" fill="#47f1f5"/>
<path d="M503.8,131.8L497.5,128.7L503.1,123.7L509.4,126.9Z" fill="#49f692"/>
<path d="M622.4,121.2L616.3,117.4L621.9,113.2L628,117.1Z" fill="#4ff45f"/>
<path d="M515.6,130.1L509.4,126.9L515,122.1L521.2,125.3Z" fill="#4af683"/>
<path d="M474.6,140.5L468.3,137.6L473.9,132.5L480.1,135.5Z" fill="#47f3d7"/>
<path d="M445.7,150.1L439.5,147.4L444.9,142.2L451.1,145Z" fill="#45daff"/>
<path d="M610.6,121.6L604.4,117.9L610.1,113.7L616.3,117.4Z" fill="#52f45e"/>
<path d="M527.5,128.5L521.2,125.3L526.9,120.5L533.1,123.8Z" fill="#4cf578"/>
<path d="M598.8,122.2L592.6,118.6L598.3,114.2L604.4,117.9Z" fill="#54f45e"/>
<path d="M539.4,127.1L533.1,123.8L538.8,119.1L545,122.5Z" fill="#4ef56e"/>
<path d="M586.9,122.9L580.7,119.4L586.4,114.9L592.6,118.6Z" fill="#53f45e"/>
<path d="M551.3,125.9L545,122.5L550.7,117.9L556.9,121.3Z" fill="#4ff467"/>
<path d="M575,123.8L568.8,120.3L574.5,115.8L580.7,119.4Z" fill="#52f460"/>
<path d="M486.3,138.5L480.1,135.5L485.7,130.5L491.9,133.6Z" fill="#47f6bd"/>
<path d="M428.7,157.9L422.5,155.3L427.9,150L434.1,152.6Z" fill="#43bbff"/>
<path d="M563.2,124.8L556.9,121.3L562.6,116.8L568.8,120.3Z" fill="#4ff461"/>
<path d="M457.3,147.8L451.1,145L456.6,139.8L462.8,142.7Z" fill="#45e8ff"/>
<path d="M640.2,124.8L634.1,120.9L639.8,116.8L645.8,120.8Z" fill="#49f56d"/>
<path d="M498.2,136.6L491.9,133.6L497.5,128.7L503.8,131.8Z" fill="#47f6a7"/>
<path d="M628.5,125L622.4,121.2L628,117.1L634.1,120.9Z" fill="#4bf468"/>
<path d="M440.3,155.3L434.1,152.6L439.5,147.4L445.7,150.1Z" fill="#43ccff"/>
<path d="M510,134.9L503.8,131.8L509.4,126.9L515.6,130.1Z" fill="#47f694"/>
<path d="M469,145.5L462.8,142.7L468.3,137.6L474.6,140.5Z" fill="#45f1f2"/>
<path d="M616.7,125.4L610.6,121.6L616.3,117.4L622.4,121.2Z" fill="#4cf464"/>
<path d="M521.9,133.3L515.6,130.1L521.2,125.3L527.5,128.5Z" fill="#48f684"/>
<path d="M604.9,125.9L598.8,122.2L604.4,117.9L610.6,121.6Z" fill="#4cf462"/>
<path d="M533.7,131.8L527.5,128.5L533.1,123.8L539.4,127.1Z" fill="#49f57a"/>
<path d="M480.8,143.4L474.6,140.5L480.1,135.5L486.3,138.5Z" fill="#45f4d6"/>
<path d="M593.1,126.5L586.9,122.9L592.6,118.6L598.8,122.2Z" fill="#4cf462"/>
<path d="M545.6,130.5L539.4,127.1L545,122.5L551.3,125.9Z" fill="#4bf571"/>
<path d="M451.9,152.9L445.7,150.1L451.1,145L457.3,147.8Z" fill="#43dcff"/>
<path d="M581.3,127.3L575,123.8L580.7,119.4L586.9,122.9Z" fill="#4df463"/>
<path d="M557.5,129.3L551.3,125.9L556.9,121.3L563.2,124.8Z" fill="#4cf56c"/>
<path d="M569.4,128.2L563.2,124.8L568.8,120.3L575,123.8Z" fill="#4cf466"/>
<path d="M492.6,141.5L486.3,138.5L491.9,133.6L498.2,136.6Z" fill="#45f6bd"/>
<path d="M434.8,160.5L428.7,157.9L434.1,152.6L440.3,155.3Z" fill="#42beff"/>
<path d="M634.6,128.8L628.5,125L634.1,120.9L640.2,124.8Z" fill="#47f572"/>
<path d="M463.5,150.6L457.3,147.8L462.8,142.7L469,145.5Z" fill="#44eaff"/>
<path d="M504.4,139.7L498.2,136.6L503.8,131.8L510,134.9Z" fill="#46f6a8"/>
<path d="M622.8,129.1L616.7,125.4L622.4,121.2L628.5,125Z" fill="#48f56d"/>
<path d="M516.2,138L510,134.9L515.6,130.1L521.9,133.3Z" fill="#46f696"/>
<path d="M475.3,148.4L469,145.5L474.6,140.5L480.8,143.4Z" fill="#44f2ef"/>
<path d="M611.1,129.5L604.9,125.9L610.6,121.6L616.7,125.4Z" fill="#49f569"/>
<path d="M446.4,158L440.3,155.3L445.7,150.1L451.9,152.9Z" fill="#42cfff"/>
<path d="M528.1,136.4L521.9,133.3L527.5,128.5L533.7,131.8Z" fill="#45f686"/>
<path d="M599.3,130.1L593.1,126.5L598.8,122.2L604.9,125.9Z" fill="#49f568"/>
<path d="M540,135L533.7,131.8L539.4,127.1L545.6,130.5Z" fill="#48f57d"/>
<path d="M587.4,130.8L581.3,127.3L586.9,122.9L593.1,126.5Z" fill="#4af569"/>
<path d="M551.9,133.8L545.6,130.5L551.3,125.9L557.5,129.3Z" fill="#48f575"/>
<path d="M575.6,131.7L569.4,128.2L575,123.8L581.3,127.3Z" fill="#4af56c"/>
<path d="M563.7,132.6L557.5,129.3L563.2,124.8L569.4,128.2Z" fill="#49f56f"/>
<path d="M487,146.4L480.8,143.4L486.3,138.5L492.6,141.5Z" fill="#44f4d4"/>
<path d="M458.1,155.6L451.9,152.9L457.3,147.8L463.5,150.6Z" fill="#42deff"/>
<path d="M498.8,144.5L492.6,141.5L498.2,136.6L504.4,139.7Z" fill="#44f5bc"/>
<path d="M629,132.8L622.8,129.1L628.5,125L634.6,128.8Z" fill="#45f576"/>
<path d="M510.7,142.7L504.4,139.7L510,134.9L516.2,138Z" fill="#44f5a8"/>
<path d="M469.8,153.3L463.5,150.6L469,145.5L475.3,148.4Z" fill="#42ecff"/>
<path d="M441,163.1L434.8,160.5L440.3,155.3L446.4,158Z" fill="#40c2ff"/>
<path d="M617.2,133.2L611.1,129.5L616.7,125.4L622.8,129.1Z" fill="#46f572"/>
<path d="M522.5,141.1L516.2,138L521.9,133.3L528.1,136.4Z" fill="#44f597"/>
<path d="M605.4,133.7L599.3,130.1L604.9,125.9L611.1,129.5Z" fill="#46f570"/>
<path d="M534.4,139.6L528.1,136.4L533.7,131.8L540,135Z" fill="#44f588"/>
<path d="M481.5,151.2L475.3,148.4L480.8,143.4L487,146.4Z" fill="#42f2ed"/>
<path d="M593.6,134.3L587.4,130.8L593.1,126.5L599.3,130.1Z" fill="#47f56f"/>
<path d="M546.2,138.3L540,135L545.6,130.5L551.9,133.8Z" fill="#45f57f"/>
<path d="M581.8,135.1L575.6,131.7L581.3,127.3L587.4,130.8Z" fill="#47f570"/>
<path d="M452.6,160.6L446.4,158L451.9,152.9L458.1,155.6Z" fill="#41d1ff"/>
<path d="M558.1,137.1L551.9,133.8L557.5,129.3L563.7,132.6Z" fill="#46f579"/>
<path d="M569.9,136L563.7,132.6L569.4,128.2L575.6,131.7Z" fill="#46f573"/>
<path d="M493.3,149.3L487,146.4L492.6,141.5L498.8,144.5Z" fill="#42f4d3"/>
<path d="M464.3,158.3L458.1,155.6L463.5,150.6L469.8,153.3Z" fill="#41e0ff"/>
<path d="M505.1,147.4L498.8,144.5L504.4,139.7L510.7,142.7Z" fill="#42f5bc"/>
<path d="M623.4,136.8L617.2,133.2L622.8,129.1L629,132.8Z" fill="#43f579"/>
<path d="M516.9,145.8L510.7,142.7L516.2,138L522.5,141.1Z" fill="#42f5a9"/>
<path d="M611.6,137.3L605.4,133.7L611.1,129.5L617.2,133.2Z" fill="#43f577"/>
<path d="M476,156.1L469.8,153.3L475.3,148.4L481.5,151.2Z" fill="#41eeff"/>
<path d="M528.7,144.2L522.5,141.1L528.1,136.4L534.4,139.6Z" fill="#42f599"/>
<path d="M447.2,165.7L441,163.1L446.4,158L452.6,160.6Z" fill="#3fc5ff"/>
<path d="M599.8,137.8L593.6,134.3L599.3,130.1L605.4,133.7Z" fill="#44f575"/>
<path d="M540.6,142.8L534.4,139.6L540,135L546.2,138.3Z" fill="#42f58c"/>
<path d="M588,138.6L581.8,135.1L587.4,130.8L593.6,134.3Z" fill="#44f576"/>
<path d="M552.5,141.5L546.2,138.3L551.9,133.8L558.1,137.1Z" fill="#43f582"/>
<path d="M576.2,139.4L569.9,136L575.6,131.7L581.8,135.1Z" fill="#44f578"/>
<path d="M564.3,140.4L558.1,137.1L563.7,132.6L569.9,136Z" fill="#43f57c"/>
<path d="M487.7,154.1L481.5,151.2L487,146.4L493.3,149.3Z" fill="#41f2e9"/>
<path d="M458.8,163.3L452.6,160.6L458.1,155.6L464.3,158.3Z" fill="#3fd4ff"/>
<path d="M499.5,152.2L493.3,149.3L498.8,144.5L505.1,147.4Z" fill="#41f4d1"/>
<path d="M511.3,150.4L505.1,147.4L510.7,142.7L516.9,145.8Z" fill="#41f5bc"/>
<path d="M470.5,161L464.3,158.3L469.8,153.3L476,156.1Z" fill="#3fe2ff"/>
<path d="M617.7,140.9L611.6,137.3L617.2,133.2L623.4,136.8Z" fill="#40f57e"/>
<path d="M523.1,148.8L516.9,145.8L522.5,141.1L528.7,144.2Z" fill="#41f5aa"/>
<path d="M606,141.4L599.8,137.8L605.4,133.7L611.6,137.3Z" fill="#41f57b"/>
<path d="M535,147.3L528.7,144.2L534.4,139.6L540.6,142.8Z" fill="#41f59b"/>
<path d="M482.2,158.9L476,156.1L481.5,151.2L487.7,154.1Z" fill="#3fefff"/>
<path d="M594.2,142L588,138.6L593.6,134.3L599.8,137.8Z" fill="#41f57b"/>
<path d="M546.8,146L540.6,142.8L546.2,138.3L552.5,141.5Z" fill="#41f58e"/>
<path d="M582.4,142.8L576.2,139.4L581.8,135.1L588,138.6Z" fill="#42f57c"/>
<path d="M558.7,144.8L552.5,141.5L558.1,137.1L564.3,140.4Z" fill="#41f585"/>
<path d="M570.5,143.7L564.3,140.4L569.9,136L576.2,139.4Z" fill="#41f57f"/>
<path d="M453.3,168.2L447.2,165.7L452.6,160.6L458.8,163.3Z" fill="#3ec8ff"/>
<path d="M494,156.9L487.7,154.1L493.3,149.3L499.5,152.2Z" fill="#40f2e7"/>
<path d="M465,165.9L458.8,163.3L464.3,158.3L470.5,161Z" fill="#3ed8ff"/>
<path d="M505.7,155.1L499.5,152.2L505.1,147.4L511.3,150.4Z" fill="#40f4d0"/>
<path d="M517.6,153.4L511.3,150.4L516.9,145.8L523.1,148.8Z" fill="#40f5bb"/>
<path d="M612.1,144.9L606,141.4L611.6,137.3L617.7,140.9Z" fill="#3ef581"/>
<path d="M476.7,163.7L470.5,161L476,156.1L482.2,158.9Z" fill="#3ee5ff"/>
<path d="M529.4,151.8L523.1,148.8L528.7,144.2L535,147.3Z" fill="#3ff5ab"/>
<path d="M600.4,145.5L594.2,142L599.8,137.8L606,141.4Z" fill="#3ef580"/>
<path d="M541.2,150.4L535,147.3L540.6,142.8L546.8,146Z" fill="#3ff59d"/>
<path d="M588.6,146.2L582.4,142.8L588,138.6L594.2,142Z" fill="#3ff581"/>
<path d="M553.1,149.2L546.8,146L552.5,141.5L558.7,144.8Z" fill="#3ff592"/>
<path d="M576.7,147L570.5,143.7L576.2,139.4L582.4,142.8Z" fill="#3ff583"/>
<path d="M564.9,148L558.7,144.8L564.3,140.4L570.5,143.7Z" fill="#3ff589"/>
<path d="M488.4,161.7L482.2,158.9L487.7,154.1L494,156.9Z" fill="#3ef0fd"/>
<path d="M459.5,170.8L453.3,168.2L458.8,163.3L465,165.9Z" fill="#3cccff"/>
<path d="M500.2,159.8L494,156.9L499.5,152.2L505.7,155.1Z" fill="#3ef2e4"/>
<path d="M512,158L505.7,155.1L511.3,150.4L517.6,153.4Z" fill="#3ef4ce"/>
<path d="M471.2,168.6L465,165.9L470.5,161L476.7,163.7Z" fill="#3ddaff"/>
<path d="M523.8,156.4L517.6,153.4L523.1,148.8L529.4,151.8Z" fill="#3ef5bb"/>
<path d="M606.5,148.9L600.4,145.5L606,141.4L612.1,144.9Z" fill="#3df588"/>
<path d="M535.6,154.9L529.4,151.8L535,147.3L541.2,150.4Z" fill="#3ef5ac"/>
<path d="M594.8,149.6L588.6,146.2L594.2,142L600.4,145.5Z" fill="#3df587"/>
<path d="M482.9,166.4L476.7,163.7L482.2,158.9L488.4,161.7Z" fill="#3de7ff"/>
<path d="M547.5,153.6L541.2,150.4L546.8,146L553.1,149.2Z" fill="#3ef59f"/>
<path d="M583,150.4L576.7,147L582.4,142.8L588.6,146.2Z" fill="#3df589"/>
<path d="M559.3,152.3L553.1,149.2L558.7,144.8L564.9,148Z" fill="#3ef595"/>
<path d="M571.1,151.3L564.9,148L570.5,143.7L576.7,147Z" fill="#3ef58e"/>
<path d="M494.6,164.5L488.4,161.7L494,156.9L500.2,159.8Z" fill="#3df1f8"/>
<path d="M506.4,162.6L500.2,159.8L505.7,155.1L512,158Z" fill="#3df2e1"/>
<path d="M465.7,173.4L459.5,170.8L465,165.9L471.2,168.6Z" fill="#3bcfff"/>
<path d="M518.2,160.9L512,158L517.6,153.4L523.8,156.4Z" fill="#3df4cc"/>
<path d="M477.4,171.2L471.2,168.6L476.7,163.7L482.9,166.4Z" fill="#3bddff"/>
<path d="M530,159.4L523.8,156.4L529.4,151.8L535.6,154.9Z" fill="#3df5ba"/>
<path d="M601,153L594.8,149.6L600.4,145.5L606.5,148.9Z" fill="#3cf58e"/>
<path d="M541.9,157.9L535.6,154.9L541.2,150.4L547.5,153.6Z" fill="#3df5ad"/>
<path d="M589.2,153.7L583,150.4L588.6,146.2L594.8,149.6Z" fill="#3cf58f"/>
<path d="M553.7,156.7L547.5,153.6L553.1,149.2L559.3,152.3Z" fill="#3cf5a1"/>
<path d="M577.4,154.5L571.1,151.3L576.7,147L583,150.4Z" fill="#3cf592"/>
<path d="M565.5,155.5L559.3,152.3L564.9,148L571.1,151.3Z" fill="#3cf599"/>
<path d="M489.1,169.2L482.9,166.4L488.4,161.7L494.6,164.5Z" fill="#3beaff"/>
<path d="M500.9,167.2L494.6,164.5L500.2,159.8L506.4,162.6Z" fill="#3bf0f4"/>
<path d="M512.7,165.5L506.4,162.6L512,158L518.2,160.9Z" fill="#3bf3de"/>
<path d="M471.9,176L465.7,173.4L471.2,168.6L477.4,171.2Z" fill="#3ad3ff"/>
<path d="M524.5,163.8L518.2,160.9L523.8,156.4L530,159.4Z" fill="#3bf4ca"/>
<path d="M536.3,162.3L530,159.4L535.6,154.9L541.9,157.9Z" fill="#3bf5ba"/>
<path d="M595.4,157L589.2,153.7L594.8,149.6L601,153Z" fill="#3af595"/>
<path d="M548.1,161L541.9,157.9L547.5,153.6L553.7,156.7Z" fill="#3bf5ae"/>
<path d="M483.6,173.9L477.4,171.2L482.9,166.4L489.1,169.2Z" fill="#3ae0ff"/>
<path d="M583.6,157.8L577.4,154.5L583,150.4L589.2,153.7Z" fill="#3bf597"/>
<path d="M559.9,159.8L553.7,156.7L559.3,152.3L565.5,155.5Z" fill="#3bf5a4"/>
<path d="M571.8,158.7L565.5,155.5L571.1,151.3L577.4,154.5Z" fill="#3bf59c"/>
<path d="M495.3,171.9L489.1,169.2L494.6,164.5L500.9,167.2Z" fill="#3aecff"/>
<path d="M507.1,170L500.9,167.2L506.4,162.6L512.7,165.5Z" fill="#3af1f0"/>
<path d="M518.9,168.3L512.7,165.5L518.2,160.9L524.5,163.8Z" fill="#3af3db"/>
<path d="M530.7,166.7L524.5,163.8L530,159.4L536.3,162.3Z" fill="#3af4c9"/>
<path d="M478.1,178.6L471.9,176L477.4,171.2L483.6,173.9Z" fill="#39d7ff"/>
<path d="M542.5,165.3L536.3,162.3L541.9,157.9L548.1,161Z" fill="#3af5b9"/>
<path d="M589.8,161L583.6,157.8L589.2,153.7L595.4,157Z" fill="#39f59c"/>
<path d="M554.3,164L548.1,161L553.7,156.7L559.9,159.8Z" fill="#3af5af"/>
<path d="M578,161.9L571.8,158.7L577.4,154.5L583.6,157.8Z" fill="#39f5a0"/>
<path d="M566.2,162.9L559.9,159.8L565.5,155.5L571.8,158.7Z" fill="#3af5a5"/>
<path d="M489.8,176.5L483.6,173.9L489.1,169.2L495.3,171.9Z" fill="#39e3ff"/>
<path d="M501.6,174.6L495.3,171.9L500.9,167.2L507.1,170Z" fill="#39eeff"/>
<path d="M513.3,172.8L507.1,170L512.7,165.5L518.9,168.3Z" fill="#39f1eb"/>
<path d="M525.1,171.1L518.9,168.3L524.5,163.8L530.7,166.7Z" fill="#39f3d7"/>
<path d="M536.9,169.7L530.7,166.7L536.3,162.3L542.5,165.3Z" fill="#39f4c7"/>
<path d="M548.8,168.3L542.5,165.3L548.1,161L554.3,164Z" fill="#39f5b9"/>
<path d="M484.3,181.1L478.1,178.6L483.6,173.9L489.8,176.5Z" fill="#37daff"/>
<path d="M584.2,165.1L578,161.9L583.6,157.8L589.8,161Z" fill="#38f5a3"/>
<path d="M560.6,167.1L554.3,164L559.9,159.8L566.2,162.9Z" fill="#38f5af"/>
<path d="M572.4,166L566.2,162.9L571.8,158.7L578,161.9Z" fill="#38f5a8"/>
<path d="M496,179.1L489.8,176.5L495.3,171.9L501.6,174.6Z" fill="#38e6ff"/>
<path d="M507.8,177.3L501.6,174.6L507.1,170L513.3,172.8Z" fill="#38effc"/>
<path d="M519.6,175.6L513.3,172.8L518.9,168.3L525.1,171.1Z" fill="#38f2e7"/>
<path d="M531.4,174L525.1,171.1L530.7,166.7L536.9,169.7Z" fill="#37f2d5"/>
<path d="M543.2,172.6L536.9,169.7L542.5,165.3L548.8,168.3Z" fill="#37f4c5"/>
<path d="M555,171.3L548.8,168.3L554.3,164L560.6,167.1Z" fill="#37f5b9"/>
<path d="M578.6,169.1L572.4,166L578,161.9L584.2,165.1Z" fill="#37f5aa"/>
<path d="M566.8,170.1L560.6,167.1L566.2,162.9L572.4,166Z" fill="#37f5b0"/>
<path d="M490.5,183.7L484.3,181.1L489.8,176.5L496,179.1Z" fill="#36deff"/>
<path d="M502.3,181.8L496,179.1L501.6,174.6L507.8,177.3Z" fill="#36e9ff"/>
<path d="M514,180L507.8,177.3L513.3,172.8L519.6,175.6Z" fill="#36f0f6"/>
<path d="M525.8,178.3L519.6,175.6L525.1,171.1L531.4,174Z" fill="#36f2e2"/>
<path d="M537.6,176.8L531.4,174L536.9,169.7L543.2,172.6Z" fill="#36f3d1"/>
<path d="M549.4,175.5L543.2,172.6L548.8,168.3L555,171.3Z" fill="#36f4c3"/>
<path d="M561.3,174.3L555,171.3L560.6,167.1L566.8,170.1Z" fill="#36f5b9"/>
<path d="M573.1,173.2L566.8,170.1L572.4,166L578.6,169.1Z" fill="#36f5b1"/>
<path d="M496.7,186.3L490.5,183.7L496,179.1L502.3,181.8Z" fill="#35e2ff"/>
<path d="M508.5,184.4L502.3,181.8L507.8,177.3L514,180Z" fill="#35ecff"/>
<path d="M520.3,182.7L514,180L519.6,175.6L525.8,178.3Z" fill="#35f1f0"/>
<path d="M532.1,181.1L525.8,178.3L531.4,174L537.6,176.8Z" fill="#35f2de"/>
<path d="M543.9,179.7L537.6,176.8L543.2,172.6L549.4,175.5Z" fill="#35f3ce"/>
<path d="M555.7,178.4L549.4,175.5L555,171.3L561.3,174.3Z" fill="#35f4c2"/>
<path d="M567.5,177.2L561.3,174.3L566.8,170.1L573.1,173.2Z" fill="#35f5b8"/>
<path d="M503,188.8L496.7,186.3L502.3,181.8L508.5,184.4Z" fill="#34e6ff"/>
<path d="M514.7,187L508.5,184.4L514,180L520.3,182.7Z" fill="#34effe"/>
<path d="M526.5,185.4L520.3,182.7L525.8,178.3L532.1,181.1Z" fill="#34f1ea"/>
<path d="M538.3,183.9L532.1,181.1L537.6,176.8L543.9,179.7Z" fill="#34f2d9"/>
<path d="M550.1,182.5L543.9,179.7L549.4,175.5L555.7,178.4Z" fill="#34f3cb"/>
<path d="M561.9,181.3L555.7,178.4L561.3,174.3L567.5,177.2Z" fill="#34f5c0"/>
<path d="M509.2,191.4L503,188.8L508.5,184.4L514.7,187Z" fill="#33e9ff"/>
<path d="M521,189.6L514.7,187L520.3,182.7L526.5,185.4Z" fill="#33f0f7"/>
<path d="M532.8,188.1L526.5,185.4L532.1,181.1L538.3,183.9Z" fill="#33f1e4"/>
<path d="M544.6,186.6L538.3,183.9L543.9,179.7L550.1,182.5Z" fill="#33f2d5"/>
<path d="M556.4,185.3L550.1,182.5L555.7,178.4L561.9,181.3Z" fill="#32f4c8"/>
<path d="M515.5,193.9L509.2,191.4L514.7,187L521,189.6Z" fill="#32edff"/>
<path d="M527.2,192.3L521,189.6L526.5,185.4L532.8,188.1Z" fill="#32f0ef"/>
<path d="M539,190.8L532.8,188.1L538.3,183.9L544.6,186.6Z" fill="#32f1de"/>
<path d="M550.8,189.4L544.6,186.6L550.1,182.5L556.4,185.3Z" fill="#31f3cf"/>
<path d="M521.7,196.5L515.5,193.9L521,189.6L527.2,192.3Z" fill="#30effa"/>
<path d="M533.5,194.9L527.2,192.3L532.8,188.1L539,190.8Z" fill="#30f0e8"/>
<path d="M545.3,193.5L539,190.8L544.6,186.6L550.8,189.4Z" fill="#30f2d7"/>
<path d="M528,199L521.7,196.5L527.2,192.3L533.5,194.9Z" fill="#2ff0f1"/>
<path d="M539.8,197.5L533.5,194.9L539,190.8L545.3,193.5Z" fill="#2ff1e0"/>
<path d="M534.2,201.6L528,199L533.5,194.9L539.8,197.5Z" fill="#2ef0e8"/>
</g>
<circle cx="398.6" cy="145.3" r="2.4" fill="#c00000" stroke="#700" stroke-width="0.6"/>
<circle cx="521.4" cy="22.5" r="2.4" fill="#c00000" stroke="#700" stroke-width="0.6"/>
<circle cx="657.7" cy="113.5" r="2.4" fill="#f4c4c4" stroke="#a55" stroke-width="0.6"/>
<circle cx="533.9" cy="203.5" r="2.4" fill="#f4c4c4" stroke="#a55" stroke-width="0.6"/>
<circle cx="527.1" cy="115.4" r="2.0" fill="#c00000" stroke="#700" stroke-width="0.6"/>
<text font-size="9.3" text-anchor="end" fill="#383838" transform="translate(527.8,275.4) scale(1.0,1)">2</text>
<text font-size="9.3" text-anchor="end" fill="#383838" transform="translate(495.2,256.8) scale(1.0,1)">7.5</text>
<text font-size="9.3" text-anchor="end" fill="#383838" transform="translate(462.6,238.2) scale(1.0,1)">13</text>
<text font-size="9.3" text-anchor="end" fill="#383838" transform="translate(430,219.6) scale(1.0,1)">18.5</text>
<text font-size="9.3" text-anchor="end" fill="#383838" transform="translate(397.4,201) scale(1.0,1)">24</text>
<text font-size="9.3" text-anchor="start" fill="#383838" transform="translate(539.8,275.6) scale(1.0,1)">180</text>
<text font-size="9.3" text-anchor="start" fill="#383838" transform="translate(562.8,259.4) scale(1.0,1)">177</text>
<text font-size="9.3" text-anchor="start" fill="#383838" transform="translate(585.8,243.1) scale(1.0,1)">174</text>
<text font-size="9.3" text-anchor="start" fill="#383838" transform="translate(608.8,226.9) scale(1.0,1)">171</text>
<text font-size="9.3" text-anchor="start" fill="#383838" transform="translate(631.9,210.7) scale(1.0,1)">168</text>
<text font-size="9.3" text-anchor="start" fill="#383838" transform="translate(654.9,194.5) scale(1.0,1)">165</text>
<text font-size="9.3" text-anchor="end" fill="#383838" transform="translate(394.2,160.2) scale(1.0,1)">100</text>
<text font-size="9.3" text-anchor="end" fill="#383838" transform="translate(391.9,139.9) scale(1.0,1)">150</text>
<text font-size="9.3" text-anchor="end" fill="#383838" transform="translate(389.6,119.7) scale(1.0,1)">200</text>
<text font-size="9.3" text-anchor="end" fill="#383838" transform="translate(387.4,99.5) scale(1.0,1)">250</text>
<text font-size="9.3" text-anchor="end" fill="#383838" transform="translate(385.1,79.3) scale(1.0,1)">300</text>
<text font-size="9.3" text-anchor="end" fill="#383838" transform="translate(382.8,59.1) scale(1.0,1)">350</text>
<text font-size="9.3" text-anchor="middle" fill="#383838" transform="translate(426.2,262.2) scale(1.06,1)">A (h)</text>
<text font-size="9.3" text-anchor="middle" fill="#383838" transform="translate(640.1,255.4) scale(1.06,1)">B (C)</text>
<text font-size="9.3" text-anchor="middle" fill="#383838" transform="translate(355.5,129.7) rotate(-90) scale(0.92,1)">R1 (nm)</text>
<text x="391.3" y="36.7" font-family="Liberation Serif" font-weight="bold" font-size="19.5" fill="#000">(d)</text>
<polygon points="410.7,488.6 525.2,420.1 525.2,290.6 396.1,352.8" fill="#fff"/>
<polygon points="525.2,420.1 650.2,481.3 664.6,346.9 525.2,290.6" fill="#fff"/>
<path d="M407.3,457.3L525.2,390.3L653.5,450.4M405.1,436.4L525.2,370.4L655.7,429.7M402.8,415.5L525.2,350.4L658,409M400.6,394.6L525.2,330.5L660.2,388.3M398.3,373.7L525.2,310.5L662.4,367.6M396.1,352.8L525.2,290.6L664.6,346.9M436.8,440.6L428.4,337.2M466.3,423.8L460.6,321.7M495.7,407.1L492.9,306.1M621.4,435.4L629.8,332.8M589.4,420.4L594.9,318.8M557.3,405.3L560,304.7M410.7,488.6L396.1,352.8M525.2,420.1L525.2,290.6M650.2,481.3L664.6,346.9" stroke="#333" stroke-width="1" fill="none"/>
<polygon points="538.1,565.9 410.7,488.6 525.2,420.1 650.2,481.3" fill="#616161" stroke="#111" stroke-width="1.1" stroke-linejoin="round"/>
<polyline points="602.4,517.4 603.1,512.5 604.7,506.9 606.9,501.6 609.9,496.1 613.6,490.3 618.1,484.2 623.5,477.8 629.5,471.2" fill="none" stroke="#12da8f" stroke-width="1.8"/>
<polyline points="552.7,554.9 545.5,551.8 538.7,549.2 532.2,547.2 526.9,546 521.6,545.4 516.6,545.4 511.9,545.9 506.9,546.9" fill="none" stroke="#1bd85c" stroke-width="1.8"/>
<polyline points="432.4,475.5 450.8,485.6 466.2,493.6 478.5,499.7 488.6,504.1 497.1,507.1 504.3,509 510.8,509.9 517.7,509.8 523.9,508.9 531.3,506.6 539.2,503.3 547.9,498.9 558.5,492.8 571.8,484.6 608,460.7" fill="none" stroke="#1bd85c" stroke-width="1.8"/>
<polyline points="456,461.4 465.3,464 474,466 482.3,467.5 490.1,468.6 497.8,469.4 505.8,469.7 513.2,469.7 520.7,469.2 528.3,468.4 536.1,467.1 544.3,465.4 552,463.3 560.1,460.8 568.7,457.8 577.6,454.3 586.9,450.3" fill="none" stroke="#20da35" stroke-width="1.8"/>
<polyline points="478.5,448 489.7,449.1 500.7,449.7 511.8,449.7 522.5,449 533.4,447.8 544.3,446 555.8,443.5 566.9,440.5" fill="none" stroke="#25dd28" stroke-width="1.8"/>
<polyline points="501.9,434.1 512.6,433.9 523.7,433.2 535.1,432 546,430.3" fill="none" stroke="#3ce020" stroke-width="1.8"/>
<polyline points="410.7,488.6 538.1,565.9 650.2,481.3" fill="none" stroke="#111" stroke-width="1.1"/>
<circle cx="538.1" cy="565.9" r="1.45" fill="#111"/>
<circle cx="506.2" cy="546.6" r="1.45" fill="#111"/>
<circle cx="474.4" cy="527.2" r="1.45" fill="#111"/>
<circle cx="442.5" cy="507.9" r="1.45" fill="#111"/>
<circle cx="410.7" cy="488.6" r="1.45" fill="#111"/>
<circle cx="538.1" cy="565.9" r="1.45" fill="#111"/>
<circle cx="566.1" cy="544.7" r="1.45" fill="#111"/>
<circle cx="594.2" cy="523.6" r="1.45" fill="#111"/>
<circle cx="622.2" cy="502.5" r="1.45" fill="#111"/>
<circle cx="650.2" cy="481.3" r="1.45" fill="#111"/>
<circle cx="407.3" cy="457.3" r="1.45" fill="#111"/>
<circle cx="405.1" cy="436.4" r="1.45" fill="#111"/>
<circle cx="402.8" cy="415.5" r="1.45" fill="#111"/>
<circle cx="400.6" cy="394.6" r="1.45" fill="#111"/>
<circle cx="398.3" cy="373.7" r="1.45" fill="#111"/>
<circle cx="396.1" cy="352.8" r="1.45" fill="#111"/>
<g stroke="#141c0a" stroke-opacity=".88" stroke-width=".72" stroke-linejoin="round">
<path d="M525.7,342.7L519.6,339.1L525.2,335.4L531.3,339Z" fill="#a4f54e"/>
<path d="M531.8,346.3L525.7,342.7L531.3,339L537.4,342.6Z" fill="#9cf54d"/>
<path d="M520.1,346.4L513.9,342.8L519.6,339.1L525.7,342.7Z" fill="#9df54d"/>
<path d="M537.9,349.8L531.8,346.3L537.4,342.6L543.5,346.2Z" fill="#94f44c"/>
<path d="M526.2,349.9L520.1,346.4L525.7,342.7L531.8,346.3Z" fill="#96f44c"/>
<path d="M514.4,350.1L508.3,346.5L513.9,342.8L520.1,346.4Z" fill="#97f44c"/>
<path d="M544,353.4L537.9,349.8L543.5,346.2L549.6,349.8Z" fill="#8bf44b"/>
<path d="M532.3,353.5L526.2,349.9L531.8,346.3L537.9,349.8Z" fill="#8ef44b"/>
<path d="M520.6,353.6L514.4,350.1L520.1,346.4L526.2,349.9Z" fill="#90f44b"/>
<path d="M508.8,353.8L502.7,350.2L508.3,346.5L514.4,350.1Z" fill="#90f44b"/>
<path d="M550,357L544,353.4L549.6,349.8L555.6,353.4Z" fill="#83f44a"/>
<path d="M538.4,357L532.3,353.5L537.9,349.8L544,353.4Z" fill="#86f44a"/>
<path d="M526.7,357.1L520.6,353.6L526.2,349.9L532.3,353.5Z" fill="#88f44a"/>
<path d="M515,357.3L508.8,353.8L514.4,350.1L520.6,353.6Z" fill="#89f44a"/>
<path d="M503.2,357.4L497.1,353.9L502.7,350.2L508.8,353.8Z" fill="#89f44a"/>
<path d="M556.1,360.6L550,357L555.6,353.4L561.7,357Z" fill="#7bf449"/>
<path d="M544.5,360.6L538.4,357L544,353.4L550,357Z" fill="#7ff449"/>
<path d="M532.8,360.7L526.7,357.1L532.3,353.5L538.4,357Z" fill="#81f449"/>
<path d="M521.1,360.8L515,357.3L520.6,353.6L526.7,357.1Z" fill="#82f449"/>
<path d="M509.4,360.9L503.2,357.4L508.8,353.8L515,357.3Z" fill="#83f449"/>
<path d="M562.2,364.1L556.1,360.6L561.7,357L567.7,360.6Z" fill="#74f44b"/>
<path d="M497.6,361.1L491.5,357.7L497.1,353.9L503.2,357.4Z" fill="#82f44a"/>
<path d="M550.5,364.2L544.5,360.6L550,357L556.1,360.6Z" fill="#77f44a"/>
<path d="M538.9,364.2L532.8,360.7L538.4,357L544.5,360.6Z" fill="#7af449"/>
<path d="M527.2,364.3L521.1,360.8L526.7,357.1L532.8,360.7Z" fill="#7bf448"/>
<path d="M515.5,364.4L509.4,360.9L515,357.3L521.1,360.8Z" fill="#7cf448"/>
<path d="M568.2,367.7L562.2,364.1L567.7,360.6L573.8,364.2Z" fill="#6cf44f"/>
<path d="M503.8,364.6L497.6,361.1L503.2,357.4L509.4,360.9Z" fill="#7cf449"/>
<path d="M556.6,367.7L550.5,364.2L556.1,360.6L562.2,364.1Z" fill="#70f44d"/>
<path d="M492.1,364.8L485.9,361.4L491.5,357.7L497.6,361.1Z" fill="#7bf449"/>
<path d="M545,367.8L538.9,364.2L544.5,360.6L550.5,364.2Z" fill="#72f44b"/>
<path d="M533.3,367.8L527.2,364.3L532.8,360.7L538.9,364.2Z" fill="#75f44a"/>
<path d="M574.3,371.3L568.2,367.7L573.8,364.2L579.8,367.8Z" fill="#65f451"/>
<path d="M521.6,367.9L515.5,364.4L521.1,360.8L527.2,364.3Z" fill="#76f44a"/>
<path d="M509.9,368.1L503.8,364.6L509.4,360.9L515.5,364.4Z" fill="#77f44a"/>
<path d="M562.7,371.3L556.6,367.7L562.2,364.1L568.2,367.7Z" fill="#69f44f"/>
<path d="M498.2,368.3L492.1,364.8L497.6,361.1L503.8,364.6Z" fill="#76f44a"/>
<path d="M486.5,368.5L480.3,365.1L485.9,361.4L492.1,364.8Z" fill="#76f44b"/>
<path d="M551,371.3L545,367.8L550.5,364.2L556.6,367.7Z" fill="#6cf44d"/>
<path d="M539.4,371.4L533.3,367.8L538.9,364.2L545,367.8Z" fill="#6ff44c"/>
<path d="M580.3,374.9L574.3,371.3L579.8,367.8L585.8,371.4Z" fill="#5df454"/>
<path d="M527.7,371.5L521.6,367.9L527.2,364.3L533.3,367.8Z" fill="#70f44b"/>
<path d="M516,371.6L509.9,368.1L515.5,364.4L521.6,367.9Z" fill="#71f44b"/>
<path d="M568.7,374.9L562.7,371.3L568.2,367.7L574.3,371.3Z" fill="#61f452"/>
<path d="M504.3,371.8L498.2,368.3L503.8,364.6L509.9,368.1Z" fill="#71f44b"/>
<path d="M492.6,372L486.5,368.5L492.1,364.8L498.2,368.3Z" fill="#71f44c"/>
<path d="M557.1,374.8L551,371.3L556.6,367.7L562.7,371.3Z" fill="#65f450"/>
<path d="M480.9,372.2L474.8,368.8L480.3,365.1L486.5,368.5Z" fill="#6ff44d"/>
<path d="M545.5,374.9L539.4,371.4L545,367.8L551,371.3Z" fill="#68f44f"/>
<path d="M586.3,378.5L580.3,374.9L585.8,371.4L591.8,375Z" fill="#55f457"/>
<path d="M533.8,375L527.7,371.5L533.3,367.8L539.4,371.4Z" fill="#6bf44d"/>
<path d="M522.2,375.1L516,371.6L521.6,367.9L527.7,371.5Z" fill="#6bf44d"/>
<path d="M574.8,378.4L568.7,374.9L574.3,371.3L580.3,374.9Z" fill="#5bf455"/>
<path d="M510.5,375.2L504.3,371.8L509.9,368.1L516,371.6Z" fill="#6cf44d"/>
<path d="M563.2,378.4L557.1,374.8L562.7,371.3L568.7,374.9Z" fill="#5ef453"/>
<path d="M498.8,375.4L492.6,372L498.2,368.3L504.3,371.8Z" fill="#6cf44d"/>
<path d="M487.1,375.7L480.9,372.2L486.5,368.5L492.6,372Z" fill="#6bf44e"/>
<path d="M551.6,378.4L545.5,374.9L551,371.3L557.1,374.8Z" fill="#62f451"/>
<path d="M475.4,376L469.2,372.5L474.8,368.8L480.9,372.2Z" fill="#69f44f"/>
<path d="M592.3,382.1L586.3,378.5L591.8,375L597.8,378.6Z" fill="#4ef45a"/>
<path d="M539.9,378.5L533.8,375L539.4,371.4L545.5,374.9Z" fill="#65f44f"/>
<path d="M580.8,382L574.8,378.4L580.3,374.9L586.3,378.5Z" fill="#53f457"/>
<path d="M528.3,378.6L522.2,375.1L527.7,371.5L533.8,375Z" fill="#66f44f"/>
<path d="M516.6,378.7L510.5,375.2L516,371.6L522.2,375.1Z" fill="#67f44e"/>
<path d="M569.2,382L563.2,378.4L568.7,374.9L574.8,378.4Z" fill="#58f455"/>
<path d="M504.9,378.9L498.8,375.4L504.3,371.8L510.5,375.2Z" fill="#67f44e"/>
<path d="M493.2,379.1L487.1,375.7L492.6,372L498.8,375.4Z" fill="#66f44f"/>
<path d="M557.6,381.9L551.6,378.4L557.1,374.8L563.2,378.4Z" fill="#5cf453"/>
<path d="M598.3,385.7L592.3,382.1L597.8,378.6L603.8,382.2Z" fill="#48f45f"/>
<path d="M481.5,379.4L475.4,376L480.9,372.2L487.1,375.7Z" fill="#65f450"/>
<path d="M469.8,379.7L463.6,376.3L469.2,372.5L475.4,376Z" fill="#64f451"/>
<path d="M546,382L539.9,378.5L545.5,374.9L551.6,378.4Z" fill="#5ff451"/>
<path d="M586.8,385.6L580.8,382L586.3,378.5L592.3,382.1Z" fill="#4cf45a"/>
<path d="M534.4,382.1L528.3,378.6L533.8,375L539.9,378.5Z" fill="#60f451"/>
<path d="M522.7,382.2L516.6,378.7L522.2,375.1L528.3,378.6Z" fill="#62f450"/>
<path d="M575.3,385.5L569.2,382L574.8,378.4L580.8,382Z" fill="#51f458"/>
<path d="M511,382.3L504.9,378.9L510.5,375.2L516.6,378.7Z" fill="#63f450"/>
<path d="M563.7,385.5L557.6,381.9L563.2,378.4L569.2,382Z" fill="#55f456"/>
<path d="M604.3,389.3L598.3,385.7L603.8,382.2L609.8,385.8Z" fill="#46f567"/>
<path d="M499.3,382.5L493.2,379.1L498.8,375.4L504.9,378.9Z" fill="#62f450"/>
<path d="M487.7,382.8L481.5,379.4L487.1,375.7L493.2,379.1Z" fill="#61f451"/>
<path d="M552.1,385.5L546,382L551.6,378.4L557.6,381.9Z" fill="#58f454"/>
<path d="M476,383.1L469.8,379.7L475.4,376L481.5,379.4Z" fill="#60f452"/>
<path d="M592.8,389.2L586.8,385.6L592.3,382.1L598.3,385.7Z" fill="#48f45f"/>
<path d="M464.3,383.4L458.1,380L463.6,376.3L469.8,379.7Z" fill="#5df454"/>
<path d="M540.5,385.6L534.4,382.1L539.9,378.5L546,382Z" fill="#5bf453"/>
<path d="M581.3,389.1L575.3,385.5L580.8,382L586.8,385.6Z" fill="#4af45a"/>
<path d="M528.8,385.7L522.7,382.2L528.3,378.6L534.4,382.1Z" fill="#5df452"/>
<path d="M517.2,385.8L511,382.3L516.6,378.7L522.7,382.2Z" fill="#5df452"/>
<path d="M610.3,392.9L604.3,389.3L609.8,385.8L615.8,389.5Z" fill="#43f46e"/>
<path d="M569.8,389L563.7,385.5L569.2,382L575.3,385.5Z" fill="#4ff458"/>
<path d="M505.5,386L499.3,382.5L504.9,378.9L511,382.3Z" fill="#5ef452"/>
<path d="M493.8,386.2L487.7,382.8L493.2,379.1L499.3,382.5Z" fill="#5df452"/>
<path d="M558.2,389L552.1,385.5L557.6,381.9L563.7,385.5Z" fill="#52f456"/>
<path d="M598.8,392.7L592.8,389.2L598.3,385.7L604.3,389.3Z" fill="#45f567"/>
<path d="M482.1,386.4L476,383.1L481.5,379.4L487.7,382.8Z" fill="#5cf453"/>
<path d="M470.4,386.8L464.3,383.4L469.8,379.7L476,383.1Z" fill="#5af454"/>
<path d="M546.6,389.1L540.5,385.6L546,382L552.1,385.5Z" fill="#55f455"/>
<path d="M458.7,387.1L452.5,383.7L458.1,380L464.3,383.4Z" fill="#57f456"/>
<path d="M587.3,392.6L581.3,389.1L586.8,385.6L592.8,389.2Z" fill="#47f460"/>
<path d="M534.9,389.1L528.8,385.7L534.4,382.1L540.5,385.6Z" fill="#57f454"/>
<path d="M616.3,396.5L610.3,392.9L615.8,389.5L621.7,393.1Z" fill="#41f476"/>
<path d="M523.3,389.2L517.2,385.8L522.7,382.2L528.8,385.7Z" fill="#59f453"/>
<path d="M575.8,392.6L569.8,389L575.3,385.5L581.3,389.1Z" fill="#48f45b"/>
<path d="M511.6,389.4L505.5,386L511,382.3L517.2,385.8Z" fill="#59f453"/>
<path d="M564.2,392.5L558.2,389L563.7,385.5L569.8,389Z" fill="#4cf459"/>
<path d="M499.9,389.6L493.8,386.2L499.3,382.5L505.5,386Z" fill="#59f453"/>
<path d="M604.8,396.3L598.8,392.7L604.3,389.3L610.3,392.9Z" fill="#43f46e"/>
<path d="M488.3,389.8L482.1,386.4L487.7,382.8L493.8,386.2Z" fill="#59f454"/>
<path d="M552.6,392.6L546.6,389.1L552.1,385.5L558.2,389Z" fill="#50f456"/>
<path d="M476.6,390.1L470.4,386.8L476,383.1L482.1,386.4Z" fill="#56f455"/>
<path d="M464.9,390.4L458.7,387.1L464.3,383.4L470.4,386.8Z" fill="#54f456"/>
<path d="M593.4,396.2L587.3,392.6L592.8,389.2L598.8,392.7Z" fill="#45f467"/>
<path d="M453.2,390.8L447,387.5L452.5,383.7L458.7,387.1Z" fill="#50f459"/>
<path d="M541,392.6L534.9,389.1L540.5,385.6L546.6,389.1Z" fill="#52f455"/>
<path d="M622.3,400.1L616.3,396.5L621.7,393.1L627.7,396.7Z" fill="#3ff57d"/>
<path d="M581.8,396.1L575.8,392.6L581.3,389.1L587.3,392.6Z" fill="#45f461"/>
<path d="M529.4,392.7L523.3,389.2L528.8,385.7L534.9,389.1Z" fill="#54f454"/>
<path d="M517.7,392.8L511.6,389.4L517.2,385.8L523.3,389.2Z" fill="#55f454"/>
<path d="M610.8,399.9L604.8,396.3L610.3,392.9L616.3,396.5Z" fill="#40f475"/>
<path d="M570.3,396.1L564.2,392.5L569.8,389L575.8,392.6Z" fill="#47f45b"/>
<path d="M506.1,393L499.9,389.6L505.5,386L511.6,389.4Z" fill="#55f454"/>
<path d="M494.4,393.2L488.3,389.8L493.8,386.2L499.9,389.6Z" fill="#55f455"/>
<path d="M558.7,396.1L552.6,392.6L558.2,389L564.2,392.5Z" fill="#4af459"/>
<path d="M599.4,399.8L593.4,396.2L598.8,392.7L604.8,396.3Z" fill="#42f46e"/>
<path d="M482.7,393.5L476.6,390.1L482.1,386.4L488.3,389.8Z" fill="#53f456"/>
<path d="M471,393.8L464.9,390.4L470.4,386.8L476.6,390.1Z" fill="#51f457"/>
<path d="M547.1,396.1L541,392.6L546.6,389.1L552.6,392.6Z" fill="#4df457"/>
<path d="M459.3,394.2L453.2,390.8L458.7,387.1L464.9,390.4Z" fill="#4ef459"/>
<path d="M628.2,403.7L622.3,400.1L627.7,396.7L633.6,400.3Z" fill="#3df587"/>
<path d="M447.7,394.5L441.5,391.2L447,387.5L453.2,390.8Z" fill="#4af45b"/>
<path d="M587.9,399.7L581.8,396.1L587.3,392.6L593.4,396.2Z" fill="#44f467"/>
<path d="M535.5,396.2L529.4,392.7L534.9,389.1L541,392.6Z" fill="#4ff456"/>
<path d="M616.8,403.5L610.8,399.9L616.3,396.5L622.3,400.1Z" fill="#3ef57c"/>
<path d="M523.9,396.3L517.7,392.8L523.3,389.2L529.4,392.7Z" fill="#50f455"/>
<path d="M576.3,399.6L570.3,396.1L575.8,392.6L581.8,396.1Z" fill="#45f461"/>
<path d="M512.2,396.4L506.1,393L511.6,389.4L517.7,392.8Z" fill="#51f455"/>
<path d="M564.8,399.6L558.7,396.1L564.2,392.5L570.3,396.1Z" fill="#46f45c"/>
<path d="M500.5,396.6L494.4,393.2L499.9,389.6L506.1,393Z" fill="#51f455"/>
<path d="M605.4,403.3L599.4,399.8L604.8,396.3L610.8,399.9Z" fill="#40f474"/>
<path d="M488.9,396.9L482.7,393.5L488.3,389.8L494.4,393.2Z" fill="#50f456"/>
<path d="M634.2,407.3L628.2,403.7L633.6,400.3L639.6,404Z" fill="#3cf593"/>
<path d="M477.2,397.2L471,393.8L476.6,390.1L482.7,393.5Z" fill="#4ef457"/>
<path d="M553.2,399.6L547.1,396.1L552.6,392.6L558.7,396.1Z" fill="#47f459"/>
<path d="M465.5,397.5L459.3,394.2L464.9,390.4L471,393.8Z" fill="#4bf459"/>
<path d="M593.9,403.2L587.9,399.7L593.4,396.2L599.4,399.8Z" fill="#41f46d"/>
<path d="M453.8,397.9L447.7,394.5L453.2,390.8L459.3,394.2Z" fill="#48f45b"/>
<path d="M442.1,398.3L436,395L441.5,391.2L447.7,394.5Z" fill="#47f460"/>
<path d="M541.6,399.6L535.5,396.2L541,392.6L547.1,396.1Z" fill="#4af458"/>
<path d="M622.8,407.1L616.8,403.5L622.3,400.1L628.2,403.7Z" fill="#3cf586"/>
<path d="M582.4,403.1L576.3,399.6L581.8,396.1L587.9,399.7Z" fill="#42f467"/>
<path d="M530,399.7L523.9,396.3L529.4,392.7L535.5,396.2Z" fill="#4bf457"/>
<path d="M518.3,399.9L512.2,396.4L517.7,392.8L523.9,396.3Z" fill="#4cf457"/>
<path d="M570.9,403.1L564.8,399.6L570.3,396.1L576.3,399.6Z" fill="#44f462"/>
<path d="M611.4,406.9L605.4,403.3L610.8,399.9L616.8,403.5Z" fill="#3df57b"/>
<path d="M506.7,400L500.5,396.6L506.1,393L512.2,396.4Z" fill="#4df457"/>
<path d="M640.1,411L634.2,407.3L639.6,404L645.5,407.6Z" fill="#3bf59f"/>
<path d="M495,400.3L488.9,396.9L494.4,393.2L500.5,396.6Z" fill="#4df457"/>
<path d="M559.3,403.1L553.2,399.6L558.7,396.1L564.8,399.6Z" fill="#45f45d"/>
<path d="M483.3,400.5L477.2,397.2L482.7,393.5L488.9,396.9Z" fill="#4bf458"/>
<path d="M599.9,406.8L593.9,403.2L599.4,399.8L605.4,403.3Z" fill="#3ff474"/>
<path d="M471.6,400.8L465.5,397.5L471,393.8L477.2,397.2Z" fill="#49f459"/>
<path d="M460,401.2L453.8,397.9L459.3,394.2L465.5,397.5Z" fill="#47f45c"/>
<path d="M547.7,403.1L541.6,399.6L547.1,396.1L553.2,399.6Z" fill="#46f45a"/>
<path d="M448.3,401.6L442.1,398.3L447.7,394.5L453.8,397.9Z" fill="#46f461"/>
<path d="M628.8,410.7L622.8,407.1L628.2,403.7L634.2,407.3Z" fill="#3bf591"/>
<path d="M436.6,402L430.5,398.7L436,395L442.1,398.3Z" fill="#45f566"/>
<path d="M588.4,406.6L582.4,403.1L587.9,399.7L593.9,403.2Z" fill="#41f46d"/>
<path d="M536.1,403.2L530,399.7L535.5,396.2L541.6,399.6Z" fill="#47f458"/>
<path d="M524.4,403.3L518.3,399.9L523.9,396.3L530,399.7Z" fill="#49f458"/>
<path d="M617.4,410.5L611.4,406.9L616.8,403.5L622.8,407.1Z" fill="#3cf583"/>
<path d="M576.9,406.6L570.9,403.1L576.3,399.6L582.4,403.1Z" fill="#42f467"/>
<path d="M646,414.6L640.1,411L645.5,407.6L651.4,411.3Z" fill="#3af5ac"/>
<path d="M512.8,403.4L506.7,400L512.2,396.4L518.3,399.9Z" fill="#49f458"/>
<path d="M565.4,406.5L559.3,403.1L564.8,399.6L570.9,403.1Z" fill="#43f463"/>
<path d="M501.1,403.6L495,400.3L500.5,396.6L506.7,400Z" fill="#49f458"/>
<path d="M605.9,410.3L599.9,406.8L605.4,403.3L611.4,406.9Z" fill="#3df57a"/>
<path d="M489.5,403.9L483.3,400.5L488.9,396.9L495,400.3Z" fill="#48f459"/>
<path d="M477.8,404.2L471.6,400.8L477.2,397.2L483.3,400.5Z" fill="#47f45a"/>
<path d="M634.7,414.3L628.8,410.7L634.2,407.3L640.1,411Z" fill="#3af59c"/>
<path d="M553.8,406.5L547.7,403.1L553.2,399.6L559.3,403.1Z" fill="#44f45f"/>
<path d="M466.1,404.5L460,401.2L465.5,397.5L471.6,400.8Z" fill="#46f45d"/>
<path d="M594.5,410.2L588.4,406.6L593.9,403.2L599.9,406.8Z" fill="#3ef473"/>
<path d="M454.5,404.9L448.3,401.6L453.8,397.9L460,401.2Z" fill="#45f461"/>
<path d="M442.8,405.3L436.6,402L442.1,398.3L448.3,401.6Z" fill="#44f466"/>
<path d="M431.1,405.7L425,402.5L430.5,398.7L436.6,402Z" fill="#43f46c"/>
<path d="M542.2,406.6L536.1,403.2L541.6,399.6L547.7,403.1Z" fill="#45f45c"/>
<path d="M623.4,414.1L617.4,410.5L622.8,407.1L628.8,410.7Z" fill="#3bf58e"/>
<path d="M530.6,406.7L524.4,403.3L530,399.7L536.1,403.2Z" fill="#45f45a"/>
<path d="M583,410.1L576.9,406.6L582.4,403.1L588.4,406.6Z" fill="#40f46c"/>
<path d="M652,418.2L646,414.6L651.4,411.3L657.3,414.9Z" fill="#39f5b8"/>
<path d="M518.9,406.8L512.8,403.4L518.3,399.9L524.4,403.3Z" fill="#46f458"/>
<path d="M571.4,410L565.4,406.5L570.9,403.1L576.9,406.6Z" fill="#41f467"/>
<path d="M611.9,413.9L605.9,410.3L611.4,406.9L617.4,410.5Z" fill="#3bf581"/>
<path d="M507.3,407L501.1,403.6L506.7,400L512.8,403.4Z" fill="#46f459"/>
<path d="M640.7,417.9L634.7,414.3L640.1,411L646,414.6Z" fill="#3af5a8"/>
<path d="M495.6,407.2L489.5,403.9L495,400.3L501.1,403.6Z" fill="#46f459"/>
<path d="M559.9,410L553.8,406.5L559.3,403.1L565.4,406.5Z" fill="#42f463"/>
<path d="M484,407.5L477.8,404.2L483.3,400.5L489.5,403.9Z" fill="#45f45c"/>
<path d="M600.5,413.7L594.5,410.2L599.9,406.8L605.9,410.3Z" fill="#3df579"/>
<path d="M472.3,407.8L466.1,404.5L471.6,400.8L477.8,404.2Z" fill="#45f45e"/>
<path d="M460.6,408.2L454.5,404.9L460,401.2L466.1,404.5Z" fill="#44f462"/>
<path d="M548.3,410L542.2,406.6L547.7,403.1L553.8,406.5Z" fill="#43f460"/>
<path d="M448.9,408.6L442.8,405.3L448.3,401.6L454.5,404.9Z" fill="#44f466"/>
<path d="M437.3,409L431.1,405.7L436.6,402L442.8,405.3Z" fill="#42f46c"/>
<path d="M425.6,409.5L419.5,406.2L425,402.5L431.1,405.7Z" fill="#41f472"/>
<path d="M629.3,417.7L623.4,414.1L628.8,410.7L634.7,414.3Z" fill="#3af598"/>
<path d="M589,413.6L583,410.1L588.4,406.6L594.5,410.2Z" fill="#3ef472"/>
<path d="M536.7,410.1L530.6,406.7L536.1,403.2L542.2,406.6Z" fill="#44f45d"/>
<path d="M525.1,410.2L518.9,406.8L524.4,403.3L530.6,406.7Z" fill="#44f45c"/>
<path d="M617.9,417.4L611.9,413.9L617.4,410.5L623.4,414.1Z" fill="#3af58a"/>
<path d="M577.5,413.5L571.4,410L576.9,406.6L583,410.1Z" fill="#3ff46d"/>
<path d="M513.4,410.4L507.3,407L512.8,403.4L518.9,406.8Z" fill="#44f45b"/>
<path d="M646.6,421.5L640.7,417.9L646,414.6L652,418.2Z" fill="#39f5b3"/>
<path d="M501.8,410.6L495.6,407.2L501.1,403.6L507.3,407Z" fill="#44f45c"/>
<path d="M566,413.5L559.9,410L565.4,406.5L571.4,410Z" fill="#40f467"/>
<path d="M606.5,417.2L600.5,413.7L605.9,410.3L611.9,413.9Z" fill="#3af57f"/>
<path d="M490.1,410.8L484,407.5L489.5,403.9L495.6,407.2Z" fill="#44f45d"/>
<path d="M478.4,411.1L472.3,407.8L477.8,404.2L484,407.5Z" fill="#44f460"/>
<path d="M554.4,413.5L548.3,410L553.8,406.5L559.9,410Z" fill="#41f464"/>
<path d="M635.3,421.2L629.3,417.7L634.7,414.3L640.7,417.9Z" fill="#39f5a3"/>
<path d="M466.8,411.5L460.6,408.2L466.1,404.5L472.3,407.8Z" fill="#44f463"/>
<path d="M455.1,411.8L448.9,408.6L454.5,404.9L460.6,408.2Z" fill="#43f466"/>
<path d="M595,417.1L589,413.6L594.5,410.2L600.5,413.7Z" fill="#3cf577"/>
<path d="M443.4,412.2L437.3,409L442.8,405.3L448.9,408.6Z" fill="#41f46c"/>
<path d="M420.1,413.2L414,410L419.5,406.2L425.6,409.5Z" fill="#3ff579"/>
<path d="M431.8,412.7L425.6,409.5L431.1,405.7L437.3,409Z" fill="#40f472"/>
<path d="M542.8,413.5L536.7,410.1L542.2,406.6L548.3,410Z" fill="#42f461"/>
<path d="M623.9,421L617.9,417.4L623.4,414.1L629.3,417.7Z" fill="#39f595"/>
<path d="M531.2,413.6L525.1,410.2L530.6,406.7L536.7,410.1Z" fill="#42f45f"/>
<path d="M583.6,417L577.5,413.5L583,410.1L589,413.6Z" fill="#3df471"/>
<path d="M519.5,413.8L513.4,410.4L518.9,406.8L525.1,410.2Z" fill="#43f45e"/>
<path d="M572,417L566,413.5L571.4,410L577.5,413.5Z" fill="#3ff46c"/>
<path d="M612.5,420.8L606.5,417.2L611.9,413.9L617.9,417.4Z" fill="#3af588"/>
<path d="M507.9,414L501.8,410.6L507.3,407L513.4,410.4Z" fill="#43f45d"/>
<path d="M496.2,414.2L490.1,410.8L495.6,407.2L501.8,410.6Z" fill="#43f45f"/>
<path d="M641.3,424.8L635.3,421.2L640.7,417.9L646.6,421.5Z" fill="#38f5ae"/>
<path d="M560.5,416.9L554.4,413.5L559.9,410L566,413.5Z" fill="#40f468"/>
<path d="M484.6,414.4L478.4,411.1L484,407.5L490.1,410.8Z" fill="#43f460"/>
<path d="M601.1,420.6L595,417.1L600.5,413.7L606.5,417.2Z" fill="#3af57d"/>
<path d="M472.9,414.8L466.8,411.5L472.3,407.8L478.4,411.1Z" fill="#42f463"/>
<path d="M461.3,415.1L455.1,411.8L460.6,408.2L466.8,411.5Z" fill="#41f467"/>
<path d="M548.9,417L542.8,413.5L548.3,410L554.4,413.5Z" fill="#41f464"/>
<path d="M449.6,415.5L443.4,412.2L448.9,408.6L455.1,411.8Z" fill="#41f46b"/>
<path d="M414.6,417L408.5,413.8L414,410L420.1,413.2Z" fill="#3df57f"/>
<path d="M437.9,415.9L431.8,412.7L437.3,409L443.4,412.2Z" fill="#40f471"/>
<path d="M426.3,416.4L420.1,413.2L425.6,409.5L431.8,412.7Z" fill="#3ef577"/>
<path d="M629.9,424.6L623.9,421L629.3,417.7L635.3,421.2Z" fill="#38f59e"/>
<path d="M589.6,420.5L583.6,417L589,413.6L595,417.1Z" fill="#3cf576"/>
<path d="M537.3,417L531.2,413.6L536.7,410.1L542.8,413.5Z" fill="#41f462"/>
<path d="M525.7,417.2L519.5,413.8L525.1,410.2L531.2,413.6Z" fill="#42f460"/>
<path d="M618.5,424.3L612.5,420.8L617.9,417.4L623.9,421Z" fill="#39f591"/>
<path d="M578.1,420.4L572,417L577.5,413.5L583.6,417Z" fill="#3df471"/>
<path d="M514,417.3L507.9,414L513.4,410.4L519.5,413.8Z" fill="#42f460"/>
<path d="M502.4,417.5L496.2,414.2L501.8,410.6L507.9,414Z" fill="#42f461"/>
<path d="M566.6,420.4L560.5,416.9L566,413.5L572,417Z" fill="#3ef46c"/>
<path d="M607.1,424.1L601.1,420.6L606.5,417.2L612.5,420.8Z" fill="#39f585"/>
<path d="M490.7,417.8L484.6,414.4L490.1,410.8L496.2,414.2Z" fill="#41f461"/>
<path d="M479.1,418.1L472.9,414.8L478.4,411.1L484.6,414.4Z" fill="#41f464"/>
<path d="M555,420.4L548.9,417L554.4,413.5L560.5,416.9Z" fill="#3ff468"/>
<path d="M635.9,428.1L629.9,424.6L635.3,421.2L641.3,424.8Z" fill="#38f5a9"/>
<path d="M467.4,418.4L461.3,415.1L466.8,411.5L472.9,414.8Z" fill="#41f467"/>
<path d="M455.7,418.8L449.6,415.5L455.1,411.8L461.3,415.1Z" fill="#40f46b"/>
<path d="M409.2,420.7L403,417.5L408.5,413.8L414.6,417Z" fill="#3cf588"/>
<path d="M444.1,419.2L437.9,415.9L443.4,412.2L449.6,415.5Z" fill="#3ff471"/>
<path d="M595.6,424L589.6,420.5L595,417.1L601.1,420.6Z" fill="#3af57c"/>
<path d="M420.8,420.1L414.6,417L420.1,413.2L426.3,416.4Z" fill="#3df57e"/>
<path d="M432.4,419.6L426.3,416.4L431.8,412.7L437.9,415.9Z" fill="#3df577"/>
<path d="M543.4,420.5L537.3,417L542.8,413.5L548.9,417Z" fill="#3ff465"/>
<path d="M624.5,427.9L618.5,424.3L623.9,421L629.9,424.6Z" fill="#38f59a"/>
<path d="M531.8,420.5L525.7,417.2L531.2,413.6L537.3,417Z" fill="#40f463"/>
<path d="M584.2,423.9L578.1,420.4L583.6,417L589.6,420.5Z" fill="#3bf575"/>
<path d="M520.2,420.7L514,417.3L519.5,413.8L525.7,417.2Z" fill="#40f462"/>
<path d="M572.6,423.8L566.6,420.4L572,417L578.1,420.4Z" fill="#3df470"/>
<path d="M508.5,420.9L502.4,417.5L507.9,414L514,417.3Z" fill="#40f462"/>
<path d="M613.1,427.7L607.1,424.1L612.5,420.8L618.5,424.3Z" fill="#38f58e"/>
<path d="M496.9,421.1L490.7,417.8L496.2,414.2L502.4,417.5Z" fill="#40f463"/>
<path d="M561.1,423.8L555,420.4L560.5,416.9L566.6,420.4Z" fill="#3ef46b"/>
<path d="M485.2,421.4L479.1,418.1L484.6,414.4L490.7,417.8Z" fill="#41f465"/>
<path d="M601.7,427.5L595.6,424L601.1,420.6L607.1,424.1Z" fill="#38f582"/>
<path d="M473.6,421.7L467.4,418.4L472.9,414.8L479.1,418.1Z" fill="#40f467"/>
<path d="M461.9,422L455.7,418.8L461.3,415.1L467.4,418.4Z" fill="#3ff46b"/>
<path d="M549.5,423.9L543.4,420.5L548.9,417L555,420.4Z" fill="#3ef468"/>
<path d="M450.2,422.4L444.1,419.2L449.6,415.5L455.7,418.8Z" fill="#3ef46f"/>
<path d="M415.3,423.9L409.2,420.7L414.6,417L420.8,420.1Z" fill="#3bf585"/>
<path d="M438.6,422.9L432.4,419.6L437.9,415.9L444.1,419.2Z" fill="#3df476"/>
<path d="M427,423.3L420.8,420.1L426.3,416.4L432.4,419.6Z" fill="#3cf57c"/>
<path d="M630.5,431.4L624.5,427.9L629.9,424.6L635.9,428.1Z" fill="#37f5a4"/>
<path d="M590.2,427.4L584.2,423.9L589.6,420.5L595.6,424Z" fill="#39f57a"/>
<path d="M537.9,423.9L531.8,420.5L537.3,417L543.4,420.5Z" fill="#3ff465"/>
<path d="M526.3,424L520.2,420.7L525.7,417.2L531.8,420.5Z" fill="#3ff464"/>
<path d="M578.7,427.3L572.6,423.8L578.1,420.4L584.2,423.9Z" fill="#3af574"/>
<path d="M619.1,431.2L613.1,427.7L618.5,424.3L624.5,427.9Z" fill="#37f596"/>
<path d="M514.7,424.2L508.5,420.9L514,417.3L520.2,420.7Z" fill="#40f464"/>
<path d="M503,424.4L496.9,421.1L502.4,417.5L508.5,420.9Z" fill="#40f464"/>
<path d="M567.2,427.3L561.1,423.8L566.6,420.4L572.6,423.8Z" fill="#3cf46f"/>
<path d="M607.7,431L601.7,427.5L607.1,424.1L613.1,427.7Z" fill="#38f58a"/>
<path d="M491.4,424.7L485.2,421.4L490.7,417.8L496.9,421.1Z" fill="#3ff466"/>
<path d="M479.7,424.9L473.6,421.7L479.1,418.1L485.2,421.4Z" fill="#3ff468"/>
<path d="M555.6,427.3L549.5,423.9L555,420.4L561.1,423.8Z" fill="#3df46c"/>
<path d="M468.1,425.3L461.9,422L467.4,418.4L473.6,421.7Z" fill="#3ef46b"/>
<path d="M456.4,425.7L450.2,422.4L455.7,418.8L461.9,422Z" fill="#3ef46f"/>
<path d="M444.8,426.1L438.6,422.9L444.1,419.2L450.2,422.4Z" fill="#3df474"/>
<path d="M421.5,427L415.3,423.9L420.8,420.1L427,423.3Z" fill="#3af582"/>
<path d="M433.1,426.5L427,423.3L432.4,419.6L438.6,422.9Z" fill="#3bf57a"/>
<path d="M596.3,430.9L590.2,427.4L595.6,424L601.7,427.5Z" fill="#38f57f"/>
<path d="M544,427.3L537.9,423.9L543.4,420.5L549.5,423.9Z" fill="#3df469"/>
<path d="M532.4,427.4L526.3,424L531.8,420.5L537.9,423.9Z" fill="#3ef466"/>
<path d="M625.1,434.7L619.1,431.2L624.5,427.9L630.5,431.4Z" fill="#36f59f"/>
<path d="M584.8,430.8L578.7,427.3L584.2,423.9L590.2,427.4Z" fill="#39f579"/>
<path d="M520.8,427.5L514.7,424.2L520.2,420.7L526.3,424Z" fill="#3ef465"/>
<path d="M573.3,430.7L567.2,427.3L572.6,423.8L578.7,427.3Z" fill="#3af473"/>
<path d="M509.2,427.7L503,424.4L508.5,420.9L514.7,424.2Z" fill="#3ef465"/>
<path d="M613.7,434.5L607.7,431L613.1,427.7L619.1,431.2Z" fill="#37f592"/>
<path d="M497.5,428L491.4,424.7L496.9,421.1L503,424.4Z" fill="#3ef466"/>
<path d="M561.7,430.7L555.6,427.3L561.1,423.8L567.2,427.3Z" fill="#3bf46f"/>
<path d="M485.9,428.2L479.7,424.9L485.2,421.4L491.4,424.7Z" fill="#3ef468"/>
<path d="M474.2,428.5L468.1,425.3L473.6,421.7L479.7,424.9Z" fill="#3ef46a"/>
<path d="M602.3,434.3L596.3,430.9L601.7,427.5L607.7,431Z" fill="#37f586"/>
<path d="M462.6,428.9L456.4,425.7L461.9,422L468.1,425.3Z" fill="#3df46e"/>
<path d="M550.1,430.7L544,427.3L549.5,423.9L555.6,427.3Z" fill="#3cf46b"/>
<path d="M450.9,429.3L444.8,426.1L450.2,422.4L456.4,425.7Z" fill="#3cf473"/>
<path d="M439.3,429.7L433.1,426.5L438.6,422.9L444.8,426.1Z" fill="#3bf579"/>
<path d="M427.6,430.2L421.5,427L427,423.3L433.1,426.5Z" fill="#3af57f"/>
<path d="M590.8,434.2L584.8,430.8L590.2,427.4L596.3,430.9Z" fill="#37f57d"/>
<path d="M538.6,430.8L532.4,427.4L537.9,423.9L544,427.3Z" fill="#3cf469"/>
<path d="M526.9,430.9L520.8,427.5L526.3,424L532.4,427.4Z" fill="#3df467"/>
<path d="M579.3,434.1L573.3,430.7L578.7,427.3L584.8,430.8Z" fill="#39f577"/>
<path d="M619.8,438L613.7,434.5L619.1,431.2L625.1,434.7Z" fill="#36f59a"/>
<path d="M515.3,431L509.2,427.7L514.7,424.2L520.8,427.5Z" fill="#3df467"/>
<path d="M503.7,431.3L497.5,428L503,424.4L509.2,427.7Z" fill="#3ef467"/>
<path d="M567.8,434.1L561.7,430.7L567.2,427.3L573.3,430.7Z" fill="#3af471"/>
<path d="M492,431.5L485.9,428.2L491.4,424.7L497.5,428Z" fill="#3df468"/>
<path d="M608.4,437.8L602.3,434.3L607.7,431L613.7,434.5Z" fill="#36f58e"/>
<path d="M480.4,431.8L474.2,428.5L479.7,424.9L485.9,428.2Z" fill="#3df46b"/>
<path d="M556.3,434.1L550.1,430.7L555.6,427.3L561.7,430.7Z" fill="#3bf46e"/>
<path d="M468.7,432.1L462.6,428.9L468.1,425.3L474.2,428.5Z" fill="#3cf46e"/>
<path d="M457.1,432.5L450.9,429.3L456.4,425.7L462.6,428.9Z" fill="#3bf472"/>
<path d="M445.4,432.9L439.3,429.7L444.8,426.1L450.9,429.3Z" fill="#3bf577"/>
<path d="M433.8,433.4L427.6,430.2L433.1,426.5L439.3,429.7Z" fill="#39f57d"/>
<path d="M596.9,437.7L590.8,434.2L596.3,430.9L602.3,434.3Z" fill="#36f583"/>
<path d="M544.7,434.1L538.6,430.8L544,427.3L550.1,430.7Z" fill="#3cf46b"/>
<path d="M533.1,434.2L526.9,430.9L532.4,427.4L538.6,430.8Z" fill="#3cf468"/>
<path d="M585.4,437.6L579.3,434.1L584.8,430.8L590.8,434.2Z" fill="#37f57a"/>
<path d="M521.5,434.4L515.3,431L520.8,427.5L526.9,430.9Z" fill="#3cf468"/>
<path d="M573.9,437.5L567.8,434.1L573.3,430.7L579.3,434.1Z" fill="#38f575"/>
<path d="M509.8,434.6L503.7,431.3L509.2,427.7L515.3,431Z" fill="#3cf468"/>
<path d="M614.4,441.3L608.4,437.8L613.7,434.5L619.8,438Z" fill="#35f595"/>
<path d="M498.2,434.8L492,431.5L497.5,428L503.7,431.3Z" fill="#3cf469"/>
<path d="M562.4,437.5L556.3,434.1L561.7,430.7L567.8,434.1Z" fill="#39f470"/>
<path d="M486.5,435L480.4,431.8L485.9,428.2L492,431.5Z" fill="#3cf46a"/>
<path d="M474.9,435.4L468.7,432.1L474.2,428.5L480.4,431.8Z" fill="#3bf46d"/>
<path d="M603,441.1L596.9,437.7L602.3,434.3L608.4,437.8Z" fill="#36f589"/>
<path d="M463.2,435.7L457.1,432.5L462.6,428.9L468.7,432.1Z" fill="#3bf471"/>
<path d="M451.6,436.1L445.4,432.9L450.9,429.3L457.1,432.5Z" fill="#3af576"/>
<path d="M550.8,437.5L544.7,434.1L550.1,430.7L556.3,434.1Z" fill="#3af46d"/>
<path d="M439.9,436.6L433.8,433.4L439.3,429.7L445.4,432.9Z" fill="#39f57b"/>
<path d="M539.2,437.6L533.1,434.2L538.6,430.8L544.7,434.1Z" fill="#3af46a"/>
<path d="M591.5,441L585.4,437.6L590.8,434.2L596.9,437.7Z" fill="#36f57f"/>
<path d="M527.6,437.7L521.5,434.4L526.9,430.9L533.1,434.2Z" fill="#3bf469"/>
<path d="M580,440.9L573.9,437.5L579.3,434.1L585.4,437.6Z" fill="#37f578"/>
<path d="M516,437.9L509.8,434.6L515.3,431L521.5,434.4Z" fill="#3bf469"/>
<path d="M504.3,438.1L498.2,434.8L503.7,431.3L509.8,434.6Z" fill="#3bf469"/>
<path d="M568.5,440.9L562.4,437.5L567.8,434.1L573.9,437.5Z" fill="#38f574"/>
<path d="M492.7,438.3L486.5,435L492,431.5L498.2,434.8Z" fill="#3bf46a"/>
<path d="M609,444.6L603,441.1L608.4,437.8L614.4,441.3Z" fill="#35f590"/>
<path d="M481,438.6L474.9,435.4L480.4,431.8L486.5,435Z" fill="#3bf46d"/>
<path d="M556.9,440.9L550.8,437.5L556.3,434.1L562.4,437.5Z" fill="#39f46f"/>
<path d="M469.4,438.9L463.2,435.7L468.7,432.1L474.9,435.4Z" fill="#3af470"/>
<path d="M457.7,439.3L451.6,436.1L457.1,432.5L463.2,435.7Z" fill="#39f574"/>
<path d="M446.1,439.7L439.9,436.6L445.4,432.9L451.6,436.1Z" fill="#38f579"/>
<path d="M597.6,444.4L591.5,441L596.9,437.7L603,441.1Z" fill="#35f585"/>
<path d="M545.3,440.9L539.2,437.6L544.7,434.1L550.8,437.5Z" fill="#3af46c"/>
<path d="M533.7,441L527.6,437.7L533.1,434.2L539.2,437.6Z" fill="#3af46a"/>
<path d="M586.1,444.3L580,440.9L585.4,437.6L591.5,441Z" fill="#35f57c"/>
<path d="M522.1,441.2L516,437.9L521.5,434.4L527.6,437.7Z" fill="#3bf469"/>
<path d="M574.6,444.3L568.5,440.9L573.9,437.5L580,440.9Z" fill="#36f576"/>
<path d="M510.5,441.3L504.3,438.1L509.8,434.6L516,437.9Z" fill="#3bf469"/>
<path d="M498.9,441.6L492.7,438.3L498.2,434.8L504.3,438.1Z" fill="#3bf46a"/>
<path d="M487.2,441.8L481,438.6L486.5,435L492.7,438.3Z" fill="#3af46b"/>
<path d="M563,444.3L556.9,440.9L562.4,437.5L568.5,440.9Z" fill="#38f472"/>
<path d="M475.6,442.1L469.4,438.9L474.9,435.4L481,438.6Z" fill="#39f46f"/>
<path d="M603.6,447.9L597.6,444.4L603,441.1L609,444.6Z" fill="#34f58b"/>
<path d="M463.9,442.5L457.7,439.3L463.2,435.7L469.4,438.9Z" fill="#39f473"/>
<path d="M452.3,442.9L446.1,439.7L451.6,436.1L457.7,439.3Z" fill="#38f577"/>
<path d="M551.5,444.3L545.3,440.9L550.8,437.5L556.9,440.9Z" fill="#38f46e"/>
<path d="M539.9,444.3L533.7,441L539.2,437.6L545.3,440.9Z" fill="#39f46b"/>
<path d="M592.2,447.8L586.1,444.3L591.5,441L597.6,444.4Z" fill="#34f581"/>
<path d="M528.3,444.5L522.1,441.2L527.6,437.7L533.7,441Z" fill="#39f46a"/>
<path d="M580.7,447.7L574.6,444.3L580,440.9L586.1,444.3Z" fill="#35f579"/>
<path d="M516.6,444.6L510.5,441.3L516,437.9L522.1,441.2Z" fill="#3af469"/>
<path d="M505,444.8L498.9,441.6L504.3,438.1L510.5,441.3Z" fill="#39f46a"/>
<path d="M569.1,447.6L563,444.3L568.5,440.9L574.6,444.3Z" fill="#36f574"/>
<path d="M493.4,445.1L487.2,441.8L492.7,438.3L498.9,441.6Z" fill="#39f46b"/>
<path d="M481.7,445.4L475.6,442.1L481,438.6L487.2,441.8Z" fill="#39f46d"/>
<path d="M557.6,447.6L551.5,444.3L556.9,440.9L563,444.3Z" fill="#37f470"/>
<path d="M470.1,445.7L463.9,442.5L469.4,438.9L475.6,442.1Z" fill="#39f471"/>
<path d="M458.4,446.1L452.3,442.9L457.7,439.3L463.9,442.5Z" fill="#38f575"/>
<path d="M598.2,451.2L592.2,447.8L597.6,444.4L603.6,447.9Z" fill="#34f586"/>
<path d="M546,447.7L539.9,444.3L545.3,440.9L551.5,444.3Z" fill="#38f46d"/>
<path d="M534.4,447.8L528.3,444.5L533.7,441L539.9,444.3Z" fill="#38f46b"/>
<path d="M586.8,451.1L580.7,447.7L586.1,444.3L592.2,447.8Z" fill="#34f57c"/>
<path d="M522.8,447.9L516.6,444.6L522.1,441.2L528.3,444.5Z" fill="#39f46a"/>
<path d="M511.2,448.1L505,444.8L510.5,441.3L516.6,444.6Z" fill="#39f46a"/>
<path d="M575.2,451L569.1,447.6L574.6,444.3L580.7,447.7Z" fill="#35f576"/>
<path d="M499.5,448.3L493.4,445.1L498.9,441.6L505,444.8Z" fill="#39f46a"/>
<path d="M487.9,448.6L481.7,445.4L487.2,441.8L493.4,445.1Z" fill="#39f46c"/>
<path d="M563.7,451L557.6,447.6L563,444.3L569.1,447.6Z" fill="#36f571"/>
<path d="M476.2,448.9L470.1,445.7L475.6,442.1L481.7,445.4Z" fill="#38f46f"/>
<path d="M464.6,449.2L458.4,446.1L463.9,442.5L470.1,445.7Z" fill="#37f573"/>
<path d="M552.1,451L546,447.7L551.5,444.3L557.6,447.6Z" fill="#37f46e"/>
<path d="M540.5,451.1L534.4,447.8L539.9,444.3L546,447.7Z" fill="#38f46b"/>
<path d="M592.8,454.5L586.8,451.1L592.2,447.8L598.2,451.2Z" fill="#33f581"/>
<path d="M528.9,451.2L522.8,447.9L528.3,444.5L534.4,447.8Z" fill="#38f46a"/>
<path d="M581.3,454.4L575.2,451L580.7,447.7L586.8,451.1Z" fill="#34f579"/>
<path d="M517.3,451.3L511.2,448.1L516.6,444.6L522.8,447.9Z" fill="#38f469"/>
<path d="M505.7,451.5L499.5,448.3L505,444.8L511.2,448.1Z" fill="#38f46a"/>
<path d="M569.8,454.3L563.7,451L569.1,447.6L575.2,451Z" fill="#35f573"/>
<path d="M494,451.8L487.9,448.6L493.4,445.1L499.5,448.3Z" fill="#38f46c"/>
<path d="M482.4,452.1L476.2,448.9L481.7,445.4L487.9,448.6Z" fill="#37f46e"/>
<path d="M470.7,452.4L464.6,449.2L470.1,445.7L476.2,448.9Z" fill="#37f471"/>
<path d="M558.3,454.3L552.1,451L557.6,447.6L563.7,451Z" fill="#36f46f"/>
<path d="M546.7,454.4L540.5,451.1L546,447.7L552.1,451Z" fill="#36f46c"/>
<path d="M535.1,454.5L528.9,451.2L534.4,447.8L540.5,451.1Z" fill="#37f46a"/>
<path d="M587.4,457.7L581.3,454.4L586.8,451.1L592.8,454.5Z" fill="#33f57c"/>
<path d="M523.5,454.6L517.3,451.3L522.8,447.9L528.9,451.2Z" fill="#37f469"/>
<path d="M511.9,454.8L505.7,451.5L511.2,448.1L517.3,451.3Z" fill="#37f469"/>
<path d="M575.9,457.7L569.8,454.3L575.2,451L581.3,454.4Z" fill="#34f575"/>
<path d="M500.2,455L494,451.8L499.5,448.3L505.7,451.5Z" fill="#37f46a"/>
<path d="M488.6,455.3L482.4,452.1L487.9,448.6L494,451.8Z" fill="#37f46c"/>
<path d="M564.4,457.7L558.3,454.3L563.7,451L569.8,454.3Z" fill="#35f571"/>
<path d="M476.9,455.6L470.7,452.4L476.2,448.9L482.4,452.1Z" fill="#37f46f"/>
<path d="M552.8,457.7L546.7,454.4L552.1,451L558.3,454.3Z" fill="#36f46e"/>
<path d="M541.2,457.7L535.1,454.5L540.5,451.1L546.7,454.4Z" fill="#36f46b"/>
<path d="M529.6,457.8L523.5,454.6L528.9,451.2L535.1,454.5Z" fill="#37f469"/>
<path d="M582,461L575.9,457.7L581.3,454.4L587.4,457.7Z" fill="#33f577"/>
<path d="M518,458L511.9,454.8L517.3,451.3L523.5,454.6Z" fill="#37f469"/>
<path d="M506.4,458.2L500.2,455L505.7,451.5L511.9,454.8Z" fill="#37f469"/>
<path d="M570.5,461L564.4,457.7L569.8,454.3L575.9,457.7Z" fill="#34f573"/>
<path d="M494.7,458.5L488.6,455.3L494,451.8L500.2,455Z" fill="#37f46b"/>
<path d="M483.1,458.8L476.9,455.6L482.4,452.1L488.6,455.3Z" fill="#36f46d"/>
<path d="M559,461L552.8,457.7L558.3,454.3L564.4,457.7Z" fill="#35f46f"/>
<path d="M547.4,461L541.2,457.7L546.7,454.4L552.8,457.7Z" fill="#36f46b"/>
<path d="M535.8,461.1L529.6,457.8L535.1,454.5L541.2,457.7Z" fill="#36f469"/>
<path d="M524.2,461.2L518,458L523.5,454.6L529.6,457.8Z" fill="#36f468"/>
<path d="M512.5,461.4L506.4,458.2L511.9,454.8L518,458Z" fill="#36f468"/>
<path d="M576.6,464.3L570.5,461L575.9,457.7L582,461Z" fill="#32f574"/>
<path d="M500.9,461.6L494.7,458.5L500.2,455L506.4,458.2Z" fill="#36f469"/>
<path d="M489.3,461.9L483.1,458.8L488.6,455.3L494.7,458.5Z" fill="#36f46b"/>
<path d="M565.1,464.3L559,461L564.4,457.7L570.5,461Z" fill="#33f56f"/>
<path d="M553.5,464.3L547.4,461L552.8,457.7L559,461Z" fill="#34f46c"/>
<path d="M541.9,464.4L535.8,461.1L541.2,457.7L547.4,461Z" fill="#35f469"/>
<path d="M530.3,464.5L524.2,461.2L529.6,457.8L535.8,461.1Z" fill="#35f467"/>
<path d="M518.7,464.6L512.5,461.4L518,458L524.2,461.2Z" fill="#35f466"/>
<path d="M507.1,464.8L500.9,461.6L506.4,458.2L512.5,461.4Z" fill="#36f467"/>
<path d="M571.2,467.6L565.1,464.3L570.5,461L576.6,464.3Z" fill="#33f570"/>
<path d="M495.4,465.1L489.3,461.9L494.7,458.5L500.9,461.6Z" fill="#36f469"/>
<path d="M559.7,467.6L553.5,464.3L559,461L565.1,464.3Z" fill="#34f46c"/>
<path d="M548.1,467.6L541.9,464.4L547.4,461L553.5,464.3Z" fill="#35f469"/>
<path d="M536.5,467.7L530.3,464.5L535.8,461.1L541.9,464.4Z" fill="#35f467"/>
<path d="M524.9,467.8L518.7,464.6L524.2,461.2L530.3,464.5Z" fill="#36f466"/>
<path d="M513.3,468L507.1,464.8L512.5,461.4L518.7,464.6Z" fill="#36f465"/>
<path d="M501.6,468.2L495.4,465.1L500.9,461.6L507.1,464.8Z" fill="#35f467"/>
<path d="M565.8,470.9L559.7,467.6L565.1,464.3L571.2,467.6Z" fill="#33f46c"/>
<path d="M554.3,470.9L548.1,467.6L553.5,464.3L559.7,467.6Z" fill="#34f469"/>
<path d="M542.7,470.9L536.5,467.7L541.9,464.4L548.1,467.6Z" fill="#34f466"/>
<path d="M531.1,471.1L524.9,467.8L530.3,464.5L536.5,467.7Z" fill="#35f465"/>
<path d="M519.4,471.2L513.3,468L518.7,464.6L524.9,467.8Z" fill="#35f464"/>
<path d="M507.8,471.4L501.6,468.2L507.1,464.8L513.3,468Z" fill="#35f464"/>
<path d="M560.4,474.1L554.3,470.9L559.7,467.6L565.8,470.9Z" fill="#33f469"/>
<path d="M548.8,474.2L542.7,470.9L548.1,467.6L554.3,470.9Z" fill="#33f466"/>
<path d="M537.2,474.3L531.1,471.1L536.5,467.7L542.7,470.9Z" fill="#34f463"/>
<path d="M525.6,474.4L519.4,471.2L524.9,467.8L531.1,471.1Z" fill="#34f463"/>
<path d="M514,474.6L507.8,471.4L513.3,468L519.4,471.2Z" fill="#35f462"/>
<path d="M555,477.4L548.8,474.2L554.3,470.9L560.4,474.1Z" fill="#33f465"/>
<path d="M543.4,477.5L537.2,474.3L542.7,470.9L548.8,474.2Z" fill="#34f462"/>
<path d="M531.8,477.6L525.6,474.4L531.1,471.1L537.2,474.3Z" fill="#34f461"/>
<path d="M520.2,477.7L514,474.6L519.4,471.2L525.6,474.4Z" fill="#35f460"/>
<path d="M549.6,480.7L543.4,477.5L548.8,474.2L555,477.4Z" fill="#33f461"/>
<path d="M538,480.8L531.8,477.6L537.2,474.3L543.4,477.5Z" fill="#34f45f"/>
<path d="M526.3,480.9L520.2,477.7L525.6,474.4L531.8,477.6Z" fill="#34f45e"/>
<path d="M544.2,484L538,480.8L543.4,477.5L549.6,480.7Z" fill="#33f45d"/>
<path d="M532.5,484.1L526.3,480.9L531.8,477.6L538,480.8Z" fill="#34f45c"/>
<path d="M538.7,487.2L532.5,484.1L538,480.8L544.2,484Z" fill="#34f459"/>
</g>
<circle cx="402.3" cy="418.2" r="2.4" fill="#f4c4c4" stroke="#a55" stroke-width="0.6"/>
<circle cx="525.2" cy="334.8" r="2.4" fill="#f4c4c4" stroke="#a55" stroke-width="0.6"/>
<circle cx="657.3" cy="415" r="2.4" fill="#c00000" stroke="#700" stroke-width="0.6"/>
<circle cx="537.6" cy="487.6" r="2.4" fill="#c00000" stroke="#700" stroke-width="0.6"/>
<circle cx="530.8" cy="408.7" r="2.0" fill="#c00000" stroke="#700" stroke-width="0.6"/>
<text font-size="9.3" text-anchor="end" fill="#383838" transform="translate(532.1,575) scale(1.0,1)">2</text>
<text font-size="9.3" text-anchor="end" fill="#383838" transform="translate(500.2,555.7) scale(1.0,1)">7.5</text>
<text font-size="9.3" text-anchor="end" fill="#383838" transform="translate(468.4,536.4) scale(1.0,1)">13</text>
<text font-size="9.3" text-anchor="end" fill="#383838" transform="translate(436.5,517) scale(1.0,1)">18.5</text>
<text font-size="9.3" text-anchor="end" fill="#383838" transform="translate(404.7,497.7) scale(1.0,1)">24</text>
<text font-size="9.3" text-anchor="start" fill="#383838" transform="translate(544.1,575.2) scale(1.0,1)">0.25</text>
<text font-size="9.3" text-anchor="start" fill="#383838" transform="translate(572.1,554.1) scale(1.0,1)">0.2</text>
<text font-size="9.3" text-anchor="start" fill="#383838" transform="translate(600.2,532.9) scale(1.0,1)">0.15</text>
<text font-size="9.3" text-anchor="start" fill="#383838" transform="translate(628.2,511.8) scale(1.0,1)">0.1</text>
<text font-size="9.3" text-anchor="start" fill="#383838" transform="translate(656.2,490.7) scale(1.0,1)">0.05</text>
<text font-size="9.3" text-anchor="end" fill="#383838" transform="translate(401.5,455.1) scale(1.0,1)">100</text>
<text font-size="9.3" text-anchor="end" fill="#383838" transform="translate(399.3,434.2) scale(1.0,1)">150</text>
<text font-size="9.3" text-anchor="end" fill="#383838" transform="translate(397,413.3) scale(1.0,1)">200</text>
<text font-size="9.3" text-anchor="end" fill="#383838" transform="translate(394.8,392.3) scale(1.0,1)">250</text>
<text font-size="9.3" text-anchor="end" fill="#383838" transform="translate(392.5,371.4) scale(1.0,1)">300</text>
<text font-size="9.3" text-anchor="end" fill="#383838" transform="translate(390.3,350.5) scale(1.0,1)">350</text>
<text font-size="9.3" text-anchor="middle" fill="#383838" transform="translate(432.1,561.9) scale(1.06,1)">A (h)</text>
<text font-size="9.3" text-anchor="middle" fill="#383838" transform="translate(641,554.5) scale(1.06,1)">C (wt%)</text>
<text font-size="9.3" text-anchor="middle" fill="#383838" transform="translate(363.2,424) rotate(-90) scale(0.92,1)">R1 (nm)</text>
<text x="398.8" y="328.5" font-family="Liberation Serif" font-weight="bold" font-size="19.5" fill="#000">(e)</text>
<polygon points="413.8,790.7 527.3,725.7 527.6,605.5 399.8,663.4" fill="#fff"/>
<polygon points="527.3,725.7 650.6,784.1 664.9,657.6 527.6,605.5" fill="#fff"/>
<path d="M410.6,761.6L527.4,698.3L653.9,755.3M408.4,742L527.4,679.7L656.1,735.7M406.3,722.3L527.5,661.2L658.3,716.2M404.1,702.7L527.5,642.6L660.5,696.7M402,683L527.6,624.1L662.7,677.1M399.8,663.4L527.6,605.5L664.9,657.6M439.8,745.8L431.8,648.9M469,730L463.7,634.4M498.2,714.1L495.7,620M628.6,743.9L637.4,647.2M603.3,732.5L610,636.8M578,721.1L582.5,626.3M552.7,709.7L555.1,615.9M413.8,790.7L399.8,663.4M527.3,725.7L527.6,605.5M650.6,784.1L664.9,657.6" stroke="#333" stroke-width="1" fill="none"/>
<polygon points="539.3,863.1 413.8,790.7 527.3,725.7 650.6,784.1" fill="#616161" stroke="#111" stroke-width="1.1" stroke-linejoin="round"/>
<polyline points="547.9,735.4 531.1,740.8 515.7,744.8 500.3,747.8 485.4,749.7" fill="none" stroke="#2378f6" stroke-width="1.8"/>
<polyline points="566.7,744.3 547.1,753.5 529.9,760.6 514.5,766 500.2,769.8 493.1,771.2 486.5,772.3 479.5,773 473,773.4 466.9,773.4 460.2,773.1 453.9,772.6 447,771.6" fill="none" stroke="#20cab7" stroke-width="1.8"/>
<polyline points="587.8,754.4 574.3,764.2 563.2,772.8 553.9,780.3 546.1,787.4 540,793.5 535.1,799.4 531.6,804.8 529.4,809.6 528.2,814.5 528.1,817 528.3,819.8 529.6,824.7 531.9,829.4 535.7,834.7 540.4,840 546.7,845.9 554.4,852.3" fill="none" stroke="#20d938" stroke-width="1.8"/>
<polyline points="609.1,764.4 600.8,773.9 594.5,782.5 589.7,790.6 587.7,794.8 586.2,798.8 585.1,802.5 584.3,806.5 583.9,810.3 583.8,813.9 584.1,817.9 584.7,821.6 585.7,825.5 587.1,829.2" fill="none" stroke="#a7e115" stroke-width="1.8"/>
<polyline points="630.7,774.7 626.3,783 623.2,790.7 621.1,798.3 620.1,805.8" fill="none" stroke="#ecaf1c" stroke-width="1.8"/>
<polyline points="413.8,790.7 539.3,863.1 650.6,784.1" fill="none" stroke="#111" stroke-width="1.1"/>
<circle cx="539.3" cy="863.1" r="1.45" fill="#111"/>
<circle cx="514.2" cy="848.6" r="1.45" fill="#111"/>
<circle cx="489.1" cy="834.1" r="1.45" fill="#111"/>
<circle cx="464" cy="819.6" r="1.45" fill="#111"/>
<circle cx="438.9" cy="805.1" r="1.45" fill="#111"/>
<circle cx="413.8" cy="790.7" r="1.45" fill="#111"/>
<circle cx="539.3" cy="863.1" r="1.45" fill="#111"/>
<circle cx="567.2" cy="843.3" r="1.45" fill="#111"/>
<circle cx="595" cy="823.6" r="1.45" fill="#111"/>
<circle cx="622.8" cy="803.8" r="1.45" fill="#111"/>
<circle cx="650.6" cy="784.1" r="1.45" fill="#111"/>
<circle cx="410.6" cy="761.6" r="1.45" fill="#111"/>
<circle cx="408.4" cy="742" r="1.45" fill="#111"/>
<circle cx="406.3" cy="722.3" r="1.45" fill="#111"/>
<circle cx="404.1" cy="702.7" r="1.45" fill="#111"/>
<circle cx="402" cy="683" r="1.45" fill="#111"/>
<circle cx="399.8" cy="663.4" r="1.45" fill="#111"/>
<g stroke="#141c0a" stroke-opacity=".88" stroke-width=".72" stroke-linejoin="round">
<path d="M527.9,691.5L521.5,691.9L527.4,690.3L533.8,689.7Z" fill="#2854f9"/>
<path d="M522,693.3L515.6,693.5L521.5,691.9L527.9,691.5Z" fill="#2861ff"/>
<path d="M534.3,691.1L527.9,691.5L533.8,689.7L540.2,689.1Z" fill="#2372ff"/>
<path d="M516,695.1L509.7,695.1L515.6,693.5L522,693.3Z" fill="#246eff"/>
<path d="M528.4,693.1L522,693.3L527.9,691.5L534.3,691.1Z" fill="#1f7dff"/>
<path d="M540.8,690.7L534.3,691.1L540.2,689.1L546.7,688.5Z" fill="#188fff"/>
<path d="M510.1,696.9L503.7,696.7L509.7,695.1L516,695.1Z" fill="#207cff"/>
<path d="M522.5,695.1L516,695.1L522,693.3L528.4,693.1Z" fill="#1b89ff"/>
<path d="M534.9,692.9L528.4,693.1L534.3,691.1L540.8,690.7Z" fill="#159aff"/>
<path d="M547.3,690.3L540.8,690.7L546.7,688.5L553.2,687.9Z" fill="#10adff"/>
<path d="M504.1,698.7L497.7,698.2L503.7,696.7L510.1,696.9Z" fill="#1c88ff"/>
<path d="M516.5,697.1L510.1,696.9L516,695.1L522.5,695.1Z" fill="#1794ff"/>
<path d="M528.9,695.1L522.5,695.1L528.4,693.1L534.9,692.9Z" fill="#12a3ff"/>
<path d="M541.4,692.7L534.9,692.9L540.8,690.7L547.3,690.3Z" fill="#11b5ff"/>
<path d="M553.8,689.8L547.3,690.3L553.2,687.9L559.8,687.2Z" fill="#11c9ff"/>
<path d="M498.2,700.4L491.8,699.8L497.7,698.2L504.1,698.7Z" fill="#1896ff"/>
<path d="M510.6,699.1L504.1,698.7L510.1,696.9L516.5,697.1Z" fill="#14a0ff"/>
<path d="M523,697.3L516.5,697.1L522.5,695.1L528.9,695.1Z" fill="#11adff"/>
<path d="M535.4,695.1L528.9,695.1L534.9,692.9L541.4,692.7Z" fill="#12bdff"/>
<path d="M547.9,692.5L541.4,692.7L547.3,690.3L553.8,689.8Z" fill="#12d0ff"/>
<path d="M560.4,689.4L553.8,689.8L559.8,687.2L566.4,686.6Z" fill="#12e5ff"/>
<path d="M492.2,702.2L485.8,701.4L491.8,699.8L498.2,700.4Z" fill="#14a3ff"/>
<path d="M504.6,701.1L498.2,700.4L504.1,698.7L510.6,699.1Z" fill="#12abff"/>
<path d="M517,699.5L510.6,699.1L516.5,697.1L523,697.3Z" fill="#12b7ff"/>
<path d="M529.5,697.5L523,697.3L528.9,695.1L535.4,695.1Z" fill="#12c5ff"/>
<path d="M542,695.1L535.4,695.1L541.4,692.7L547.9,692.5Z" fill="#12d5ff"/>
<path d="M554.5,692.2L547.9,692.5L553.8,689.8L560.4,689.4Z" fill="#13eaff"/>
<path d="M567,688.9L560.4,689.4L566.4,686.6L573,685.9Z" fill="#13f0d3"/>
<path d="M486.2,703.9L479.7,702.9L485.8,701.4L492.2,702.2Z" fill="#13afff"/>
<path d="M498.6,703L492.2,702.2L498.2,700.4L504.6,701.1Z" fill="#13b6ff"/>
<path d="M511.1,701.7L504.6,701.1L510.6,699.1L517,699.5Z" fill="#13c0ff"/>
<path d="M523.5,699.9L517,699.5L523,697.3L529.5,697.5Z" fill="#13ccff"/>
<path d="M536,697.7L529.5,697.5L535.4,695.1L542,695.1Z" fill="#13dcff"/>
<path d="M548.5,695L542,695.1L547.9,692.5L554.5,692.2Z" fill="#13edfb"/>
<path d="M561.1,691.9L554.5,692.2L560.4,689.4L567,688.9Z" fill="#14f1cb"/>
<path d="M492.6,705L486.2,703.9L492.2,702.2L498.6,703Z" fill="#14c1ff"/>
<path d="M480.1,705.7L473.7,704.4L479.7,702.9L486.2,703.9Z" fill="#14bcff"/>
<path d="M505.1,703.8L498.6,703L504.6,701.1L511.1,701.7Z" fill="#14c9ff"/>
<path d="M573.7,688.4L567,688.9L573,685.9L579.7,685.2Z" fill="#14f396"/>
<path d="M517.5,702.3L511.1,701.7L517,699.5L523.5,699.9Z" fill="#14d4ff"/>
<path d="M530,700.3L523.5,699.9L529.5,697.5L536,697.7Z" fill="#14e2ff"/>
<path d="M542.5,697.8L536,697.7L542,695.1L548.5,695Z" fill="#14eef1"/>
<path d="M555.1,695L548.5,695L554.5,692.2L561.1,691.9Z" fill="#14f1c4"/>
<path d="M567.7,691.6L561.1,691.9L567,688.9L573.7,688.4Z" fill="#15f393"/>
<path d="M486.6,706.9L480.1,705.7L486.2,703.9L492.6,705Z" fill="#15ccff"/>
<path d="M499.1,706L492.6,705L498.6,703L505.1,703.8Z" fill="#15d2ff"/>
<path d="M474.1,707.4L467.7,706L473.7,704.4L480.1,705.7Z" fill="#15c8ff"/>
<path d="M511.6,704.7L505.1,703.8L511.1,701.7L517.5,702.3Z" fill="#15dcff"/>
<path d="M524.1,702.9L517.5,702.3L523.5,699.9L530,700.3Z" fill="#15e8ff"/>
<path d="M580.4,687.9L573.7,688.4L579.7,685.2L586.4,684.5Z" fill="#16f360"/>
<path d="M536.6,700.6L530,700.3L536,697.7L542.5,697.8Z" fill="#15efe6"/>
<path d="M549.1,698L542.5,697.8L548.5,695L555.1,695Z" fill="#15f2bd"/>
<path d="M561.7,694.9L555.1,695L561.1,691.9L567.7,691.6Z" fill="#16f390"/>
<path d="M493.1,708.2L486.6,706.9L492.6,705L499.1,706Z" fill="#16dbff"/>
<path d="M480.6,708.9L474.1,707.4L480.1,705.7L486.6,706.9Z" fill="#16d6ff"/>
<path d="M505.6,707L499.1,706L505.1,703.8L511.6,704.7Z" fill="#16e4ff"/>
<path d="M468,709.2L461.6,707.5L467.7,706L474.1,707.4Z" fill="#16d4ff"/>
<path d="M574.4,691.3L567.7,691.6L573.7,688.4L580.4,687.9Z" fill="#18f361"/>
<path d="M518.1,705.5L511.6,704.7L517.5,702.3L524.1,702.9Z" fill="#16edfb"/>
<path d="M530.6,703.4L524.1,702.9L530,700.3L536.6,700.6Z" fill="#16efdc"/>
<path d="M543.1,701L536.6,700.6L542.5,697.8L549.1,698Z" fill="#16f3b7"/>
<path d="M587.1,687.4L580.4,687.9L586.4,684.5L593.2,683.7Z" fill="#1ef13a"/>
<path d="M555.7,698.1L549.1,698L555.1,695L561.7,694.9Z" fill="#17f38d"/>
<path d="M568.4,694.8L561.7,694.9L567.7,691.6L574.4,691.3Z" fill="#19f361"/>
<path d="M487.1,710.3L480.6,708.9L486.6,706.9L493.1,708.2Z" fill="#17e5ff"/>
<path d="M499.6,709.4L493.1,708.2L499.1,706L505.6,707Z" fill="#17ebff"/>
<path d="M474.5,710.8L468,709.2L474.1,707.4L480.6,708.9Z" fill="#17e1ff"/>
<path d="M512.1,708L505.6,707L511.6,704.7L518.1,705.5Z" fill="#17efee"/>
<path d="M462,710.9L455.5,709L461.6,707.5L468,709.2Z" fill="#17e0ff"/>
<path d="M524.6,706.2L518.1,705.5L524.1,702.9L530.6,703.4Z" fill="#17f0d2"/>
<path d="M581.1,691L574.4,691.3L580.4,687.9L587.1,687.4Z" fill="#1ff13b"/>
<path d="M537.2,704L530.6,703.4L536.6,700.6L543.1,701Z" fill="#17f3b0"/>
<path d="M549.8,701.3L543.1,701L549.1,698L555.7,698.1Z" fill="#18f38a"/>
<path d="M593.9,686.8L587.1,687.4L593.2,683.7L600,683Z" fill="#3ef126"/>
<path d="M562.4,698.2L555.7,698.1L561.7,694.9L568.4,694.8Z" fill="#1af361"/>
<path d="M493.6,711.8L487.1,710.3L493.1,708.2L499.6,709.4Z" fill="#18eef2"/>
<path d="M481,712.5L474.5,710.8L480.6,708.9L487.1,710.3Z" fill="#18edfe"/>
<path d="M506.1,710.6L499.6,709.4L505.6,707L512.1,708Z" fill="#18f0e0"/>
<path d="M468.5,712.8L462,710.9L468,709.2L474.5,710.8Z" fill="#18ebff"/>
<path d="M518.6,709L512.1,708L518.1,705.5L524.6,706.2Z" fill="#18f1c8"/>
<path d="M575.1,694.7L568.4,694.8L574.4,691.3L581.1,691Z" fill="#20f13e"/>
<path d="M455.9,712.6L449.4,710.5L455.5,709L462,710.9Z" fill="#18ecff"/>
<path d="M531.2,707L524.6,706.2L530.6,703.4L537.2,704Z" fill="#19f3aa"/>
<path d="M543.8,704.6L537.2,704L543.1,701L549.8,701.3Z" fill="#19f387"/>
<path d="M587.9,690.7L581.1,691L587.1,687.4L593.9,686.8Z" fill="#3cf129"/>
<path d="M556.4,701.7L549.8,701.3L555.7,698.1L562.4,698.2Z" fill="#1bf361"/>
<path d="M600.7,686.3L593.9,686.8L600,683L606.8,682.2Z" fill="#61f119"/>
<path d="M569.1,698.3L562.4,698.2L568.4,694.8L575.1,694.7Z" fill="#20f141"/>
<path d="M487.5,714.1L481,712.5L487.1,710.3L493.6,711.8Z" fill="#19f0e2"/>
<path d="M500.1,713.2L493.6,711.8L499.6,709.4L506.1,710.6Z" fill="#19f1d3"/>
<path d="M475,714.6L468.5,712.8L474.5,710.8L481,712.5Z" fill="#19efea"/>
<path d="M512.6,711.8L506.1,710.6L512.1,708L518.6,709Z" fill="#1af2be"/>
<path d="M462.4,714.7L455.9,712.6L462,710.9L468.5,712.8Z" fill="#19efec"/>
<path d="M525.2,710L518.6,709L524.6,706.2L531.2,707Z" fill="#1af3a3"/>
<path d="M449.8,714.3L443.3,712L449.4,710.5L455.9,712.6Z" fill="#19efe8"/>
<path d="M581.8,694.6L575.1,694.7L581.1,691L587.9,690.7Z" fill="#3af12b"/>
<path d="M537.8,707.8L531.2,707L537.2,704L543.8,704.6Z" fill="#1af384"/>
<path d="M550.4,705.1L543.8,704.6L549.8,701.3L556.4,701.7Z" fill="#1cf362"/>
<path d="M594.6,690.3L587.9,690.7L593.9,686.8L600.7,686.3Z" fill="#5bf21a"/>
<path d="M563.1,702L556.4,701.7L562.4,698.2L569.1,698.3Z" fill="#22f244"/>
<path d="M494.1,715.8L487.5,714.1L493.6,711.8L500.1,713.2Z" fill="#1bf2c6"/>
<path d="M481.5,716.5L475,714.6L481,712.5L487.5,714.1Z" fill="#1bf1d1"/>
<path d="M506.6,714.6L500.1,713.2L506.1,710.6L512.6,711.8Z" fill="#1bf3b5"/>
<path d="M468.9,716.8L462.4,714.7L468.5,712.8L475,714.6Z" fill="#1bf1d7"/>
<path d="M519.2,713L512.6,711.8L518.6,709L525.2,710Z" fill="#1bf39e"/>
<path d="M575.8,698.4L569.1,698.3L575.1,694.7L581.8,694.6Z" fill="#37f22e"/>
<path d="M607.6,685.7L600.7,686.3L606.8,682.2L613.7,681.4Z" fill="#87f21a"/>
<path d="M456.3,716.6L449.8,714.3L455.9,712.6L462.4,714.7Z" fill="#1bf1d5"/>
<path d="M531.8,711L525.2,710L531.2,707L537.8,707.8Z" fill="#1bf381"/>
<path d="M443.7,716L437.1,713.5L443.3,712L449.8,714.3Z" fill="#1af2cd"/>
<path d="M544.4,708.5L537.8,707.8L543.8,704.6L550.4,705.1Z" fill="#1df363"/>
<path d="M588.6,694.4L581.8,694.6L587.9,690.7L594.6,690.3Z" fill="#57f21c"/>
<path d="M557,705.6L550.4,705.1L556.4,701.7L563.1,702Z" fill="#23f246"/>
<path d="M601.5,690L594.6,690.3L600.7,686.3L607.6,685.7Z" fill="#80f21b"/>
<path d="M488.1,718.4L481.5,716.5L487.5,714.1L494.1,715.8Z" fill="#1cf3b9"/>
<path d="M500.6,717.4L494.1,715.8L500.1,713.2L506.6,714.6Z" fill="#1cf3ab"/>
<path d="M569.7,702.3L563.1,702L569.1,698.3L575.8,698.4Z" fill="#36f231"/>
<path d="M475.5,718.8L468.9,716.8L475,714.6L481.5,716.5Z" fill="#1cf3c2"/>
<path d="M513.2,716L506.6,714.6L512.6,711.8L519.2,713Z" fill="#1cf398"/>
<path d="M462.9,718.9L456.3,716.6L462.4,714.7L468.9,716.8Z" fill="#1cf3c3"/>
<path d="M525.8,714.2L519.2,713L525.2,710L531.8,711Z" fill="#1cf37e"/>
<path d="M450.2,718.5L443.7,716L449.8,714.3L456.3,716.6Z" fill="#1cf3be"/>
<path d="M538.4,712L531.8,711L537.8,707.8L544.4,708.5Z" fill="#1ef363"/>
<path d="M582.5,698.5L575.8,698.4L581.8,694.6L588.6,694.4Z" fill="#53f221"/>
<path d="M614.4,685.1L607.6,685.7L613.7,681.4L620.6,680.6Z" fill="#aef21c"/>
<path d="M437.5,717.7L430.9,714.9L437.1,713.5L443.7,716Z" fill="#1cf3b3"/>
<path d="M551,709.3L544.4,708.5L550.4,705.1L557,705.6Z" fill="#23f349"/>
<path d="M595.4,694.3L588.6,694.4L594.6,690.3L601.5,690Z" fill="#79f21d"/>
<path d="M563.7,706.1L557,705.6L563.1,702L569.7,702.3Z" fill="#33f234"/>
<path d="M494.6,720.2L488.1,718.4L494.1,715.8L500.6,717.4Z" fill="#1df4a2"/>
<path d="M482,720.9L475.5,718.8L481.5,716.5L488.1,718.4Z" fill="#1df3ad"/>
<path d="M507.2,719L500.6,717.4L506.6,714.6L513.2,716Z" fill="#1ef491"/>
<path d="M469.4,721.2L462.9,718.9L468.9,716.8L475.5,718.8Z" fill="#1df3b1"/>
<path d="M519.8,717.5L513.2,716L519.2,713L525.8,714.2Z" fill="#1ef47b"/>
<path d="M576.5,702.6L569.7,702.3L575.8,698.4L582.5,698.5Z" fill="#50f225"/>
<path d="M456.8,721L450.2,718.5L456.3,716.6L462.9,718.9Z" fill="#1df3b0"/>
<path d="M608.3,689.6L601.5,690L607.6,685.7L614.4,685.1Z" fill="#a5f21d"/>
<path d="M532.4,715.4L525.8,714.2L531.8,711L538.4,712Z" fill="#20f464"/>
<path d="M444.1,720.4L437.5,717.7L443.7,716L450.2,718.5Z" fill="#1df3a8"/>
<path d="M545,712.9L538.4,712L544.4,708.5L551,709.3Z" fill="#24f34c"/>
<path d="M589.3,698.5L582.5,698.5L588.6,694.4L595.4,694.3Z" fill="#73f21e"/>
<path d="M431.4,719.4L424.8,716.4L430.9,714.9L437.5,717.7Z" fill="#1df39b"/>
<path d="M557.7,710L551,709.3L557,705.6L563.7,706.1Z" fill="#32f237"/>
<path d="M621.4,684.5L614.4,685.1L620.6,680.6L627.5,679.8Z" fill="#d6f21d"/>
<path d="M488.6,723L482,720.9L488.1,718.4L494.6,720.2Z" fill="#1ff499"/>
<path d="M501.2,722.1L494.6,720.2L500.6,717.4L507.2,719Z" fill="#1ff48c"/>
<path d="M570.4,706.6L563.7,706.1L569.7,702.3L576.5,702.6Z" fill="#4cf228"/>
<path d="M476,723.5L469.4,721.2L475.5,718.8L482,720.9Z" fill="#1ff4a1"/>
<path d="M602.2,694.1L595.4,694.3L601.5,690L608.3,689.6Z" fill="#9af21e"/>
<path d="M513.8,720.7L507.2,719L513.2,716L519.8,717.5Z" fill="#1ff479"/>
<path d="M463.4,723.5L456.8,721L462.9,718.9L469.4,721.2Z" fill="#1ff4a3"/>
<path d="M526.4,718.9L519.8,717.5L525.8,714.2L532.4,715.4Z" fill="#21f464"/>
<path d="M450.7,723.1L444.1,720.4L450.2,718.5L456.8,721Z" fill="#1ff49e"/>
<path d="M539,716.6L532.4,715.4L538.4,712L545,712.9Z" fill="#26f34f"/>
<path d="M583.2,702.8L576.5,702.6L582.5,698.5L589.3,698.5Z" fill="#6cf21f"/>
<path d="M438,722.3L431.4,719.4L437.5,717.7L444.1,720.4Z" fill="#1ff494"/>
<path d="M615.2,689.2L608.3,689.6L614.4,685.1L621.4,684.5Z" fill="#caf21f"/>
<path d="M551.7,713.9L545,712.9L551,709.3L557.7,710Z" fill="#30f23a"/>
<path d="M425.2,721L418.6,717.9L424.8,716.4L431.4,719.4Z" fill="#1ff484"/>
<path d="M596.1,698.6L589.3,698.5L595.4,694.3L602.2,694.1Z" fill="#91f220"/>
<path d="M564.4,710.7L557.7,710L563.7,706.1L570.4,706.6Z" fill="#48f22c"/>
<path d="M495.2,725.1L488.6,723L494.6,720.2L501.2,722.1Z" fill="#20f487"/>
<path d="M482.6,725.8L476,723.5L482,720.9L488.6,723Z" fill="#20f491"/>
<path d="M507.8,723.9L501.2,722.1L507.2,719L513.8,720.7Z" fill="#21f476"/>
<path d="M470,726L463.4,723.5L469.4,721.2L476,723.5Z" fill="#20f495"/>
<path d="M520.4,722.3L513.8,720.7L519.8,717.5L526.4,718.9Z" fill="#23f465"/>
<path d="M628.3,683.9L621.4,684.5L627.5,679.8L634.5,678.9Z" fill="#f2e91f"/>
<path d="M457.3,725.9L450.7,723.1L456.8,721L463.4,723.5Z" fill="#20f494"/>
<path d="M577.2,707.1L570.4,706.6L576.5,702.6L583.2,702.8Z" fill="#65f221"/>
<path d="M533,720.2L526.4,718.9L532.4,715.4L539,716.6Z" fill="#26f352"/>
<path d="M609.1,693.9L602.2,694.1L608.3,689.6L615.2,689.2Z" fill="#bef220"/>
<path d="M444.6,725.3L438,722.3L444.1,720.4L450.7,723.1Z" fill="#20f48d"/>
<path d="M545.7,717.8L539,716.6L545,712.9L551.7,713.9Z" fill="#2ef23d"/>
<path d="M590,703.1L583.2,702.8L589.3,698.5L596.1,698.6Z" fill="#89f221"/>
<path d="M431.8,724.2L425.2,721L431.4,719.4L438,722.3Z" fill="#20f47f"/>
<path d="M558.4,714.8L551.7,713.9L557.7,710L564.4,710.7Z" fill="#45f230"/>
<path d="M622.1,688.8L615.2,689.2L621.4,684.5L628.3,683.9Z" fill="#eef020"/>
<path d="M419,722.7L412.3,719.3L418.6,717.9L425.2,721Z" fill="#20f46d"/>
<path d="M489.2,728.1L482.6,725.8L488.6,723L495.2,725.1Z" fill="#22f480"/>
<path d="M501.8,727.1L495.2,725.1L501.2,722.1L507.8,723.9Z" fill="#22f474"/>
<path d="M476.6,728.6L470,726L476,723.5L482.6,725.8Z" fill="#22f488"/>
<path d="M571.1,711.4L564.4,710.7L570.4,706.6L577.2,707.1Z" fill="#5ff222"/>
<path d="M514.4,725.7L507.8,723.9L513.8,720.7L520.4,722.3Z" fill="#24f466"/>
<path d="M602.9,698.6L596.1,698.6L602.2,694.1L609.1,693.9Z" fill="#b2f221"/>
<path d="M463.9,728.6L457.3,725.9L463.4,723.5L470,726Z" fill="#22f48a"/>
<path d="M527,723.9L520.4,722.3L526.4,718.9L533,720.2Z" fill="#28f355"/>
<path d="M451.2,728.2L444.6,725.3L450.7,723.1L457.3,725.9Z" fill="#22f486"/>
<path d="M539.7,721.6L533,720.2L539,716.6L545.7,717.8Z" fill="#2cf240"/>
<path d="M583.9,707.6L577.2,707.1L583.2,702.8L590,703.1Z" fill="#81f222"/>
<path d="M635.3,683.2L628.3,683.9L634.5,678.9L641.6,678.1Z" fill="#fcd421"/>
<path d="M438.5,727.4L431.8,724.2L438,722.3L444.6,725.3Z" fill="#22f47b"/>
<path d="M552.3,718.9L545.7,717.8L551.7,713.9L558.4,714.8Z" fill="#41f234"/>
<path d="M616,693.7L609.1,693.9L615.2,689.2L622.1,688.8Z" fill="#e2f222"/>
<path d="M425.7,726.1L419,722.7L425.2,721L431.8,724.2Z" fill="#23f46c"/>
<path d="M596.8,703.4L590,703.1L596.1,698.6L602.9,698.6Z" fill="#a7f223"/>
<path d="M565.1,715.7L558.4,714.8L564.4,710.7L571.1,711.4Z" fill="#5af227"/>
<path d="M495.8,730.3L489.2,728.1L495.2,725.1L501.8,727.1Z" fill="#24f471"/>
<path d="M483.2,731.1L476.6,728.6L482.6,725.8L489.2,728.1Z" fill="#24f47b"/>
<path d="M508.4,729.2L501.8,727.1L507.8,723.9L514.4,725.7Z" fill="#26f466"/>
<path d="M470.5,731.3L463.9,728.6L470,726L476.6,728.6Z" fill="#23f480"/>
<path d="M521,727.6L514.4,725.7L520.4,722.3L527,723.9Z" fill="#29f358"/>
<path d="M412.8,724.3L406.1,720.7L412.3,719.3L419,722.7Z" fill="#25f35e"/>
<path d="M629.1,688.4L622.1,688.8L628.3,683.9L635.3,683.2Z" fill="#f8dd22"/>
<path d="M457.9,731.2L451.2,728.2L457.3,725.9L463.9,728.6Z" fill="#23f47f"/>
<path d="M577.9,712.1L571.1,711.4L577.2,707.1L583.9,707.6Z" fill="#78f224"/>
<path d="M533.7,725.5L527,723.9L533,720.2L539.7,721.6Z" fill="#2df244"/>
<path d="M609.8,698.7L602.9,698.6L609.1,693.9L616,693.7Z" fill="#d4f223"/>
<path d="M445.1,730.5L438.5,727.4L444.6,725.3L451.2,728.2Z" fill="#23f477"/>
<path d="M546.3,723L539.7,721.6L545.7,717.8L552.3,718.9Z" fill="#3ef238"/>
<path d="M432.4,729.5L425.7,726.1L431.8,724.2L438.5,727.4Z" fill="#24f46d"/>
<path d="M590.7,708.1L583.9,707.6L590,703.1L596.8,703.4Z" fill="#9bf224"/>
<path d="M559,720.1L552.3,718.9L558.4,714.8L565.1,715.7Z" fill="#55f22c"/>
<path d="M642.4,682.6L635.3,683.2L641.6,678.1L648.6,677.2Z" fill="#ffb923"/>
<path d="M622.9,693.5L616,693.7L622.1,688.8L629.1,688.4Z" fill="#f4e624"/>
<path d="M489.8,733.6L483.2,731.1L489.2,728.1L495.8,730.3Z" fill="#25f470"/>
<path d="M419.5,728L412.8,724.3L419,722.7L425.7,726.1Z" fill="#27f360"/>
<path d="M502.4,732.6L495.8,730.3L501.8,727.1L508.4,729.2Z" fill="#27f467"/>
<path d="M477.1,734.1L470.5,731.3L476.6,728.6L483.2,731.1Z" fill="#25f476"/>
<path d="M515,731.2L508.4,729.2L514.4,725.7L521,727.6Z" fill="#2af35b"/>
<path d="M571.8,716.7L565.1,715.7L571.1,711.4L577.9,712.1Z" fill="#70f225"/>
<path d="M464.5,734.1L457.9,731.2L463.9,728.6L470.5,731.3Z" fill="#25f478"/>
<path d="M603.7,703.6L596.8,703.4L602.9,698.6L609.8,698.7Z" fill="#c6f225"/>
<path d="M527.7,729.4L521,727.6L527,723.9L533.7,725.5Z" fill="#2ef24a"/>
<path d="M451.8,733.7L445.1,730.5L451.2,728.2L457.9,731.2Z" fill="#25f474"/>
<path d="M540.3,727.1L533.7,725.5L539.7,721.6L546.3,723Z" fill="#3bf23d"/>
<path d="M584.6,712.8L577.9,712.1L583.9,707.6L590.7,708.1Z" fill="#91f226"/>
<path d="M439,732.9L432.4,729.5L438.5,727.4L445.1,730.5Z" fill="#26f46c"/>
<path d="M636.1,687.9L629.1,688.4L635.3,683.2L642.4,682.6Z" fill="#ffc724"/>
<path d="M553,724.4L546.3,723L552.3,718.9L559,720.1Z" fill="#4ff232"/>
<path d="M616.7,698.7L609.8,698.7L616,693.7L622.9,693.5Z" fill="#f0ef25"/>
<path d="M426.2,731.6L419.5,728L425.7,726.1L432.4,729.5Z" fill="#29f361"/>
<path d="M565.8,721.2L559,720.1L565.1,715.7L571.8,716.7Z" fill="#68f227"/>
<path d="M597.5,708.5L590.7,708.1L596.8,703.4L603.7,703.6Z" fill="#b8f226"/>
<path d="M496.4,736.1L489.8,733.6L495.8,730.3L502.4,732.6Z" fill="#29f467"/>
<path d="M483.8,736.8L477.1,734.1L483.2,731.1L489.8,733.6Z" fill="#28f46f"/>
<path d="M509,734.9L502.4,732.6L508.4,729.2L515,731.2Z" fill="#2cf35d"/>
<path d="M471.1,737.1L464.5,734.1L470.5,731.3L477.1,734.1Z" fill="#27f471"/>
<path d="M521.7,733.3L515,731.2L521,727.6L527.7,729.4Z" fill="#2ef24e"/>
<path d="M458.4,736.9L451.8,733.7L457.9,731.2L464.5,734.1Z" fill="#28f471"/>
<path d="M534.3,731.2L527.7,729.4L533.7,725.5L540.3,727.1Z" fill="#38f241"/>
<path d="M649.4,681.9L642.4,682.6L648.6,677.2L655.7,676.3Z" fill="#ff9a26"/>
<path d="M578.6,717.6L571.8,716.7L577.9,712.1L584.6,712.8Z" fill="#88f227"/>
<path d="M629.9,693.3L622.9,693.5L629.1,688.4L636.1,687.9Z" fill="#fdd426"/>
<path d="M445.7,736.3L439,732.9L445.1,730.5L451.8,733.7Z" fill="#29f46b"/>
<path d="M610.5,703.8L603.7,703.6L609.8,698.7L616.7,698.7Z" fill="#e5f227"/>
<path d="M547,728.7L540.3,727.1L546.3,723L553,724.4Z" fill="#4bf237"/>
<path d="M432.9,735.2L426.2,731.6L432.4,729.5L439,732.9Z" fill="#29f363"/>
<path d="M591.4,713.5L584.6,712.8L590.7,708.1L597.5,708.5Z" fill="#abf228"/>
<path d="M559.7,725.7L553,724.4L559,720.1L565.8,721.2Z" fill="#61f22a"/>
<path d="M643.1,687.5L636.1,687.9L642.4,682.6L649.4,681.9Z" fill="#ffac26"/>
<path d="M490.4,739.5L483.8,736.8L489.8,733.6L496.4,736.1Z" fill="#2bf369"/>
<path d="M503,738.5L496.4,736.1L502.4,732.6L509,734.9Z" fill="#2cf360"/>
<path d="M477.8,740L471.1,737.1L477.1,734.1L483.8,736.8Z" fill="#2af46e"/>
<path d="M623.6,698.7L616.7,698.7L622.9,693.5L629.9,693.3Z" fill="#f8de27"/>
<path d="M515.7,737.1L509,734.9L515,731.2L521.7,733.3Z" fill="#2ff353"/>
<path d="M572.5,722.3L565.8,721.2L571.8,716.7L578.6,717.6Z" fill="#7ef229"/>
<path d="M465.1,740L458.4,736.9L464.5,734.1L471.1,737.1Z" fill="#2af46e"/>
<path d="M528.3,735.3L521.7,733.3L527.7,729.4L534.3,731.2Z" fill="#35f245"/>
<path d="M604.4,709L597.5,708.5L603.7,703.6L610.5,703.8Z" fill="#d5f228"/>
<path d="M452.4,739.6L445.7,736.3L451.8,733.7L458.4,736.9Z" fill="#2af46c"/>
<path d="M541,733L534.3,731.2L540.3,727.1L547,728.7Z" fill="#46f23b"/>
<path d="M585.3,718.5L578.6,717.6L584.6,712.8L591.4,713.5Z" fill="#9ef229"/>
<path d="M439.6,738.8L432.9,735.2L439,732.9L445.7,736.3Z" fill="#2bf365"/>
<path d="M553.7,730.3L547,728.7L553,724.4L559.7,725.7Z" fill="#5bf230"/>
<path d="M636.9,693L629.9,693.3L636.1,687.9L643.1,687.5Z" fill="#ffbb28"/>
<path d="M656.5,681.2L649.4,681.9L655.7,676.3L662.9,675.4Z" fill="#f9623c"/>
<path d="M617.5,704L610.5,703.8L616.7,698.7L623.6,698.7Z" fill="#f3e729"/>
<path d="M566.4,727.1L559.7,725.7L565.8,721.2L572.5,722.3Z" fill="#74f32b"/>
<path d="M497.1,742.2L490.4,739.5L496.4,736.1L503,738.5Z" fill="#2ef363"/>
<path d="M598.3,714.2L591.4,713.5L597.5,708.5L604.4,709Z" fill="#c5f22a"/>
<path d="M484.4,742.9L477.8,740L483.8,736.8L490.4,739.5Z" fill="#2df36a"/>
<path d="M509.7,741L503,738.5L509,734.9L515.7,737.1Z" fill="#30f358"/>
<path d="M471.8,743.2L465.1,740L471.1,737.1L477.8,740Z" fill="#2cf46c"/>
<path d="M522.3,739.4L515.7,737.1L521.7,733.3L528.3,735.3Z" fill="#34f34a"/>
<path d="M459.1,743L452.4,739.6L458.4,736.9L465.1,740Z" fill="#2cf46b"/>
<path d="M535,737.3L528.3,735.3L534.3,731.2L541,733Z" fill="#42f340"/>
<path d="M579.2,723.4L572.5,722.3L578.6,717.6L585.3,718.5Z" fill="#92f32b"/>
<path d="M630.6,698.6L623.6,698.7L629.9,693.3L636.9,693Z" fill="#ffcc29"/>
<path d="M650.2,687L643.1,687.5L649.4,681.9L656.5,681.2Z" fill="#fc8432"/>
<path d="M446.3,742.4L439.6,738.8L445.7,736.3L452.4,739.6Z" fill="#2df366"/>
<path d="M547.7,734.8L541,733L547,728.7L553.7,730.3Z" fill="#54f337"/>
<path d="M611.3,709.4L604.4,709L610.5,703.8L617.5,704Z" fill="#eff12a"/>
<path d="M592.1,719.4L585.3,718.5L591.4,713.5L598.3,714.2Z" fill="#b7f32c"/>
<path d="M560.4,731.8L553.7,730.3L559.7,725.7L566.4,727.1Z" fill="#6af32c"/>
<path d="M491.1,745.9L484.4,742.9L490.4,739.5L497.1,742.2Z" fill="#30f366"/>
<path d="M503.7,744.9L497.1,742.2L503,738.5L509.7,741Z" fill="#32f35d"/>
<path d="M478.4,746.4L471.8,743.2L477.8,740L484.4,742.9Z" fill="#2ff36a"/>
<path d="M516.3,743.5L509.7,741L515.7,737.1L522.3,739.4Z" fill="#34f351"/>
<path d="M643.9,692.8L636.9,693L643.1,687.5L650.2,687Z" fill="#ffa22a"/>
<path d="M624.4,704.2L617.5,704L623.6,698.7L630.6,698.6Z" fill="#fcd92b"/>
<path d="M465.8,746.4L459.1,743L465.1,740L471.8,743.2Z" fill="#2ef46b"/>
<path d="M573.2,728.4L566.4,727.1L572.5,722.3L579.2,723.4Z" fill="#87f32d"/>
<path d="M529,741.7L522.3,739.4L528.3,735.3L535,737.3Z" fill="#3df346"/>
<path d="M605.1,714.8L598.3,714.2L604.4,709L611.3,709.4Z" fill="#e0f32c"/>
<path d="M453,746L446.3,742.4L452.4,739.6L459.1,743Z" fill="#2ff369"/>
<path d="M541.7,739.4L535,737.3L541,733L547.7,734.8Z" fill="#4ef33c"/>
<path d="M586,724.6L579.2,723.4L585.3,718.5L592.1,719.4Z" fill="#a8f32d"/>
<path d="M554.4,736.6L547.7,734.8L553.7,730.3L560.4,731.8Z" fill="#62f331"/>
<path d="M637.6,698.6L630.6,698.6L636.9,693L643.9,692.8Z" fill="#ffb42c"/>
<path d="M618.2,709.9L611.3,709.4L617.5,704L624.4,704.2Z" fill="#f7e32d"/>
<path d="M497.7,748.8L491.1,745.9L497.1,742.2L503.7,744.9Z" fill="#33f462"/>
<path d="M567.1,733.4L560.4,731.8L566.4,727.1L573.2,728.4Z" fill="#7bf32f"/>
<path d="M485.1,749.5L478.4,746.4L484.4,742.9L491.1,745.9Z" fill="#31f469"/>
<path d="M510.4,747.6L503.7,744.9L509.7,741L516.3,743.5Z" fill="#35f458"/>
<path d="M599,720.2L592.1,719.4L598.3,714.2L605.1,714.8Z" fill="#cff32e"/>
<path d="M472.4,749.8L465.8,746.4L471.8,743.2L478.4,746.4Z" fill="#31f46c"/>
<path d="M523,746L516.3,743.5L522.3,739.4L529,741.7Z" fill="#39f34b"/>
<path d="M459.7,749.6L453,746L459.1,743L465.8,746.4Z" fill="#31f46b"/>
<path d="M535.7,743.9L529,741.7L535,737.3L541.7,739.4Z" fill="#48f342"/>
<path d="M579.9,729.8L573.2,728.4L579.2,723.4L586,724.6Z" fill="#9af32f"/>
<path d="M631.3,704.4L624.4,704.2L630.6,698.6L637.6,698.6Z" fill="#ffc52d"/>
<path d="M548.3,741.4L541.7,739.4L547.7,734.8L554.4,736.6Z" fill="#5af338"/>
<path d="M612,715.5L605.1,714.8L611.3,709.4L618.2,709.9Z" fill="#f1ed2e"/>
<path d="M561.1,738.4L554.4,736.6L560.4,731.8L567.1,733.4Z" fill="#70f330"/>
<path d="M592.8,725.7L586,724.6L592.1,719.4L599,720.2Z" fill="#bef330"/>
<path d="M491.8,752.7L485.1,749.5L491.1,745.9L497.7,748.8Z" fill="#34f467"/>
<path d="M504.4,751.7L497.7,748.8L503.7,744.9L510.4,747.6Z" fill="#36f45f"/>
<path d="M479.1,753.2L472.4,749.8L478.4,746.4L485.1,749.5Z" fill="#33f46c"/>
<path d="M517,750.3L510.4,747.6L516.3,743.5L523,746Z" fill="#38f352"/>
<path d="M466.4,753.3L459.7,749.6L465.8,746.4L472.4,749.8Z" fill="#33f46c"/>
<path d="M573.9,735L567.1,733.4L573.2,728.4L579.9,729.8Z" fill="#8cf331"/>
<path d="M529.7,748.5L523,746L529,741.7L535.7,743.9Z" fill="#42f349"/>
<path d="M625.1,710.3L618.2,709.9L624.4,704.2L631.3,704.4Z" fill="#fdd52f"/>
<path d="M605.8,721.1L599,720.2L605.1,714.8L612,715.5Z" fill="#e6f330"/>
<path d="M542.3,746.2L535.7,743.9L541.7,739.4L548.3,741.4Z" fill="#53f33f"/>
<path d="M586.7,731.1L579.9,729.8L586,724.6L592.8,725.7Z" fill="#adf331"/>
<path d="M555.1,743.4L548.3,741.4L554.4,736.6L561.1,738.4Z" fill="#66f335"/>
<path d="M618.9,716.1L612,715.5L618.2,709.9L625.1,710.3Z" fill="#f8e031"/>
<path d="M498.4,755.9L491.8,752.7L497.7,748.8L504.4,751.7Z" fill="#37f465"/>
<path d="M485.8,756.6L479.1,753.2L485.1,749.5L491.8,752.7Z" fill="#35f46b"/>
<path d="M567.8,740.2L561.1,738.4L567.1,733.4L573.9,735Z" fill="#80f333"/>
<path d="M511.1,754.7L504.4,751.7L510.4,747.6L517,750.3Z" fill="#39f45b"/>
<path d="M473.1,756.9L466.4,753.3L472.4,749.8L479.1,753.2Z" fill="#35f46f"/>
<path d="M599.7,726.7L592.8,725.7L599,720.2L605.8,721.1Z" fill="#d3f332"/>
<path d="M523.7,753L517,750.3L523,746L529.7,748.5Z" fill="#3df34e"/>
<path d="M536.4,751L529.7,748.5L535.7,743.9L542.3,746.2Z" fill="#4cf346"/>
<path d="M580.6,736.5L573.9,735L579.9,729.8L586.7,731.1Z" fill="#9df333"/>
<path d="M549,748.4L542.3,746.2L548.3,741.4L555.1,743.4Z" fill="#5df33d"/>
<path d="M612.7,722L605.8,721.1L612,715.5L618.9,716.1Z" fill="#f3ec33"/>
<path d="M561.8,745.4L555.1,743.4L561.1,738.4L567.8,740.2Z" fill="#73f334"/>
<path d="M593.5,732.4L586.7,731.1L592.8,725.7L599.7,726.7Z" fill="#c1f334"/>
<path d="M492.5,760L485.8,756.6L491.8,752.7L498.4,755.9Z" fill="#38f46c"/>
<path d="M505.1,759L498.4,755.9L504.4,751.7L511.1,754.7Z" fill="#3af464"/>
<path d="M479.8,760.5L473.1,756.9L479.1,753.2L485.8,756.6Z" fill="#37f471"/>
<path d="M517.7,757.6L511.1,754.7L517,750.3L523.7,753Z" fill="#3cf358"/>
<path d="M530.4,755.7L523.7,753L529.7,748.5L536.4,751Z" fill="#45f34d"/>
<path d="M574.6,742L567.8,740.2L573.9,735L580.6,736.5Z" fill="#8ff335"/>
<path d="M543,753.4L536.4,751L542.3,746.2L549,748.4Z" fill="#55f344"/>
<path d="M606.5,727.8L599.7,726.7L605.8,721.1L612.7,722Z" fill="#e8f334"/>
<path d="M587.4,738.1L580.6,736.5L586.7,731.1L593.5,732.4Z" fill="#aef336"/>
<path d="M555.8,750.6L549,748.4L555.1,743.4L561.8,745.4Z" fill="#68f33a"/>
<path d="M499.1,763.4L492.5,760L498.4,755.9L505.1,759Z" fill="#3af46c"/>
<path d="M486.5,764.1L479.8,760.5L485.8,756.6L492.5,760Z" fill="#38f572"/>
<path d="M511.8,762.2L505.1,759L511.1,754.7L517.7,757.6Z" fill="#3cf462"/>
<path d="M568.5,747.4L561.8,745.4L567.8,740.2L574.6,742Z" fill="#81f337"/>
<path d="M524.4,760.5L517.7,757.6L523.7,753L530.4,755.7Z" fill="#3ff355"/>
<path d="M600.4,733.7L593.5,732.4L599.7,726.7L606.5,727.8Z" fill="#d4f336"/>
<path d="M537.1,758.4L530.4,755.7L536.4,751L543,753.4Z" fill="#4cf34c"/>
<path d="M581.3,743.7L574.6,742L580.6,736.5L587.4,738.1Z" fill="#9df337"/>
<path d="M549.7,755.9L543,753.4L549,748.4L555.8,750.6Z" fill="#5ef342"/>
<path d="M562.5,752.9L555.8,750.6L561.8,745.4L568.5,747.4Z" fill="#72f339"/>
<path d="M594.2,739.6L587.4,738.1L593.5,732.4L600.4,733.7Z" fill="#c0f338"/>
<path d="M493.2,767.7L486.5,764.1L492.5,760L499.1,763.4Z" fill="#3bf575"/>
<path d="M505.8,766.8L499.1,763.4L505.1,759L511.8,762.2Z" fill="#3cf46c"/>
<path d="M518.5,765.3L511.8,762.2L517.7,757.6L524.4,760.5Z" fill="#3ff461"/>
<path d="M531.1,763.5L524.4,760.5L530.4,755.7L537.1,758.4Z" fill="#44f353"/>
<path d="M575.3,749.4L568.5,747.4L574.6,742L581.3,743.7Z" fill="#8ef339"/>
<path d="M543.8,761.1L537.1,758.4L543,753.4L549.7,755.9Z" fill="#54f34b"/>
<path d="M556.5,758.4L549.7,755.9L555.8,750.6L562.5,752.9Z" fill="#67f341"/>
<path d="M588.1,745.5L581.3,743.7L587.4,738.1L594.2,739.6Z" fill="#acf33a"/>
<path d="M499.9,771.4L493.2,767.7L499.1,763.4L505.8,766.8Z" fill="#3df577"/>
<path d="M512.5,770.2L505.8,766.8L511.8,762.2L518.5,765.3Z" fill="#3ff46d"/>
<path d="M569.2,755.1L562.5,752.9L568.5,747.4L575.3,749.4Z" fill="#7ef33b"/>
<path d="M525.1,768.5L518.5,765.3L524.4,760.5L531.1,763.5Z" fill="#42f460"/>
<path d="M537.8,766.4L531.1,763.5L537.1,758.4L543.8,761.1Z" fill="#4af453"/>
<path d="M582,751.4L575.3,749.4L581.3,743.7L588.1,745.5Z" fill="#9af43c"/>
<path d="M550.5,763.8L543.8,761.1L549.7,755.9L556.5,758.4Z" fill="#5bf44a"/>
<path d="M563.2,760.8L556.5,758.4L562.5,752.9L569.2,755.1Z" fill="#6ff43f"/>
<path d="M506.6,775L499.9,771.4L505.8,766.8L512.5,770.2Z" fill="#3ff579"/>
<path d="M519.2,773.5L512.5,770.2L518.5,765.3L525.1,768.5Z" fill="#42f46e"/>
<path d="M531.8,771.7L525.1,768.5L531.1,763.5L537.8,766.4Z" fill="#44f45f"/>
<path d="M575.9,757.3L569.2,755.1L575.3,749.4L582,751.4Z" fill="#89f43e"/>
<path d="M544.5,769.3L537.8,766.4L543.8,761.1L550.5,763.8Z" fill="#50f453"/>
<path d="M557.2,766.5L550.5,763.8L556.5,758.4L563.2,760.8Z" fill="#63f449"/>
<path d="M513.3,778.6L506.6,775L512.5,770.2L519.2,773.5Z" fill="#42f57b"/>
<path d="M569.9,763.3L563.2,760.8L569.2,755.1L575.9,757.3Z" fill="#78f440"/>
<path d="M525.9,776.9L519.2,773.5L525.1,768.5L531.8,771.7Z" fill="#44f56e"/>
<path d="M538.5,774.8L531.8,771.7L537.8,766.4L544.5,769.3Z" fill="#48f45e"/>
<path d="M551.2,772.2L544.5,769.3L550.5,763.8L557.2,766.5Z" fill="#56f453"/>
<path d="M563.9,769.2L557.2,766.5L563.2,760.8L569.9,763.3Z" fill="#6af449"/>
<path d="M520,782.2L513.3,778.6L519.2,773.5L525.9,776.9Z" fill="#44f57e"/>
<path d="M532.6,780.3L525.9,776.9L531.8,771.7L538.5,774.8Z" fill="#47f56f"/>
<path d="M545.2,778L538.5,774.8L544.5,769.3L551.2,772.2Z" fill="#4bf45d"/>
<path d="M557.9,775.2L551.2,772.2L557.2,766.5L563.9,769.2Z" fill="#5df454"/>
<path d="M526.6,785.8L520,782.2L525.9,776.9L532.6,780.3Z" fill="#47f680"/>
<path d="M539.2,783.7L532.6,780.3L538.5,774.8L545.2,778Z" fill="#4af570"/>
<path d="M551.9,781.1L545.2,778L551.2,772.2L557.9,775.2Z" fill="#50f45e"/>
<path d="M533.3,789.5L526.6,785.8L532.6,780.3L539.2,783.7Z" fill="#49f682"/>
<path d="M545.9,787.1L539.2,783.7L545.2,778L551.9,781.1Z" fill="#4df570"/>
<path d="M540,793.1L533.3,789.5L539.2,783.7L545.9,787.1Z" fill="#4cf685"/>
</g>
<circle cx="406.3" cy="722" r="2.4" fill="#f4c4c4" stroke="#a55" stroke-width="0.6"/>
<circle cx="527.9" cy="689.9" r="2.4" fill="#f4c4c4" stroke="#a55" stroke-width="0.6"/>
<circle cx="663.1" cy="674.5" r="2.4" fill="#c00000" stroke="#700" stroke-width="0.6"/>
<circle cx="539.4" cy="793.8" r="2.4" fill="#c00000" stroke="#700" stroke-width="0.6"/>
<circle cx="532.5" cy="715.5" r="2.0" fill="#c00000" stroke="#700" stroke-width="0.6"/>
<text font-size="9.3" text-anchor="end" fill="#383838" transform="translate(533.3,872.2) scale(1.0,1)">165</text>
<text font-size="9.3" text-anchor="end" fill="#383838" transform="translate(508.2,857.7) scale(1.0,1)">168</text>
<text font-size="9.3" text-anchor="end" fill="#383838" transform="translate(483.1,843.2) scale(1.0,1)">171</text>
<text font-size="9.3" text-anchor="end" fill="#383838" transform="translate(458,828.7) scale(1.0,1)">174</text>
<text font-size="9.3" text-anchor="end" fill="#383838" transform="translate(432.9,814.3) scale(1.0,1)">177</text>
<text font-size="9.3" text-anchor="end" fill="#383838" transform="translate(407.8,799.8) scale(1.0,1)">180</text>
<text font-size="9.3" text-anchor="start" fill="#383838" transform="translate(545.3,872.4) scale(1.0,1)">0.25</text>
<text font-size="9.3" text-anchor="start" fill="#383838" transform="translate(573.2,852.6) scale(1.0,1)">0.2</text>
<text font-size="9.3" text-anchor="start" fill="#383838" transform="translate(601,832.9) scale(1.0,1)">0.15</text>
<text font-size="9.3" text-anchor="start" fill="#383838" transform="translate(628.8,813.2) scale(1.0,1)">0.1</text>
<text font-size="9.3" text-anchor="start" fill="#383838" transform="translate(656.6,793.4) scale(1.0,1)">0.05</text>
<text font-size="9.3" text-anchor="end" fill="#383838" transform="translate(404.8,759.4) scale(1.0,1)">100</text>
<text font-size="9.3" text-anchor="end" fill="#383838" transform="translate(402.6,739.7) scale(1.0,1)">150</text>
<text font-size="9.3" text-anchor="end" fill="#383838" transform="translate(400.5,720.1) scale(1.0,1)">200</text>
<text font-size="9.3" text-anchor="end" fill="#383838" transform="translate(398.3,700.4) scale(1.0,1)">250</text>
<text font-size="9.3" text-anchor="end" fill="#383838" transform="translate(396.2,680.8) scale(1.0,1)">300</text>
<text font-size="9.3" text-anchor="end" fill="#383838" transform="translate(394,661.1) scale(1.0,1)">350</text>
<text font-size="9.3" text-anchor="middle" fill="#383838" transform="translate(435.5,858.6) scale(1.06,1)">B (C)</text>
<text font-size="9.3" text-anchor="middle" fill="#383838" transform="translate(641.3,852.9) scale(1.06,1)">C (wt%)</text>
<text font-size="9.3" text-anchor="middle" fill="#383838" transform="translate(367.8,729.7) rotate(-90) scale(0.92,1)">R1 (nm)</text>
<text x="406" y="636.2" font-family="Liberation Serif" font-weight="bold" font-size="19.5" fill="#000">(f)</text>
</svg>
</body></html>
